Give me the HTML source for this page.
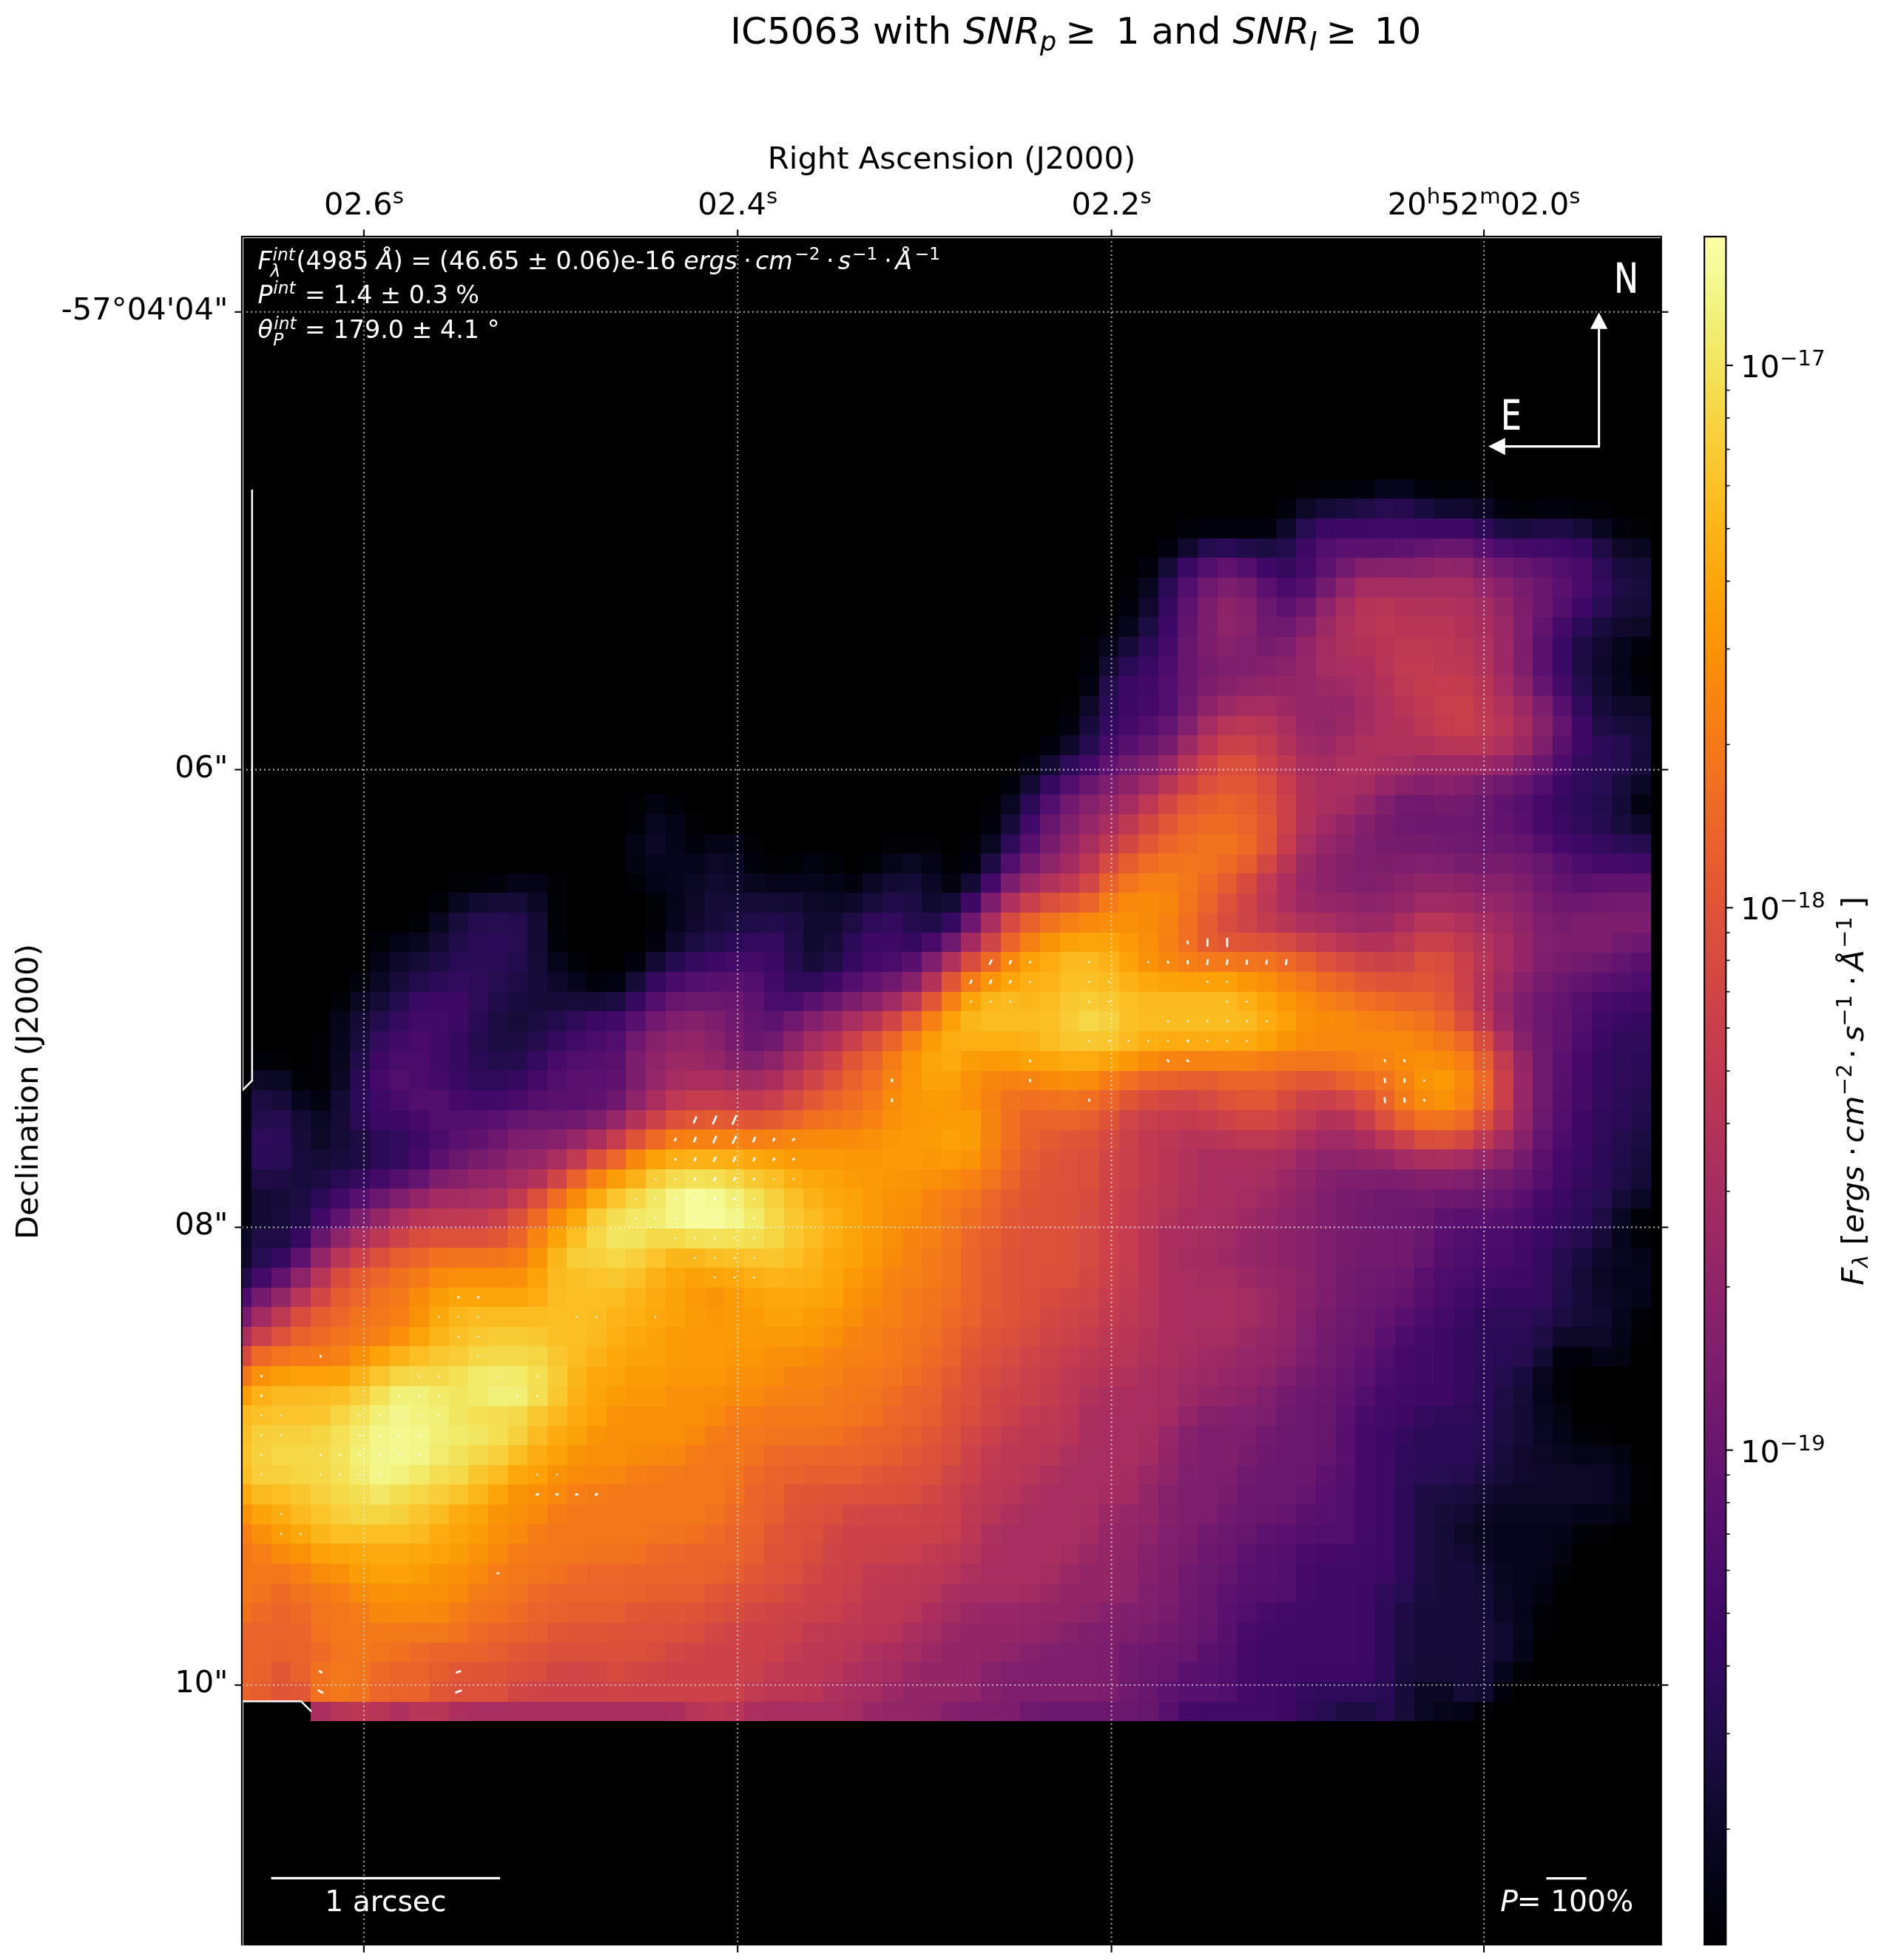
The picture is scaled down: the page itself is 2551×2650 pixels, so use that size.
<!DOCTYPE html>
<html><head><meta charset="utf-8"><title>IC5063</title>
<style>html,body{margin:0;padding:0;background:#fff}svg{display:block;will-change:transform}text{font-family:"DejaVu Sans","Liberation Sans",sans-serif;}.i{font-style:italic}</style></head><body>
<svg width="2551" height="2650" viewBox="0 0 2551 2650">
<rect x="0" y="0" width="2551" height="2650" fill="#fff"/>
<rect x="326.9" y="319.9" width="1919.0" height="2310.4" fill="#000"/>
<g shape-rendering="crispEdges">
<path fill="#010106" d="M1992.0 2300.1h26.8v27.1h-26.8zM2072.0 2193.5h26.8v27.1h-26.8zM2151.9 2060.3h26.8v27.1h-26.8zM2205.2 2007.0h26.8v27.1h-26.8zM2205.2 1980.3h26.8v27.1h-26.8zM2151.9 1927.0h26.8v27.1h-26.8zM2098.6 1847.1h26.8v27.1h-26.8zM2205.2 1793.8h26.8v27.1h-26.8zM420.0 1447.3h26.8v27.1h-26.8zM366.7 1420.6h26.8v27.1h-26.8zM420.0 1420.6h26.8v27.1h-26.8zM420.0 1394.0h26.8v27.1h-26.8zM872.9 1234.1h26.8v27.1h-26.8zM606.5 1180.8h26.8v27.1h-26.8zM739.7 1180.8h26.8v27.1h-26.8zM1032.8 1154.1h26.8v27.1h-26.8zM1272.6 1154.1h26.8v27.1h-26.8zM1006.2 1127.5h26.8v27.1h-26.8zM1192.7 1127.5h80.1v27.1h-80.1zM1299.2 1127.5h26.8v27.1h-26.8zM926.2 1100.8h26.8v27.1h-26.8zM846.3 1074.2h26.8v27.1h-26.8zM1325.9 1074.2h26.8v27.1h-26.8zM1432.5 940.9h26.8v27.1h-26.8zM2205.2 887.6h26.8v27.1h-26.8zM1459.1 860.9h26.8v27.1h-26.8zM1512.4 781.0h26.8v27.1h-26.8zM2205.2 701.0h26.8v27.1h-26.8zM2151.9 674.4h26.8v27.1h-26.8zM1752.2 647.7h26.8v27.1h-26.8zM1992.0 647.7h26.8v27.1h-26.8z"/>
<path fill="#010108" d="M2045.3 2246.8h26.8v27.1h-26.8zM2072.0 2166.9h26.8v27.1h-26.8zM2098.6 2113.6h26.8v27.1h-26.8zM2125.2 2060.3h26.8v27.1h-26.8zM2125.2 1927.0h26.8v27.1h-26.8zM2098.6 1873.7h26.8v27.1h-26.8zM2205.2 1767.1h26.8v27.1h-26.8zM2205.2 1660.5h26.8v27.1h-26.8zM2205.2 1633.8h26.8v27.1h-26.8zM326.9 1447.3h13.4v27.1h-13.4zM393.3 1447.3h26.8v27.1h-26.8zM340.0 1420.6h26.8v27.1h-26.8zM446.6 1340.7h26.8v27.1h-26.8zM766.3 1287.4h26.8v27.1h-26.8zM499.9 1260.7h26.8v27.1h-26.8zM553.2 1234.1h26.8v27.1h-26.8zM739.7 1234.1h26.8v27.1h-26.8zM579.8 1207.4h26.8v27.1h-26.8zM739.7 1207.4h26.8v27.1h-26.8zM872.9 1207.4h26.8v27.1h-26.8zM633.1 1180.8h26.8v27.1h-26.8zM846.3 1180.8h26.8v27.1h-26.8zM1059.4 1154.1h26.8v27.1h-26.8zM1112.7 1154.1h26.8v27.1h-26.8zM1166.0 1154.1h26.8v27.1h-26.8zM846.3 1100.8h26.8v27.1h-26.8zM899.6 1074.2h26.8v27.1h-26.8zM1459.1 887.6h26.8v27.1h-26.8zM1485.8 834.3h26.8v27.1h-26.8zM1592.3 701.0h26.8v27.1h-26.8zM2045.3 674.4h26.8v27.1h-26.8zM2125.2 674.4h26.8v27.1h-26.8zM1778.9 647.7h53.5v27.1h-53.5zM1938.7 647.7h53.5v27.1h-53.5z"/>
<path fill="#02020c" d="M2018.7 2273.5h26.8v27.1h-26.8zM2125.2 1820.4h26.8v27.1h-26.8zM326.9 1607.2h13.4v27.1h-13.4zM473.3 1314.0h26.8v27.1h-26.8zM793.0 1314.0h26.8v27.1h-26.8zM739.7 1260.7h26.8v27.1h-26.8zM659.8 1180.8h26.8v27.1h-26.8zM1006.2 1154.1h26.8v27.1h-26.8zM926.2 1127.5h26.8v27.1h-26.8zM1325.9 1100.8h26.8v27.1h-26.8zM1352.5 1047.5h26.8v27.1h-26.8zM2205.2 914.2h26.8v27.1h-26.8zM2205.2 860.9h26.8v27.1h-26.8zM1512.4 807.6h26.8v27.1h-26.8zM1539.1 754.3h26.8v27.1h-26.8zM1672.3 701.0h26.8v27.1h-26.8zM2178.5 701.0h26.8v27.1h-26.8zM1725.6 674.4h26.8v27.1h-26.8zM2072.0 674.4h53.5v27.1h-53.5z"/>
<path fill="#02020e" d="M2098.6 1820.4h26.8v27.1h-26.8zM326.9 1633.8h13.4v27.1h-13.4zM326.9 1580.5h13.4v27.1h-13.4zM326.9 1500.6h13.4v27.1h-13.4zM326.9 1473.9h13.4v27.1h-13.4zM846.3 1287.4h26.8v27.1h-26.8zM872.9 1260.7h26.8v27.1h-26.8zM1139.4 1180.8h26.8v27.1h-26.8zM1299.2 1154.1h26.8v27.1h-26.8zM1379.2 1020.9h26.8v27.1h-26.8zM1405.8 994.2h26.8v27.1h-26.8zM1432.5 967.5h26.8v27.1h-26.8zM1565.7 727.7h26.8v27.1h-26.8zM1619.0 701.0h53.5v27.1h-53.5zM1698.9 701.0h26.8v27.1h-26.8zM2018.7 674.4h26.8v27.1h-26.8zM1832.1 647.7h26.8v27.1h-26.8zM1912.1 647.7h26.8v27.1h-26.8z"/>
<path fill="#030210" d="M326.9 1553.9h13.4v27.1h-13.4zM326.9 1527.2h13.4v27.1h-13.4zM420.0 1473.9h26.8v27.1h-26.8zM819.6 1314.0h26.8v27.1h-26.8zM1086.1 1154.1h26.8v27.1h-26.8zM872.9 1074.2h26.8v27.1h-26.8zM1459.1 914.2h26.8v27.1h-26.8z"/>
<path fill="#040312" d="M2072.0 2140.2h26.8v27.1h-26.8zM2098.6 2086.9h26.8v27.1h-26.8zM2178.5 2033.6h26.8v27.1h-26.8zM2178.5 1953.7h26.8v27.1h-26.8zM2098.6 1900.4h26.8v27.1h-26.8zM2178.5 1820.4h26.8v27.1h-26.8zM1272.6 1180.8h26.8v27.1h-26.8zM846.3 1154.1h26.8v27.1h-26.8zM2205.2 1074.2h26.8v27.1h-26.8z"/>
<path fill="#050417" d="M1965.4 2300.1h26.8v27.1h-26.8zM2151.9 1820.4h26.8v27.1h-26.8zM499.9 1287.4h26.8v27.1h-26.8zM526.5 1260.7h26.8v27.1h-26.8zM713.1 1180.8h26.8v27.1h-26.8zM872.9 1180.8h26.8v27.1h-26.8zM1112.7 1180.8h26.8v27.1h-26.8zM1246.0 1154.1h26.8v27.1h-26.8zM846.3 1127.5h26.8v27.1h-26.8zM952.9 1127.5h53.5v27.1h-53.5zM899.6 1100.8h26.8v27.1h-26.8z"/>
<path fill="#060419" d="M2045.3 2220.2h26.8v27.1h-26.8zM2045.3 2166.9h26.8v27.1h-26.8zM2072.0 2113.6h26.8v27.1h-26.8zM2098.6 2060.3h26.8v27.1h-26.8zM2125.2 2033.6h53.5v27.1h-53.5zM2178.5 2007.0h26.8v27.1h-26.8zM2178.5 1980.3h26.8v27.1h-26.8zM2125.2 1953.7h53.5v27.1h-53.5zM2098.6 1927.0h26.8v27.1h-26.8zM2178.5 1793.8h26.8v27.1h-26.8zM2205.2 1740.5h26.8v27.1h-26.8zM2205.2 1687.2h26.8v27.1h-26.8zM446.6 1367.3h26.8v27.1h-26.8zM899.6 1207.4h26.8v27.1h-26.8zM686.4 1180.8h26.8v27.1h-26.8zM1192.7 1154.1h26.8v27.1h-26.8zM899.6 1127.5h26.8v27.1h-26.8zM2178.5 887.6h26.8v27.1h-26.8z"/>
<path fill="#07051b" d="M1938.7 2300.1h26.8v27.1h-26.8zM2018.7 2246.8h26.8v27.1h-26.8zM2045.3 2193.5h26.8v27.1h-26.8zM2045.3 2140.2h26.8v27.1h-26.8zM2045.3 2113.6h26.8v27.1h-26.8zM2018.7 2086.9h80.1v27.1h-80.1zM2018.7 2060.3h80.1v27.1h-80.1zM2072.0 1873.7h26.8v27.1h-26.8zM2178.5 1767.1h26.8v27.1h-26.8zM2178.5 1713.8h53.5v27.1h-53.5zM2178.5 1660.5h26.8v27.1h-26.8zM393.3 1473.9h26.8v27.1h-26.8zM446.6 1394.0h26.8v27.1h-26.8zM766.3 1314.0h26.8v27.1h-26.8zM739.7 1287.4h26.8v27.1h-26.8zM899.6 1234.1h26.8v27.1h-26.8zM899.6 1180.8h26.8v27.1h-26.8zM1032.8 1180.8h80.1v27.1h-80.1zM872.9 1154.1h80.1v27.1h-80.1zM2178.5 914.2h26.8v27.1h-26.8zM1485.8 860.9h26.8v27.1h-26.8zM2178.5 860.9h26.8v27.1h-26.8zM1512.4 834.3h26.8v27.1h-26.8zM1858.8 647.7h53.5v27.1h-53.5z"/>
<path fill="#09061f" d="M2018.7 2113.6h26.8v27.1h-26.8zM1992.0 2060.3h26.8v27.1h-26.8zM2018.7 2033.6h106.8v27.1h-106.8zM2098.6 1953.7h26.8v27.1h-26.8zM2072.0 1900.4h26.8v27.1h-26.8zM2072.0 1847.1h26.8v27.1h-26.8zM2178.5 1740.5h26.8v27.1h-26.8zM2178.5 1687.2h26.8v27.1h-26.8zM446.6 1420.6h26.8v27.1h-26.8zM553.2 1260.7h26.8v27.1h-26.8zM579.8 1234.1h26.8v27.1h-26.8zM606.5 1207.4h26.8v27.1h-26.8zM1006.2 1180.8h26.8v27.1h-26.8zM872.9 1100.8h26.8v27.1h-26.8zM1539.1 781.0h26.8v27.1h-26.8zM2205.2 727.7h26.8v27.1h-26.8zM2151.9 701.0h26.8v27.1h-26.8z"/>
<path fill="#0a0722" d="M1912.1 2300.1h26.8v27.1h-26.8zM2018.7 2140.2h26.8v27.1h-26.8zM2072.0 1927.0h26.8v27.1h-26.8zM326.9 1660.5h13.4v27.1h-13.4zM2178.5 1633.8h26.8v27.1h-26.8zM2205.2 1607.2h26.8v27.1h-26.8zM420.0 1500.6h26.8v27.1h-26.8zM366.7 1447.3h26.8v27.1h-26.8zM473.3 1340.7h26.8v27.1h-26.8zM499.9 1314.0h26.8v27.1h-26.8zM1112.7 1207.4h26.8v27.1h-26.8zM926.2 1180.8h26.8v27.1h-26.8zM979.5 1154.1h26.8v27.1h-26.8zM1219.3 1154.1h26.8v27.1h-26.8zM1325.9 1127.5h26.8v27.1h-26.8zM1352.5 1074.2h26.8v27.1h-26.8zM2205.2 1047.5h26.8v27.1h-26.8z"/>
<path fill="#0b0724" d="M1912.1 2273.5h53.5v27.1h-53.5zM2018.7 2166.9h26.8v27.1h-26.8zM1992.0 2086.9h26.8v27.1h-26.8zM1992.0 2033.6h26.8v27.1h-26.8zM2151.9 2007.0h26.8v27.1h-26.8zM2151.9 1980.3h26.8v27.1h-26.8zM2151.9 1713.8h26.8v27.1h-26.8zM446.6 1447.3h26.8v27.1h-26.8zM713.1 1207.4h26.8v27.1h-26.8zM1166.0 1180.8h26.8v27.1h-26.8zM1246.0 1180.8h26.8v27.1h-26.8zM872.9 1127.5h26.8v27.1h-26.8zM1992.0 674.4h26.8v27.1h-26.8z"/>
<path fill="#0c0826" d="M1965.4 2060.3h26.8v27.1h-26.8zM2045.3 2007.0h106.8v27.1h-106.8zM2098.6 1980.3h53.5v27.1h-53.5zM2072.0 1953.7h26.8v27.1h-26.8zM2125.2 1793.8h53.5v27.1h-53.5zM420.0 1527.2h26.8v27.1h-26.8zM340.0 1447.3h26.8v27.1h-26.8zM926.2 1207.4h26.8v27.1h-26.8zM1086.1 1207.4h26.8v27.1h-26.8zM952.9 1154.1h26.8v27.1h-26.8zM1459.1 940.9h26.8v27.1h-26.8zM2205.2 940.9h26.8v27.1h-26.8zM2205.2 834.3h26.8v27.1h-26.8zM2178.5 727.7h26.8v27.1h-26.8zM1752.2 674.4h26.8v27.1h-26.8z"/>
<path fill="#0e092b" d="M2018.7 2007.0h26.8v27.1h-26.8zM2072.0 1980.3h26.8v27.1h-26.8zM2098.6 1793.8h26.8v27.1h-26.8zM2151.9 1740.5h26.8v27.1h-26.8zM326.9 1687.2h13.4v27.1h-13.4zM2151.9 1687.2h26.8v27.1h-26.8zM739.7 1314.0h26.8v27.1h-26.8zM526.5 1287.4h26.8v27.1h-26.8zM899.6 1260.7h26.8v27.1h-26.8zM1139.4 1207.4h26.8v27.1h-26.8zM979.5 1180.8h26.8v27.1h-26.8zM2205.2 1100.8h26.8v27.1h-26.8zM1432.5 994.2h26.8v27.1h-26.8zM2178.5 940.9h26.8v27.1h-26.8zM2151.9 887.6h26.8v27.1h-26.8zM1725.6 701.0h26.8v27.1h-26.8z"/>
<path fill="#10092d" d="M2045.3 1980.3h26.8v27.1h-26.8zM2045.3 1953.7h26.8v27.1h-26.8zM926.2 1234.1h26.8v27.1h-26.8zM2151.9 860.9h26.8v27.1h-26.8zM2178.5 834.3h26.8v27.1h-26.8zM1539.1 807.6h26.8v27.1h-26.8zM1592.3 727.7h26.8v27.1h-26.8zM1965.4 674.4h26.8v27.1h-26.8z"/>
<path fill="#110a30" d="M1992.0 2273.5h26.8v27.1h-26.8zM2018.7 2220.2h26.8v27.1h-26.8zM2018.7 2193.5h26.8v27.1h-26.8zM1992.0 2113.6h26.8v27.1h-26.8zM2151.9 1767.1h26.8v27.1h-26.8zM1086.1 1260.7h26.8v27.1h-26.8zM1086.1 1234.1h53.5v27.1h-53.5zM633.1 1207.4h26.8v27.1h-26.8zM1246.0 1207.4h26.8v27.1h-26.8zM952.9 1180.8h26.8v27.1h-26.8zM2151.9 914.2h26.8v27.1h-26.8zM1938.7 674.4h26.8v27.1h-26.8z"/>
<path fill="#140b34" d="M1992.0 2246.8h26.8v27.1h-26.8zM1992.0 2140.2h26.8v27.1h-26.8zM1965.4 2086.9h26.8v27.1h-26.8zM1965.4 2033.6h26.8v27.1h-26.8zM1992.0 2007.0h26.8v27.1h-26.8zM2045.3 1927.0h26.8v27.1h-26.8zM2045.3 1900.4h26.8v27.1h-26.8zM2072.0 1820.4h26.8v27.1h-26.8zM340.0 1633.8h26.8v27.1h-26.8zM340.0 1607.2h26.8v27.1h-26.8zM393.3 1500.6h26.8v27.1h-26.8zM446.6 1473.9h26.8v27.1h-26.8zM473.3 1367.3h26.8v27.1h-26.8zM872.9 1287.4h26.8v27.1h-26.8zM579.8 1260.7h26.8v27.1h-26.8zM713.1 1260.7h26.8v27.1h-26.8zM713.1 1234.1h26.8v27.1h-26.8zM1059.4 1207.4h26.8v27.1h-26.8zM1192.7 1180.8h26.8v27.1h-26.8zM1299.2 1180.8h26.8v27.1h-26.8zM2178.5 1074.2h26.8v27.1h-26.8zM1379.2 1047.5h26.8v27.1h-26.8zM1405.8 1020.9h26.8v27.1h-26.8zM1485.8 887.6h26.8v27.1h-26.8z"/>
<path fill="#150b37" d="M1965.4 2273.5h26.8v27.1h-26.8zM1912.1 2246.8h53.5v27.1h-53.5zM1992.0 2166.9h26.8v27.1h-26.8zM1938.7 2060.3h26.8v27.1h-26.8zM2018.7 1980.3h26.8v27.1h-26.8zM2045.3 1873.7h26.8v27.1h-26.8zM2125.2 1767.1h26.8v27.1h-26.8zM2125.2 1713.8h26.8v27.1h-26.8zM2178.5 1607.2h26.8v27.1h-26.8zM2205.2 1580.5h26.8v27.1h-26.8zM420.0 1553.9h26.8v27.1h-26.8zM446.6 1527.2h26.8v27.1h-26.8zM446.6 1500.6h26.8v27.1h-26.8zM499.9 1340.7h26.8v27.1h-26.8zM846.3 1314.0h26.8v27.1h-26.8zM553.2 1287.4h26.8v27.1h-26.8zM713.1 1287.4h26.8v27.1h-26.8zM659.8 1207.4h53.5v27.1h-53.5zM952.9 1207.4h106.8v27.1h-106.8zM1272.6 1207.4h26.8v27.1h-26.8zM1219.3 1180.8h26.8v27.1h-26.8zM2205.2 967.5h26.8v27.1h-26.8zM2205.2 807.6h26.8v27.1h-26.8zM1565.7 754.3h26.8v27.1h-26.8zM2205.2 754.3h26.8v27.1h-26.8zM2125.2 701.0h26.8v27.1h-26.8zM1778.9 674.4h26.8v27.1h-26.8z"/>
<path fill="#160b39" d="M1885.4 2300.1h26.8v27.1h-26.8zM1885.4 2273.5h26.8v27.1h-26.8zM1965.4 2246.8h26.8v27.1h-26.8zM1912.1 2220.2h106.8v27.1h-106.8zM1912.1 2193.5h106.8v27.1h-106.8zM1912.1 2166.9h80.1v27.1h-80.1zM1938.7 2140.2h53.5v27.1h-53.5zM1938.7 2113.6h53.5v27.1h-53.5zM1938.7 2086.9h26.8v27.1h-26.8zM1938.7 2033.6h26.8v27.1h-26.8zM2125.2 1740.5h26.8v27.1h-26.8zM2151.9 1660.5h26.8v27.1h-26.8zM366.7 1607.2h26.8v27.1h-26.8zM393.3 1527.2h26.8v27.1h-26.8zM366.7 1473.9h26.8v27.1h-26.8zM686.4 1367.3h26.8v27.1h-26.8zM713.1 1340.7h106.8v27.1h-106.8zM526.5 1314.0h26.8v27.1h-26.8zM713.1 1314.0h26.8v27.1h-26.8zM1086.1 1287.4h26.8v27.1h-26.8zM1112.7 1260.7h26.8v27.1h-26.8zM952.9 1234.1h26.8v27.1h-26.8zM1352.5 1100.8h26.8v27.1h-26.8zM2205.2 1020.9h26.8v27.1h-26.8zM1459.1 967.5h26.8v27.1h-26.8zM2151.9 940.9h26.8v27.1h-26.8zM1512.4 860.9h26.8v27.1h-26.8z"/>
<path fill="#180c3c" d="M1885.4 2246.8h26.8v27.1h-26.8zM1912.1 2140.2h26.8v27.1h-26.8zM1965.4 2007.0h26.8v27.1h-26.8zM2018.7 1953.7h26.8v27.1h-26.8zM2045.3 1847.1h26.8v27.1h-26.8zM2125.2 1687.2h26.8v27.1h-26.8zM366.7 1633.8h26.8v27.1h-26.8zM393.3 1580.5h26.8v27.1h-26.8zM393.3 1553.9h26.8v27.1h-26.8zM446.6 1553.9h26.8v27.1h-26.8zM2205.2 1553.9h26.8v27.1h-26.8zM473.3 1394.0h26.8v27.1h-26.8zM686.4 1340.7h26.8v27.1h-26.8zM606.5 1234.1h26.8v27.1h-26.8zM1166.0 1207.4h26.8v27.1h-26.8zM2178.5 1100.8h26.8v27.1h-26.8zM2178.5 1047.5h26.8v27.1h-26.8zM2205.2 994.2h26.8v27.1h-26.8zM2178.5 967.5h26.8v27.1h-26.8zM2151.9 834.3h26.8v27.1h-26.8zM2178.5 807.6h26.8v27.1h-26.8zM2205.2 781.0h26.8v27.1h-26.8zM2178.5 754.3h26.8v27.1h-26.8zM2045.3 701.0h26.8v27.1h-26.8zM1805.5 674.4h26.8v27.1h-26.8zM1912.1 674.4h26.8v27.1h-26.8z"/>
<path fill="#1b0c41" d="M1805.5 2300.1h53.5v27.1h-53.5zM1885.4 2220.2h26.8v27.1h-26.8zM1885.4 2193.5h26.8v27.1h-26.8zM1912.1 2113.6h26.8v27.1h-26.8zM1912.1 2086.9h26.8v27.1h-26.8zM1912.1 2060.3h26.8v27.1h-26.8zM1912.1 2033.6h26.8v27.1h-26.8zM1938.7 2007.0h26.8v27.1h-26.8zM1992.0 1980.3h26.8v27.1h-26.8zM2018.7 1927.0h26.8v27.1h-26.8zM2018.7 1900.4h26.8v27.1h-26.8zM2098.6 1767.1h26.8v27.1h-26.8zM393.3 1607.2h26.8v27.1h-26.8zM2205.2 1527.2h26.8v27.1h-26.8zM340.0 1473.9h26.8v27.1h-26.8zM659.8 1394.0h53.5v27.1h-53.5zM659.8 1367.3h26.8v27.1h-26.8zM713.1 1367.3h26.8v27.1h-26.8zM819.6 1340.7h26.8v27.1h-26.8zM926.2 1260.7h26.8v27.1h-26.8zM979.5 1234.1h26.8v27.1h-26.8zM2125.2 887.6h26.8v27.1h-26.8zM1539.1 834.3h26.8v27.1h-26.8zM1698.9 727.7h26.8v27.1h-26.8zM2018.7 701.0h26.8v27.1h-26.8z"/>
<path fill="#1c0c43" d="M1885.4 2166.9h26.8v27.1h-26.8zM1912.1 2007.0h26.8v27.1h-26.8zM366.7 1580.5h26.8v27.1h-26.8zM420.0 1580.5h26.8v27.1h-26.8zM473.3 1553.9h26.8v27.1h-26.8zM473.3 1527.2h26.8v27.1h-26.8zM579.8 1287.4h26.8v27.1h-26.8zM1059.4 1234.1h26.8v27.1h-26.8zM1219.3 1207.4h26.8v27.1h-26.8zM1325.9 1154.1h26.8v27.1h-26.8zM2125.2 860.9h26.8v27.1h-26.8zM2072.0 701.0h53.5v27.1h-53.5z"/>
<path fill="#1e0c45" d="M2018.7 1873.7h26.8v27.1h-26.8zM2072.0 1793.8h26.8v27.1h-26.8zM340.0 1660.5h53.5v27.1h-53.5zM2151.9 1633.8h26.8v27.1h-26.8zM340.0 1580.5h26.8v27.1h-26.8zM2178.5 1580.5h26.8v27.1h-26.8zM686.4 1314.0h26.8v27.1h-26.8zM1112.7 1287.4h26.8v27.1h-26.8zM1139.4 1234.1h26.8v27.1h-26.8zM2151.9 967.5h26.8v27.1h-26.8zM2178.5 781.0h26.8v27.1h-26.8zM2151.9 727.7h26.8v27.1h-26.8zM1832.1 674.4h26.8v27.1h-26.8z"/>
<path fill="#210c4a" d="M2098.6 1740.5h26.8v27.1h-26.8zM326.9 1713.8h13.4v27.1h-13.4zM393.3 1633.8h26.8v27.1h-26.8zM2178.5 1553.9h26.8v27.1h-26.8zM2205.2 1500.6h26.8v27.1h-26.8zM473.3 1420.6h26.8v27.1h-26.8zM659.8 1340.7h26.8v27.1h-26.8zM606.5 1260.7h26.8v27.1h-26.8zM1059.4 1260.7h26.8v27.1h-26.8zM1006.2 1234.1h26.8v27.1h-26.8zM1246.0 1234.1h26.8v27.1h-26.8zM1192.7 1207.4h26.8v27.1h-26.8zM1672.3 727.7h26.8v27.1h-26.8z"/>
<path fill="#230c4c" d="M2018.7 1847.1h26.8v27.1h-26.8zM2098.6 1713.8h26.8v27.1h-26.8zM2178.5 1527.2h26.8v27.1h-26.8zM340.0 1500.6h26.8v27.1h-26.8zM659.8 1420.6h26.8v27.1h-26.8zM499.9 1367.3h26.8v27.1h-26.8zM739.7 1367.3h26.8v27.1h-26.8zM553.2 1314.0h26.8v27.1h-26.8zM686.4 1287.4h26.8v27.1h-26.8zM952.9 1260.7h26.8v27.1h-26.8zM1032.8 1234.1h26.8v27.1h-26.8zM2151.9 1074.2h26.8v27.1h-26.8zM1485.8 914.2h26.8v27.1h-26.8zM2125.2 914.2h26.8v27.1h-26.8zM1725.6 727.7h26.8v27.1h-26.8z"/>
<path fill="#240c4f" d="M1858.8 2300.1h26.8v27.1h-26.8zM1965.4 1980.3h26.8v27.1h-26.8zM1992.0 1953.7h26.8v27.1h-26.8zM2045.3 1820.4h26.8v27.1h-26.8zM2098.6 1687.2h26.8v27.1h-26.8zM2125.2 1660.5h26.8v27.1h-26.8zM366.7 1500.6h26.8v27.1h-26.8zM2205.2 1473.9h26.8v27.1h-26.8zM686.4 1420.6h26.8v27.1h-26.8zM633.1 1394.0h26.8v27.1h-26.8zM713.1 1394.0h26.8v27.1h-26.8zM526.5 1340.7h26.8v27.1h-26.8zM899.6 1287.4h26.8v27.1h-26.8zM1059.4 1287.4h26.8v27.1h-26.8zM633.1 1234.1h26.8v27.1h-26.8zM686.4 1234.1h26.8v27.1h-26.8zM1219.3 1234.1h26.8v27.1h-26.8zM2205.2 1127.5h26.8v27.1h-26.8zM2151.9 1100.8h26.8v27.1h-26.8zM2178.5 1020.9h26.8v27.1h-26.8zM1459.1 994.2h26.8v27.1h-26.8zM2178.5 994.2h26.8v27.1h-26.8zM1619.0 727.7h26.8v27.1h-26.8zM1885.4 674.4h26.8v27.1h-26.8z"/>
<path fill="#260c51" d="M1778.9 2300.1h26.8v27.1h-26.8zM1885.4 2140.2h26.8v27.1h-26.8zM1938.7 1980.3h26.8v27.1h-26.8zM1992.0 1927.0h26.8v27.1h-26.8zM2072.0 1767.1h26.8v27.1h-26.8zM340.0 1687.2h26.8v27.1h-26.8zM2151.9 1607.2h26.8v27.1h-26.8zM659.8 1314.0h26.8v27.1h-26.8zM686.4 1260.7h26.8v27.1h-26.8zM659.8 1234.1h26.8v27.1h-26.8zM2151.9 1047.5h26.8v27.1h-26.8zM1752.2 701.0h26.8v27.1h-26.8zM1858.8 674.4h26.8v27.1h-26.8z"/>
<path fill="#290b55" d="M1858.8 2273.5h26.8v27.1h-26.8zM1912.1 1980.3h26.8v27.1h-26.8zM1992.0 1900.4h26.8v27.1h-26.8zM2018.7 1820.4h26.8v27.1h-26.8zM2045.3 1793.8h26.8v27.1h-26.8zM446.6 1580.5h26.8v27.1h-26.8zM366.7 1553.9h26.8v27.1h-26.8zM473.3 1500.6h26.8v27.1h-26.8zM2178.5 1500.6h26.8v27.1h-26.8zM473.3 1447.3h26.8v27.1h-26.8zM2205.2 1447.3h26.8v27.1h-26.8zM633.1 1420.6h26.8v27.1h-26.8zM633.1 1367.3h26.8v27.1h-26.8zM606.5 1287.4h26.8v27.1h-26.8zM659.8 1287.4h26.8v27.1h-26.8zM633.1 1260.7h26.8v27.1h-26.8zM1485.8 940.9h26.8v27.1h-26.8zM1512.4 887.6h26.8v27.1h-26.8zM2151.9 807.6h26.8v27.1h-26.8zM1565.7 781.0h26.8v27.1h-26.8zM1645.6 727.7h26.8v27.1h-26.8z"/>
<path fill="#2b0b57" d="M1858.8 2246.8h26.8v27.1h-26.8zM1858.8 2220.2h26.8v27.1h-26.8zM1858.8 2193.5h26.8v27.1h-26.8zM1858.8 2166.9h26.8v27.1h-26.8zM1885.4 2113.6h26.8v27.1h-26.8zM1885.4 2086.9h26.8v27.1h-26.8zM1885.4 2060.3h26.8v27.1h-26.8zM1885.4 2033.6h26.8v27.1h-26.8zM1885.4 2007.0h26.8v27.1h-26.8zM1912.1 1953.7h80.1v27.1h-80.1zM1912.1 1927.0h80.1v27.1h-80.1zM1992.0 1873.7h26.8v27.1h-26.8zM1992.0 1847.1h26.8v27.1h-26.8zM2018.7 1793.8h26.8v27.1h-26.8zM2125.2 1633.8h26.8v27.1h-26.8zM420.0 1607.2h26.8v27.1h-26.8zM2151.9 1580.5h26.8v27.1h-26.8zM340.0 1553.9h26.8v27.1h-26.8zM499.9 1553.9h26.8v27.1h-26.8zM2151.9 1553.9h26.8v27.1h-26.8zM366.7 1527.2h26.8v27.1h-26.8zM499.9 1527.2h26.8v27.1h-26.8zM473.3 1473.9h26.8v27.1h-26.8zM2178.5 1473.9h26.8v27.1h-26.8zM2205.2 1420.6h26.8v27.1h-26.8zM579.8 1314.0h26.8v27.1h-26.8zM633.1 1287.4h26.8v27.1h-26.8zM659.8 1260.7h26.8v27.1h-26.8zM979.5 1260.7h26.8v27.1h-26.8zM1139.4 1260.7h26.8v27.1h-26.8zM2178.5 1127.5h26.8v27.1h-26.8zM1379.2 1074.2h26.8v27.1h-26.8zM2125.2 1074.2h26.8v27.1h-26.8zM2151.9 1020.9h26.8v27.1h-26.8zM2151.9 994.2h26.8v27.1h-26.8zM1539.1 860.9h26.8v27.1h-26.8zM2125.2 834.3h26.8v27.1h-26.8z"/>
<path fill="#2d0b59" d="M1832.1 2273.5h26.8v27.1h-26.8zM1885.4 1980.3h26.8v27.1h-26.8zM1965.4 1900.4h26.8v27.1h-26.8zM1992.0 1820.4h26.8v27.1h-26.8zM1992.0 1793.8h26.8v27.1h-26.8zM2018.7 1767.1h53.5v27.1h-53.5zM2098.6 1660.5h26.8v27.1h-26.8zM2125.2 1607.2h26.8v27.1h-26.8zM340.0 1527.2h26.8v27.1h-26.8zM2151.9 1527.2h26.8v27.1h-26.8zM2178.5 1447.3h26.8v27.1h-26.8zM2178.5 1420.6h26.8v27.1h-26.8zM2205.2 1394.0h26.8v27.1h-26.8zM766.3 1367.3h26.8v27.1h-26.8zM633.1 1340.7h26.8v27.1h-26.8zM633.1 1314.0h26.8v27.1h-26.8zM1352.5 1127.5h26.8v27.1h-26.8zM2125.2 1047.5h26.8v27.1h-26.8zM1432.5 1020.9h26.8v27.1h-26.8zM2151.9 754.3h26.8v27.1h-26.8zM1992.0 701.0h26.8v27.1h-26.8z"/>
<path fill="#2f0a5b" d="M1752.2 2300.1h26.8v27.1h-26.8zM1778.9 2273.5h53.5v27.1h-53.5zM1858.8 2140.2h26.8v27.1h-26.8zM1885.4 1953.7h26.8v27.1h-26.8zM1938.7 1900.4h26.8v27.1h-26.8zM1992.0 1767.1h26.8v27.1h-26.8zM2151.9 1500.6h26.8v27.1h-26.8zM633.1 1447.3h53.5v27.1h-53.5zM2178.5 1394.0h26.8v27.1h-26.8zM1059.4 1314.0h53.5v27.1h-53.5zM1166.0 1234.1h26.8v27.1h-26.8zM2125.2 1100.8h26.8v27.1h-26.8zM2125.2 940.9h26.8v27.1h-26.8z"/>
<path fill="#320a5e" d="M1752.2 2273.5h26.8v27.1h-26.8zM1885.4 1927.0h26.8v27.1h-26.8zM1912.1 1900.4h26.8v27.1h-26.8zM2072.0 1740.5h26.8v27.1h-26.8zM473.3 1580.5h26.8v27.1h-26.8zM526.5 1527.2h26.8v27.1h-26.8zM499.9 1394.0h26.8v27.1h-26.8zM606.5 1314.0h26.8v27.1h-26.8zM1006.2 1260.7h53.5v27.1h-53.5zM1192.7 1234.1h26.8v27.1h-26.8zM2125.2 1020.9h26.8v27.1h-26.8zM2151.9 781.0h26.8v27.1h-26.8z"/>
<path fill="#340a5f" d="M1965.4 1873.7h26.8v27.1h-26.8zM2072.0 1713.8h26.8v27.1h-26.8zM2072.0 1687.2h26.8v27.1h-26.8zM2098.6 1633.8h26.8v27.1h-26.8zM2125.2 1580.5h26.8v27.1h-26.8zM526.5 1553.9h26.8v27.1h-26.8zM2151.9 1473.9h26.8v27.1h-26.8zM713.1 1420.6h26.8v27.1h-26.8zM739.7 1394.0h26.8v27.1h-26.8zM526.5 1367.3h26.8v27.1h-26.8zM872.9 1314.0h26.8v27.1h-26.8zM926.2 1287.4h26.8v27.1h-26.8zM2151.9 1127.5h26.8v27.1h-26.8zM1485.8 967.5h26.8v27.1h-26.8zM1725.6 754.3h26.8v27.1h-26.8z"/>
<path fill="#360961" d="M1965.4 1847.1h26.8v27.1h-26.8zM1965.4 1820.4h26.8v27.1h-26.8zM1965.4 1793.8h26.8v27.1h-26.8zM2018.7 1740.5h53.5v27.1h-53.5zM366.7 1687.2h26.8v27.1h-26.8zM393.3 1660.5h26.8v27.1h-26.8zM686.4 1447.3h26.8v27.1h-26.8zM2151.9 1447.3h26.8v27.1h-26.8zM606.5 1420.6h26.8v27.1h-26.8zM2151.9 1420.6h26.8v27.1h-26.8zM606.5 1394.0h26.8v27.1h-26.8zM2205.2 1367.3h26.8v27.1h-26.8zM846.3 1340.7h26.8v27.1h-26.8zM1139.4 1287.4h26.8v27.1h-26.8zM1219.3 1260.7h26.8v27.1h-26.8zM1272.6 1234.1h26.8v27.1h-26.8zM2098.6 1074.2h26.8v27.1h-26.8zM1405.8 1047.5h26.8v27.1h-26.8zM1565.7 807.6h26.8v27.1h-26.8zM2125.2 727.7h26.8v27.1h-26.8z"/>
<path fill="#390963" d="M1965.4 1767.1h26.8v27.1h-26.8zM1992.0 1740.5h26.8v27.1h-26.8zM2072.0 1660.5h26.8v27.1h-26.8zM2098.6 1607.2h26.8v27.1h-26.8zM2125.2 1553.9h26.8v27.1h-26.8zM606.5 1447.3h26.8v27.1h-26.8zM793.0 1367.3h26.8v27.1h-26.8zM2178.5 1367.3h26.8v27.1h-26.8zM553.2 1340.7h26.8v27.1h-26.8zM2098.6 1100.8h26.8v27.1h-26.8zM1539.1 887.6h26.8v27.1h-26.8zM2098.6 887.6h26.8v27.1h-26.8zM2098.6 860.9h26.8v27.1h-26.8zM1592.3 754.3h26.8v27.1h-26.8z"/>
<path fill="#3b0964" d="M1832.1 2246.8h26.8v27.1h-26.8zM1858.8 2113.6h26.8v27.1h-26.8zM499.9 1500.6h26.8v27.1h-26.8zM2151.9 1394.0h26.8v27.1h-26.8zM1032.8 1287.4h26.8v27.1h-26.8zM2098.6 1047.5h26.8v27.1h-26.8zM1512.4 914.2h26.8v27.1h-26.8zM1778.9 701.0h26.8v27.1h-26.8z"/>
<path fill="#3d0965" d="M1725.6 2300.1h26.8v27.1h-26.8zM1778.9 2246.8h53.5v27.1h-53.5zM1832.1 2220.2h26.8v27.1h-26.8zM1832.1 2193.5h26.8v27.1h-26.8zM1832.1 2166.9h26.8v27.1h-26.8zM1858.8 2086.9h26.8v27.1h-26.8zM1858.8 2060.3h26.8v27.1h-26.8zM1858.8 2033.6h26.8v27.1h-26.8zM1858.8 2007.0h26.8v27.1h-26.8zM1858.8 1980.3h26.8v27.1h-26.8zM1858.8 1953.7h26.8v27.1h-26.8zM1885.4 1900.4h26.8v27.1h-26.8zM1938.7 1873.7h26.8v27.1h-26.8zM2125.2 1527.2h26.8v27.1h-26.8zM499.9 1420.6h26.8v27.1h-26.8zM606.5 1367.3h26.8v27.1h-26.8zM579.8 1340.7h53.5v27.1h-53.5zM1112.7 1314.0h26.8v27.1h-26.8zM1166.0 1260.7h53.5v27.1h-53.5zM1299.2 1207.4h26.8v27.1h-26.8zM1752.2 727.7h26.8v27.1h-26.8zM1805.5 701.0h26.8v27.1h-26.8zM1965.4 701.0h26.8v27.1h-26.8z"/>
<path fill="#3e0966" d="M1725.6 2273.5h26.8v27.1h-26.8zM1752.2 2246.8h26.8v27.1h-26.8zM1832.1 2140.2h26.8v27.1h-26.8zM1858.8 1927.0h26.8v27.1h-26.8zM1912.1 1873.7h26.8v27.1h-26.8zM1938.7 1847.1h26.8v27.1h-26.8zM1938.7 1820.4h26.8v27.1h-26.8zM1938.7 1793.8h26.8v27.1h-26.8zM2045.3 1713.8h26.8v27.1h-26.8zM2072.0 1633.8h26.8v27.1h-26.8zM553.2 1527.2h26.8v27.1h-26.8zM526.5 1500.6h26.8v27.1h-26.8zM2125.2 1500.6h26.8v27.1h-26.8zM499.9 1473.9h26.8v27.1h-26.8zM952.9 1287.4h26.8v27.1h-26.8zM2125.2 1127.5h26.8v27.1h-26.8zM2125.2 994.2h26.8v27.1h-26.8zM2125.2 967.5h26.8v27.1h-26.8zM1512.4 940.9h26.8v27.1h-26.8zM1565.7 834.3h26.8v27.1h-26.8zM2125.2 807.6h26.8v27.1h-26.8zM1698.9 754.3h26.8v27.1h-26.8zM2098.6 727.7h26.8v27.1h-26.8zM1832.1 701.0h26.8v27.1h-26.8zM1912.1 701.0h53.5v27.1h-53.5z"/>
<path fill="#420a68" d="M1619.0 2300.1h106.8v27.1h-106.8zM1698.9 2273.5h26.8v27.1h-26.8zM1698.9 2246.8h53.5v27.1h-53.5zM1698.9 2220.2h133.4v27.1h-133.4zM1698.9 2193.5h133.4v27.1h-133.4zM1752.2 2166.9h80.1v27.1h-80.1zM1778.9 2140.2h53.5v27.1h-53.5zM1778.9 2113.6h80.1v27.1h-80.1zM1832.1 2086.9h26.8v27.1h-26.8zM1858.8 1900.4h26.8v27.1h-26.8zM1885.4 1873.7h26.8v27.1h-26.8zM1912.1 1847.1h26.8v27.1h-26.8zM1912.1 1820.4h26.8v27.1h-26.8zM1965.4 1740.5h26.8v27.1h-26.8zM2018.7 1713.8h26.8v27.1h-26.8zM2045.3 1687.2h26.8v27.1h-26.8zM420.0 1633.8h26.8v27.1h-26.8zM446.6 1607.2h26.8v27.1h-26.8zM2098.6 1580.5h26.8v27.1h-26.8zM633.1 1473.9h53.5v27.1h-53.5zM579.8 1420.6h26.8v27.1h-26.8zM526.5 1394.0h26.8v27.1h-26.8zM579.8 1394.0h26.8v27.1h-26.8zM766.3 1394.0h26.8v27.1h-26.8zM553.2 1367.3h53.5v27.1h-53.5zM819.6 1367.3h26.8v27.1h-26.8zM2151.9 1367.3h26.8v27.1h-26.8zM2205.2 1340.7h26.8v27.1h-26.8zM1032.8 1314.0h26.8v27.1h-26.8zM2205.2 1154.1h26.8v27.1h-26.8zM1379.2 1100.8h26.8v27.1h-26.8zM1539.1 914.2h26.8v27.1h-26.8zM2072.0 727.7h26.8v27.1h-26.8zM1858.8 701.0h53.5v27.1h-53.5z"/>
<path fill="#440a68" d="M1725.6 2166.9h26.8v27.1h-26.8zM1752.2 2140.2h26.8v27.1h-26.8zM1805.5 2086.9h26.8v27.1h-26.8zM1832.1 2060.3h26.8v27.1h-26.8zM1885.4 1847.1h26.8v27.1h-26.8zM1912.1 1793.8h26.8v27.1h-26.8zM1938.7 1767.1h26.8v27.1h-26.8zM340.0 1713.8h26.8v27.1h-26.8zM1992.0 1713.8h26.8v27.1h-26.8zM2045.3 1660.5h26.8v27.1h-26.8zM499.9 1580.5h26.8v27.1h-26.8zM2125.2 1473.9h26.8v27.1h-26.8zM579.8 1447.3h26.8v27.1h-26.8zM713.1 1447.3h26.8v27.1h-26.8zM2125.2 1447.3h26.8v27.1h-26.8zM2178.5 1340.7h26.8v27.1h-26.8zM979.5 1287.4h53.5v27.1h-53.5zM2178.5 1154.1h26.8v27.1h-26.8zM1485.8 994.2h26.8v27.1h-26.8zM1512.4 967.5h26.8v27.1h-26.8zM2098.6 914.2h26.8v27.1h-26.8zM2098.6 834.3h26.8v27.1h-26.8zM1752.2 754.3h26.8v27.1h-26.8zM2045.3 727.7h26.8v27.1h-26.8z"/>
<path fill="#450a69" d="M1592.3 2300.1h26.8v27.1h-26.8zM1672.3 2273.5h26.8v27.1h-26.8zM1672.3 2246.8h26.8v27.1h-26.8zM1672.3 2220.2h26.8v27.1h-26.8zM1752.2 2113.6h26.8v27.1h-26.8zM1778.9 2086.9h26.8v27.1h-26.8zM1832.1 2033.6h26.8v27.1h-26.8zM1832.1 2007.0h26.8v27.1h-26.8zM1832.1 1980.3h26.8v27.1h-26.8zM1832.1 1953.7h26.8v27.1h-26.8zM1832.1 1927.0h26.8v27.1h-26.8zM1858.8 1873.7h26.8v27.1h-26.8zM1885.4 1820.4h26.8v27.1h-26.8zM2072.0 1607.2h26.8v27.1h-26.8zM553.2 1553.9h26.8v27.1h-26.8zM2098.6 1553.9h26.8v27.1h-26.8zM553.2 1500.6h26.8v27.1h-26.8zM606.5 1473.9h26.8v27.1h-26.8zM499.9 1447.3h26.8v27.1h-26.8zM2125.2 1420.6h26.8v27.1h-26.8zM1166.0 1287.4h26.8v27.1h-26.8zM1325.9 1180.8h26.8v27.1h-26.8zM2151.9 1154.1h26.8v27.1h-26.8zM2098.6 1127.5h26.8v27.1h-26.8zM2072.0 1100.8h26.8v27.1h-26.8zM2072.0 1074.2h26.8v27.1h-26.8zM1459.1 1020.9h26.8v27.1h-26.8zM1539.1 940.9h26.8v27.1h-26.8zM1565.7 860.9h26.8v27.1h-26.8z"/>
<path fill="#490b6a" d="M1672.3 2193.5h26.8v27.1h-26.8zM1698.9 2166.9h26.8v27.1h-26.8zM1752.2 2086.9h26.8v27.1h-26.8zM1832.1 1900.4h26.8v27.1h-26.8zM2018.7 1687.2h26.8v27.1h-26.8zM526.5 1473.9h26.8v27.1h-26.8zM686.4 1473.9h26.8v27.1h-26.8zM739.7 1420.6h26.8v27.1h-26.8zM553.2 1394.0h26.8v27.1h-26.8zM2151.9 1340.7h26.8v27.1h-26.8zM899.6 1314.0h26.8v27.1h-26.8zM1246.0 1260.7h26.8v27.1h-26.8zM1725.6 781.0h26.8v27.1h-26.8zM2125.2 781.0h26.8v27.1h-26.8zM2125.2 754.3h26.8v27.1h-26.8z"/>
<path fill="#4a0c6b" d="M1938.7 1740.5h26.8v27.1h-26.8zM1965.4 1713.8h26.8v27.1h-26.8zM1992.0 1687.2h26.8v27.1h-26.8zM579.8 1527.2h26.8v27.1h-26.8zM526.5 1420.6h53.5v27.1h-53.5zM793.0 1394.0h26.8v27.1h-26.8zM1032.8 1340.7h53.5v27.1h-53.5zM1192.7 1287.4h26.8v27.1h-26.8zM2018.7 727.7h26.8v27.1h-26.8z"/>
<path fill="#4c0c6b" d="M1858.8 1847.1h26.8v27.1h-26.8zM1885.4 1793.8h26.8v27.1h-26.8zM1912.1 1767.1h26.8v27.1h-26.8zM326.9 1740.5h13.4v27.1h-13.4zM2018.7 1660.5h26.8v27.1h-26.8zM2045.3 1633.8h26.8v27.1h-26.8zM2098.6 1527.2h26.8v27.1h-26.8zM553.2 1447.3h26.8v27.1h-26.8zM2125.2 1394.0h26.8v27.1h-26.8zM2125.2 1154.1h26.8v27.1h-26.8zM2098.6 1020.9h26.8v27.1h-26.8zM1565.7 887.6h26.8v27.1h-26.8z"/>
<path fill="#4d0d6c" d="M1938.7 1713.8h26.8v27.1h-26.8zM1965.4 1687.2h26.8v27.1h-26.8zM1992.0 1660.5h26.8v27.1h-26.8zM2205.2 1314.0h26.8v27.1h-26.8z"/>
<path fill="#510e6c" d="M1725.6 2140.2h26.8v27.1h-26.8zM1805.5 2060.3h26.8v27.1h-26.8zM1858.8 1820.4h26.8v27.1h-26.8zM1965.4 1660.5h26.8v27.1h-26.8zM579.8 1500.6h26.8v27.1h-26.8zM2098.6 1500.6h26.8v27.1h-26.8zM553.2 1473.9h53.5v27.1h-53.5zM526.5 1447.3h26.8v27.1h-26.8zM1139.4 1314.0h26.8v27.1h-26.8zM2072.0 1047.5h26.8v27.1h-26.8zM1539.1 967.5h26.8v27.1h-26.8zM1565.7 914.2h26.8v27.1h-26.8zM1778.9 727.7h26.8v27.1h-26.8z"/>
<path fill="#520e6d" d="M1645.6 2273.5h26.8v27.1h-26.8zM1645.6 2246.8h26.8v27.1h-26.8zM1672.3 2166.9h26.8v27.1h-26.8zM1725.6 2113.6h26.8v27.1h-26.8zM1778.9 2060.3h26.8v27.1h-26.8zM1805.5 2033.6h26.8v27.1h-26.8zM1805.5 2007.0h26.8v27.1h-26.8zM1832.1 1873.7h26.8v27.1h-26.8zM606.5 1500.6h26.8v27.1h-26.8zM739.7 1447.3h26.8v27.1h-26.8zM766.3 1420.6h26.8v27.1h-26.8zM819.6 1394.0h26.8v27.1h-26.8zM2125.2 1367.3h26.8v27.1h-26.8zM926.2 1314.0h26.8v27.1h-26.8zM1006.2 1314.0h26.8v27.1h-26.8zM1352.5 1154.1h26.8v27.1h-26.8zM1405.8 1074.2h26.8v27.1h-26.8zM1432.5 1047.5h26.8v27.1h-26.8zM1565.7 940.9h26.8v27.1h-26.8zM1592.3 781.0h26.8v27.1h-26.8zM1619.0 754.3h26.8v27.1h-26.8zM2098.6 754.3h26.8v27.1h-26.8z"/>
<path fill="#540f6d" d="M1645.6 2220.2h26.8v27.1h-26.8zM1698.9 2140.2h26.8v27.1h-26.8zM1725.6 2086.9h26.8v27.1h-26.8zM1752.2 2060.3h26.8v27.1h-26.8zM1805.5 1980.3h26.8v27.1h-26.8zM1912.1 1740.5h26.8v27.1h-26.8zM1938.7 1687.2h26.8v27.1h-26.8zM2018.7 1633.8h26.8v27.1h-26.8zM526.5 1580.5h26.8v27.1h-26.8zM2072.0 1580.5h26.8v27.1h-26.8zM633.1 1500.6h26.8v27.1h-26.8zM713.1 1473.9h26.8v27.1h-26.8zM2098.6 1473.9h26.8v27.1h-26.8zM793.0 1420.6h26.8v27.1h-26.8zM872.9 1340.7h26.8v27.1h-26.8zM2178.5 1314.0h26.8v27.1h-26.8zM2072.0 1127.5h26.8v27.1h-26.8zM2045.3 1074.2h26.8v27.1h-26.8zM2098.6 807.6h26.8v27.1h-26.8zM1752.2 781.0h26.8v27.1h-26.8zM1672.3 754.3h26.8v27.1h-26.8z"/>
<path fill="#57106e" d="M1565.7 2300.1h26.8v27.1h-26.8zM1592.3 2273.5h53.5v27.1h-53.5zM1619.0 2246.8h26.8v27.1h-26.8zM1645.6 2193.5h26.8v27.1h-26.8zM1672.3 2140.2h26.8v27.1h-26.8zM1698.9 2113.6h26.8v27.1h-26.8zM1698.9 2086.9h26.8v27.1h-26.8zM1778.9 2033.6h26.8v27.1h-26.8zM1805.5 1953.7h26.8v27.1h-26.8zM1805.5 1927.0h26.8v27.1h-26.8zM1885.4 1767.1h26.8v27.1h-26.8zM473.3 1607.2h26.8v27.1h-26.8zM2045.3 1607.2h26.8v27.1h-26.8zM2098.6 1447.3h26.8v27.1h-26.8zM846.3 1367.3h26.8v27.1h-26.8zM2125.2 1340.7h26.8v27.1h-26.8zM952.9 1314.0h26.8v27.1h-26.8zM1219.3 1287.4h26.8v27.1h-26.8zM2098.6 1154.1h26.8v27.1h-26.8zM1379.2 1127.5h26.8v27.1h-26.8zM2045.3 1100.8h26.8v27.1h-26.8zM1512.4 994.2h26.8v27.1h-26.8zM2098.6 940.9h26.8v27.1h-26.8z"/>
<path fill="#59106e" d="M1645.6 2166.9h26.8v27.1h-26.8zM1672.3 2113.6h26.8v27.1h-26.8zM1725.6 2060.3h26.8v27.1h-26.8zM1778.9 2007.0h26.8v27.1h-26.8zM1805.5 1900.4h26.8v27.1h-26.8zM1832.1 1847.1h26.8v27.1h-26.8zM1858.8 1793.8h26.8v27.1h-26.8zM1938.7 1660.5h26.8v27.1h-26.8zM1965.4 1633.8h53.5v27.1h-53.5zM579.8 1553.9h26.8v27.1h-26.8zM606.5 1527.2h26.8v27.1h-26.8zM659.8 1500.6h26.8v27.1h-26.8zM793.0 1447.3h26.8v27.1h-26.8zM2098.6 1420.6h26.8v27.1h-26.8zM1086.1 1340.7h26.8v27.1h-26.8zM2151.9 1314.0h26.8v27.1h-26.8zM1698.9 781.0h26.8v27.1h-26.8zM2098.6 781.0h26.8v27.1h-26.8zM1805.5 727.7h26.8v27.1h-26.8zM1992.0 727.7h26.8v27.1h-26.8z"/>
<path fill="#5a116e" d="M1592.3 2246.8h26.8v27.1h-26.8zM1619.0 2220.2h26.8v27.1h-26.8zM1752.2 2033.6h26.8v27.1h-26.8zM1912.1 1713.8h26.8v27.1h-26.8zM2072.0 1553.9h26.8v27.1h-26.8zM739.7 1473.9h53.5v27.1h-53.5zM766.3 1447.3h26.8v27.1h-26.8zM819.6 1420.6h26.8v27.1h-26.8zM979.5 1314.0h26.8v27.1h-26.8zM2205.2 1287.4h26.8v27.1h-26.8zM2125.2 1180.8h26.8v27.1h-26.8zM2098.6 994.2h26.8v27.1h-26.8zM2072.0 887.6h26.8v27.1h-26.8zM2072.0 860.9h26.8v27.1h-26.8zM1832.1 727.7h53.5v27.1h-53.5z"/>
<path fill="#5c126e" d="M1565.7 2273.5h26.8v27.1h-26.8zM1645.6 2140.2h26.8v27.1h-26.8zM1672.3 2086.9h26.8v27.1h-26.8zM1698.9 2060.3h26.8v27.1h-26.8zM1778.9 1980.3h26.8v27.1h-26.8zM393.3 1687.2h26.8v27.1h-26.8zM1938.7 1633.8h26.8v27.1h-26.8zM1032.8 1367.3h26.8v27.1h-26.8zM1006.2 1340.7h26.8v27.1h-26.8zM1592.3 807.6h26.8v27.1h-26.8zM1725.6 807.6h26.8v27.1h-26.8zM1778.9 754.3h26.8v27.1h-26.8zM2072.0 754.3h26.8v27.1h-26.8zM1885.4 727.7h26.8v27.1h-26.8z"/>
<path fill="#5f136e" d="M1805.5 1873.7h26.8v27.1h-26.8zM1832.1 1820.4h26.8v27.1h-26.8zM446.6 1633.8h26.8v27.1h-26.8zM633.1 1527.2h26.8v27.1h-26.8zM793.0 1473.9h26.8v27.1h-26.8zM819.6 1447.3h26.8v27.1h-26.8zM2098.6 1394.0h26.8v27.1h-26.8zM2151.9 1180.8h80.1v27.1h-80.1zM2018.7 1074.2h26.8v27.1h-26.8zM1485.8 1020.9h26.8v27.1h-26.8zM1645.6 754.3h26.8v27.1h-26.8z"/>
<path fill="#61136e" d="M1858.8 1767.1h26.8v27.1h-26.8zM1885.4 1740.5h26.8v27.1h-26.8zM366.7 1713.8h26.8v27.1h-26.8zM2098.6 1367.3h26.8v27.1h-26.8zM1166.0 1314.0h26.8v27.1h-26.8zM2098.6 1180.8h26.8v27.1h-26.8zM2018.7 1100.8h26.8v27.1h-26.8zM1592.3 834.3h26.8v27.1h-26.8zM2072.0 834.3h26.8v27.1h-26.8z"/>
<path fill="#62146e" d="M1805.5 1847.1h26.8v27.1h-26.8zM1912.1 1687.2h26.8v27.1h-26.8zM2018.7 1607.2h26.8v27.1h-26.8zM553.2 1580.5h26.8v27.1h-26.8zM2072.0 1527.2h26.8v27.1h-26.8zM1006.2 1367.3h26.8v27.1h-26.8zM2098.6 1340.7h26.8v27.1h-26.8zM2125.2 1314.0h26.8v27.1h-26.8zM2178.5 1287.4h26.8v27.1h-26.8zM2045.3 1127.5h26.8v27.1h-26.8zM2045.3 1047.5h26.8v27.1h-26.8zM1565.7 967.5h26.8v27.1h-26.8zM2098.6 967.5h26.8v27.1h-26.8zM1912.1 727.7h26.8v27.1h-26.8z"/>
<path fill="#64156e" d="M1619.0 2193.5h26.8v27.1h-26.8zM1645.6 2113.6h26.8v27.1h-26.8zM1725.6 2033.6h26.8v27.1h-26.8zM1752.2 2007.0h26.8v27.1h-26.8zM1778.9 1953.7h26.8v27.1h-26.8zM686.4 1500.6h26.8v27.1h-26.8zM1539.1 994.2h26.8v27.1h-26.8zM2072.0 914.2h26.8v27.1h-26.8z"/>
<path fill="#67166e" d="M1539.1 2300.1h26.8v27.1h-26.8zM1565.7 2246.8h26.8v27.1h-26.8zM1592.3 2220.2h26.8v27.1h-26.8zM1619.0 2166.9h26.8v27.1h-26.8zM1672.3 2060.3h26.8v27.1h-26.8zM1778.9 1927.0h26.8v27.1h-26.8zM1778.9 1900.4h26.8v27.1h-26.8zM1832.1 1793.8h26.8v27.1h-26.8zM420.0 1660.5h26.8v27.1h-26.8zM1912.1 1660.5h26.8v27.1h-26.8zM2045.3 1580.5h26.8v27.1h-26.8zM899.6 1340.7h26.8v27.1h-26.8zM2072.0 1154.1h26.8v27.1h-26.8zM1405.8 1100.8h26.8v27.1h-26.8zM1592.3 887.6h26.8v27.1h-26.8zM1592.3 860.9h26.8v27.1h-26.8zM2045.3 754.3h26.8v27.1h-26.8zM1965.4 727.7h26.8v27.1h-26.8z"/>
<path fill="#69166e" d="M1539.1 2273.5h26.8v27.1h-26.8zM1619.0 2140.2h26.8v27.1h-26.8zM1645.6 2086.9h26.8v27.1h-26.8zM1698.9 2033.6h26.8v27.1h-26.8zM1752.2 1980.3h26.8v27.1h-26.8zM1778.9 1873.7h26.8v27.1h-26.8zM1805.5 1820.4h26.8v27.1h-26.8zM1832.1 1767.1h26.8v27.1h-26.8zM1858.8 1740.5h26.8v27.1h-26.8zM1885.4 1713.8h26.8v27.1h-26.8zM1912.1 1633.8h26.8v27.1h-26.8zM1992.0 1607.2h26.8v27.1h-26.8zM1006.2 1394.0h26.8v27.1h-26.8zM979.5 1340.7h26.8v27.1h-26.8zM1112.7 1340.7h26.8v27.1h-26.8zM2018.7 1127.5h26.8v27.1h-26.8zM1992.0 1100.8h26.8v27.1h-26.8zM1459.1 1047.5h26.8v27.1h-26.8zM2072.0 1020.9h26.8v27.1h-26.8zM1592.3 914.2h26.8v27.1h-26.8zM2072.0 807.6h26.8v27.1h-26.8zM2072.0 781.0h26.8v27.1h-26.8zM1938.7 727.7h26.8v27.1h-26.8z"/>
<path fill="#6a176e" d="M1405.8 2300.1h133.4v27.1h-133.4zM1539.1 2246.8h26.8v27.1h-26.8zM1565.7 2220.2h26.8v27.1h-26.8zM1592.3 2193.5h26.8v27.1h-26.8zM1619.0 2113.6h26.8v27.1h-26.8zM1645.6 2060.3h26.8v27.1h-26.8zM1672.3 2033.6h26.8v27.1h-26.8zM1698.9 2007.0h53.5v27.1h-53.5zM1698.9 1980.3h53.5v27.1h-53.5zM1725.6 1953.7h53.5v27.1h-53.5zM1725.6 1927.0h53.5v27.1h-53.5zM1752.2 1900.4h26.8v27.1h-26.8zM499.9 1607.2h26.8v27.1h-26.8zM1965.4 1607.2h26.8v27.1h-26.8zM606.5 1553.9h26.8v27.1h-26.8zM713.1 1500.6h53.5v27.1h-53.5zM2072.0 1500.6h26.8v27.1h-26.8zM2072.0 1367.3h26.8v27.1h-26.8zM926.2 1340.7h53.5v27.1h-53.5zM2098.6 1314.0h26.8v27.1h-26.8zM2151.9 1287.4h26.8v27.1h-26.8zM1992.0 1074.2h26.8v27.1h-26.8zM1698.9 807.6h26.8v27.1h-26.8z"/>
<path fill="#6d186e" d="M1539.1 2220.2h26.8v27.1h-26.8zM1592.3 2166.9h26.8v27.1h-26.8zM1619.0 2086.9h26.8v27.1h-26.8zM1672.3 2007.0h26.8v27.1h-26.8zM1698.9 1953.7h26.8v27.1h-26.8zM1752.2 1873.7h26.8v27.1h-26.8zM1778.9 1847.1h26.8v27.1h-26.8zM1805.5 1793.8h26.8v27.1h-26.8zM1832.1 1740.5h26.8v27.1h-26.8zM1858.8 1713.8h26.8v27.1h-26.8zM1885.4 1633.8h26.8v27.1h-26.8zM1938.7 1607.2h26.8v27.1h-26.8zM659.8 1527.2h26.8v27.1h-26.8zM819.6 1473.9h26.8v27.1h-26.8zM2072.0 1394.0h26.8v27.1h-26.8zM2072.0 1340.7h26.8v27.1h-26.8zM2205.2 1260.7h26.8v27.1h-26.8zM1299.2 1234.1h26.8v27.1h-26.8zM2098.6 1207.4h53.5v27.1h-53.5zM2072.0 1180.8h26.8v27.1h-26.8zM1992.0 1127.5h26.8v27.1h-26.8zM1912.1 1100.8h80.1v27.1h-80.1zM1752.2 807.6h26.8v27.1h-26.8z"/>
<path fill="#6f196e" d="M1379.2 2300.1h26.8v27.1h-26.8zM1512.4 2273.5h26.8v27.1h-26.8zM1512.4 2246.8h26.8v27.1h-26.8zM1592.3 2140.2h26.8v27.1h-26.8zM1725.6 1900.4h26.8v27.1h-26.8zM1805.5 1767.1h26.8v27.1h-26.8zM1832.1 1713.8h26.8v27.1h-26.8zM1858.8 1633.8h26.8v27.1h-26.8zM1858.8 1607.2h53.5v27.1h-53.5zM2072.0 1473.9h26.8v27.1h-26.8zM2072.0 1447.3h26.8v27.1h-26.8zM2072.0 1420.6h26.8v27.1h-26.8zM846.3 1394.0h26.8v27.1h-26.8zM1059.4 1367.3h26.8v27.1h-26.8zM1192.7 1314.0h26.8v27.1h-26.8zM1272.6 1260.7h26.8v27.1h-26.8zM1965.4 1127.5h26.8v27.1h-26.8zM1885.4 1100.8h26.8v27.1h-26.8zM2018.7 1047.5h26.8v27.1h-26.8zM1592.3 940.9h26.8v27.1h-26.8zM1725.6 834.3h26.8v27.1h-26.8zM1619.0 781.0h26.8v27.1h-26.8z"/>
<path fill="#71196e" d="M1512.4 2220.2h26.8v27.1h-26.8zM1565.7 2193.5h26.8v27.1h-26.8zM1592.3 2113.6h26.8v27.1h-26.8zM1619.0 2060.3h26.8v27.1h-26.8zM1645.6 2033.6h26.8v27.1h-26.8zM1672.3 1980.3h26.8v27.1h-26.8zM1698.9 1927.0h26.8v27.1h-26.8zM1885.4 1687.2h26.8v27.1h-26.8zM1885.4 1660.5h26.8v27.1h-26.8zM766.3 1500.6h26.8v27.1h-26.8zM1032.8 1394.0h26.8v27.1h-26.8zM872.9 1367.3h26.8v27.1h-26.8zM979.5 1367.3h26.8v27.1h-26.8zM2151.9 1207.4h26.8v27.1h-26.8zM2045.3 1154.1h26.8v27.1h-26.8zM1432.5 1074.2h26.8v27.1h-26.8zM1912.1 1074.2h26.8v27.1h-26.8zM1698.9 834.3h26.8v27.1h-26.8zM2018.7 754.3h26.8v27.1h-26.8z"/>
<path fill="#721a6e" d="M1778.9 1820.4h26.8v27.1h-26.8zM1805.5 1740.5h26.8v27.1h-26.8zM1832.1 1687.2h53.5v27.1h-53.5zM1858.8 1660.5h26.8v27.1h-26.8zM1832.1 1633.8h26.8v27.1h-26.8zM1912.1 1607.2h26.8v27.1h-26.8zM2018.7 1580.5h26.8v27.1h-26.8zM2125.2 1287.4h26.8v27.1h-26.8zM2178.5 1260.7h26.8v27.1h-26.8zM2178.5 1207.4h53.5v27.1h-53.5zM1938.7 1127.5h26.8v27.1h-26.8zM1885.4 1074.2h26.8v27.1h-26.8zM1965.4 1074.2h26.8v27.1h-26.8zM1512.4 1020.9h26.8v27.1h-26.8zM1778.9 781.0h26.8v27.1h-26.8zM1805.5 754.3h26.8v27.1h-26.8z"/>
<path fill="#751b6e" d="M1725.6 1873.7h26.8v27.1h-26.8zM1752.2 1847.1h26.8v27.1h-26.8zM1778.9 1793.8h26.8v27.1h-26.8zM340.0 1740.5h26.8v27.1h-26.8zM1805.5 1713.8h26.8v27.1h-26.8zM1832.1 1660.5h26.8v27.1h-26.8zM1832.1 1607.2h26.8v27.1h-26.8zM2045.3 1553.9h26.8v27.1h-26.8zM1379.2 1154.1h26.8v27.1h-26.8zM1885.4 1127.5h53.5v27.1h-53.5zM1938.7 1074.2h26.8v27.1h-26.8zM1672.3 781.0h26.8v27.1h-26.8z"/>
<path fill="#771c6d" d="M326.9 1767.1h13.4v27.1h-13.4zM1778.9 1767.1h26.8v27.1h-26.8zM1805.5 1687.2h26.8v27.1h-26.8zM1805.5 1660.5h26.8v27.1h-26.8zM1805.5 1633.8h26.8v27.1h-26.8zM979.5 1394.0h26.8v27.1h-26.8zM2072.0 1314.0h26.8v27.1h-26.8zM2098.6 1287.4h26.8v27.1h-26.8zM2098.6 1234.1h26.8v27.1h-26.8zM2072.0 1207.4h26.8v27.1h-26.8zM1992.0 1154.1h53.5v27.1h-53.5zM1405.8 1127.5h26.8v27.1h-26.8zM1858.8 1127.5h26.8v27.1h-26.8zM1858.8 1100.8h26.8v27.1h-26.8zM1619.0 887.6h26.8v27.1h-26.8zM2045.3 781.0h26.8v27.1h-26.8z"/>
<path fill="#781c6d" d="M1539.1 2193.5h26.8v27.1h-26.8zM1565.7 2166.9h26.8v27.1h-26.8zM1592.3 2086.9h26.8v27.1h-26.8zM1645.6 2007.0h26.8v27.1h-26.8zM1672.3 1953.7h26.8v27.1h-26.8zM1805.5 1607.2h26.8v27.1h-26.8zM1992.0 1580.5h26.8v27.1h-26.8zM633.1 1553.9h26.8v27.1h-26.8zM1965.4 1154.1h26.8v27.1h-26.8zM1992.0 1047.5h26.8v27.1h-26.8zM1565.7 994.2h26.8v27.1h-26.8zM1698.9 860.9h26.8v27.1h-26.8z"/>
<path fill="#7c1d6d" d="M1352.5 2300.1h26.8v27.1h-26.8zM1485.8 2273.5h26.8v27.1h-26.8zM1485.8 2246.8h26.8v27.1h-26.8zM1565.7 2140.2h26.8v27.1h-26.8zM1619.0 2033.6h26.8v27.1h-26.8zM1698.9 1900.4h26.8v27.1h-26.8zM579.8 1580.5h26.8v27.1h-26.8zM1858.8 1580.5h26.8v27.1h-26.8zM686.4 1527.2h26.8v27.1h-26.8zM846.3 1420.6h26.8v27.1h-26.8zM2045.3 1367.3h26.8v27.1h-26.8zM2045.3 1340.7h26.8v27.1h-26.8zM2151.9 1260.7h26.8v27.1h-26.8zM2125.2 1234.1h26.8v27.1h-26.8zM2178.5 1234.1h53.5v27.1h-53.5zM1325.9 1207.4h26.8v27.1h-26.8zM1352.5 1180.8h26.8v27.1h-26.8zM2072.0 940.9h26.8v27.1h-26.8zM1619.0 860.9h26.8v27.1h-26.8zM1619.0 807.6h26.8v27.1h-26.8zM1645.6 781.0h26.8v27.1h-26.8z"/>
<path fill="#7d1e6d" d="M1485.8 2220.2h26.8v27.1h-26.8zM1512.4 2193.5h26.8v27.1h-26.8zM1565.7 2113.6h26.8v27.1h-26.8zM1592.3 2060.3h26.8v27.1h-26.8zM1645.6 1980.3h26.8v27.1h-26.8zM1672.3 1927.0h26.8v27.1h-26.8zM1752.2 1820.4h26.8v27.1h-26.8zM1778.9 1740.5h26.8v27.1h-26.8zM473.3 1633.8h26.8v27.1h-26.8zM846.3 1447.3h26.8v27.1h-26.8zM952.9 1367.3h26.8v27.1h-26.8zM1139.4 1340.7h26.8v27.1h-26.8zM2098.6 1260.7h53.5v27.1h-53.5zM2151.9 1234.1h26.8v27.1h-26.8zM2045.3 1180.8h26.8v27.1h-26.8zM1858.8 1154.1h26.8v27.1h-26.8zM1485.8 1047.5h26.8v27.1h-26.8zM2072.0 994.2h26.8v27.1h-26.8zM1619.0 914.2h26.8v27.1h-26.8zM2045.3 860.9h26.8v27.1h-26.8zM1619.0 834.3h26.8v27.1h-26.8zM2045.3 807.6h26.8v27.1h-26.8zM1992.0 754.3h26.8v27.1h-26.8z"/>
<path fill="#7f1e6c" d="M1299.2 2300.1h53.5v27.1h-53.5zM1352.5 2273.5h133.4v27.1h-133.4zM1379.2 2246.8h106.8v27.1h-106.8zM1432.5 2220.2h53.5v27.1h-53.5zM1485.8 2193.5h26.8v27.1h-26.8zM1539.1 2166.9h26.8v27.1h-26.8zM1565.7 2086.9h26.8v27.1h-26.8zM1592.3 2033.6h26.8v27.1h-26.8zM1592.3 2007.0h53.5v27.1h-53.5zM1619.0 1980.3h26.8v27.1h-26.8zM1619.0 1953.7h53.5v27.1h-53.5zM1619.0 1927.0h53.5v27.1h-53.5zM1725.6 1847.1h26.8v27.1h-26.8zM1778.9 1713.8h26.8v27.1h-26.8zM1778.9 1687.2h26.8v27.1h-26.8zM1778.9 1660.5h26.8v27.1h-26.8zM1778.9 1633.8h26.8v27.1h-26.8zM526.5 1607.2h26.8v27.1h-26.8zM1778.9 1607.2h26.8v27.1h-26.8zM1805.5 1580.5h53.5v27.1h-53.5zM1885.4 1580.5h26.8v27.1h-26.8zM713.1 1527.2h26.8v27.1h-26.8zM793.0 1500.6h26.8v27.1h-26.8zM899.6 1367.3h26.8v27.1h-26.8zM1246.0 1287.4h26.8v27.1h-26.8zM2072.0 1287.4h26.8v27.1h-26.8zM2072.0 1234.1h26.8v27.1h-26.8zM1832.1 1154.1h26.8v27.1h-26.8zM1885.4 1154.1h26.8v27.1h-26.8zM1938.7 1154.1h26.8v27.1h-26.8zM1832.1 1127.5h26.8v27.1h-26.8zM2045.3 1020.9h26.8v27.1h-26.8zM1645.6 887.6h26.8v27.1h-26.8zM2045.3 887.6h26.8v27.1h-26.8zM1725.6 860.9h26.8v27.1h-26.8zM2045.3 834.3h26.8v27.1h-26.8z"/>
<path fill="#801f6c" d="M1352.5 2246.8h26.8v27.1h-26.8zM1405.8 2220.2h26.8v27.1h-26.8zM1459.1 2193.5h26.8v27.1h-26.8zM1512.4 2166.9h26.8v27.1h-26.8zM1539.1 2140.2h26.8v27.1h-26.8zM1565.7 2060.3h26.8v27.1h-26.8zM1592.3 1980.3h26.8v27.1h-26.8zM1672.3 1900.4h26.8v27.1h-26.8zM1698.9 1873.7h26.8v27.1h-26.8zM1752.2 1793.8h26.8v27.1h-26.8zM1965.4 1580.5h26.8v27.1h-26.8zM659.8 1553.9h26.8v27.1h-26.8zM1006.2 1420.6h26.8v27.1h-26.8zM2072.0 1260.7h26.8v27.1h-26.8zM1832.1 1180.8h26.8v27.1h-26.8zM1912.1 1154.1h26.8v27.1h-26.8zM1432.5 1100.8h26.8v27.1h-26.8zM1858.8 1074.2h26.8v27.1h-26.8zM1539.1 1020.9h26.8v27.1h-26.8zM1592.3 967.5h26.8v27.1h-26.8zM1672.3 887.6h26.8v27.1h-26.8zM1672.3 860.9h26.8v27.1h-26.8zM1752.2 834.3h26.8v27.1h-26.8z"/>
<path fill="#84206b" d="M1272.6 2300.1h26.8v27.1h-26.8zM1325.9 2273.5h26.8v27.1h-26.8zM1539.1 2113.6h26.8v27.1h-26.8zM1565.7 2033.6h26.8v27.1h-26.8zM1592.3 1953.7h26.8v27.1h-26.8zM1645.6 1900.4h26.8v27.1h-26.8zM1752.2 1767.1h26.8v27.1h-26.8zM1778.9 1580.5h26.8v27.1h-26.8zM1912.1 1580.5h53.5v27.1h-53.5zM926.2 1367.3h26.8v27.1h-26.8zM1086.1 1367.3h26.8v27.1h-26.8zM1805.5 1180.8h26.8v27.1h-26.8zM1858.8 1180.8h26.8v27.1h-26.8zM1805.5 1154.1h26.8v27.1h-26.8zM1832.1 1100.8h26.8v27.1h-26.8zM1912.1 1047.5h26.8v27.1h-26.8zM1965.4 1047.5h26.8v27.1h-26.8zM1698.9 887.6h26.8v27.1h-26.8zM1672.3 807.6h26.8v27.1h-26.8zM1832.1 754.3h26.8v27.1h-26.8z"/>
<path fill="#85216b" d="M1325.9 2246.8h26.8v27.1h-26.8zM1379.2 2220.2h26.8v27.1h-26.8zM1432.5 2193.5h26.8v27.1h-26.8zM1485.8 2166.9h26.8v27.1h-26.8zM1539.1 2086.9h26.8v27.1h-26.8zM1565.7 2007.0h26.8v27.1h-26.8zM1592.3 1927.0h26.8v27.1h-26.8zM1619.0 1900.4h26.8v27.1h-26.8zM606.5 1580.5h26.8v27.1h-26.8zM739.7 1527.2h26.8v27.1h-26.8zM2045.3 1527.2h26.8v27.1h-26.8zM979.5 1420.6h26.8v27.1h-26.8zM872.9 1394.0h26.8v27.1h-26.8zM2045.3 1394.0h26.8v27.1h-26.8zM1219.3 1314.0h26.8v27.1h-26.8zM2018.7 1180.8h26.8v27.1h-26.8zM1459.1 1074.2h26.8v27.1h-26.8zM2072.0 967.5h26.8v27.1h-26.8zM1645.6 914.2h26.8v27.1h-26.8zM1645.6 860.9h26.8v27.1h-26.8zM1672.3 834.3h26.8v27.1h-26.8zM1858.8 754.3h53.5v27.1h-53.5z"/>
<path fill="#87216b" d="M1752.2 1740.5h26.8v27.1h-26.8zM1752.2 1687.2h26.8v27.1h-26.8zM1752.2 1660.5h26.8v27.1h-26.8zM1752.2 1633.8h26.8v27.1h-26.8zM952.9 1394.0h26.8v27.1h-26.8zM2045.3 1314.0h26.8v27.1h-26.8zM2045.3 1207.4h26.8v27.1h-26.8zM1992.0 1180.8h26.8v27.1h-26.8zM1938.7 1047.5h26.8v27.1h-26.8zM2018.7 781.0h26.8v27.1h-26.8z"/>
<path fill="#8a226a" d="M1672.3 1873.7h26.8v27.1h-26.8zM1698.9 1847.1h26.8v27.1h-26.8zM1725.6 1820.4h26.8v27.1h-26.8zM1752.2 1713.8h26.8v27.1h-26.8zM1752.2 1607.2h26.8v27.1h-26.8zM2018.7 1553.9h26.8v27.1h-26.8zM1885.4 1180.8h26.8v27.1h-26.8zM1805.5 1127.5h26.8v27.1h-26.8zM1885.4 1047.5h26.8v27.1h-26.8zM2045.3 914.2h26.8v27.1h-26.8zM1725.6 887.6h26.8v27.1h-26.8zM1912.1 754.3h26.8v27.1h-26.8z"/>
<path fill="#8c2369" d="M1725.6 1687.2h26.8v27.1h-26.8zM1725.6 1660.5h26.8v27.1h-26.8zM1059.4 1394.0h26.8v27.1h-26.8zM1166.0 1340.7h26.8v27.1h-26.8zM1832.1 1207.4h26.8v27.1h-26.8zM1778.9 1180.8h26.8v27.1h-26.8zM1965.4 1180.8h26.8v27.1h-26.8zM1778.9 1154.1h26.8v27.1h-26.8zM1512.4 1047.5h26.8v27.1h-26.8zM1619.0 940.9h26.8v27.1h-26.8zM1645.6 807.6h26.8v27.1h-26.8z"/>
<path fill="#8d2369" d="M1352.5 2220.2h26.8v27.1h-26.8zM1405.8 2193.5h26.8v27.1h-26.8zM1459.1 2166.9h26.8v27.1h-26.8zM1512.4 2140.2h26.8v27.1h-26.8zM1539.1 2060.3h26.8v27.1h-26.8zM393.3 1713.8h26.8v27.1h-26.8zM446.6 1660.5h26.8v27.1h-26.8zM1725.6 1633.8h26.8v27.1h-26.8zM1778.9 1553.9h53.5v27.1h-53.5zM846.3 1473.9h26.8v27.1h-26.8zM1032.8 1420.6h26.8v27.1h-26.8zM1858.8 1207.4h26.8v27.1h-26.8zM1405.8 1154.1h26.8v27.1h-26.8zM1672.3 914.2h26.8v27.1h-26.8zM1645.6 834.3h26.8v27.1h-26.8zM1778.9 807.6h26.8v27.1h-26.8zM1965.4 754.3h26.8v27.1h-26.8z"/>
<path fill="#8f2469" d="M1246.0 2300.1h26.8v27.1h-26.8zM1299.2 2273.5h26.8v27.1h-26.8zM1512.4 2113.6h26.8v27.1h-26.8zM1565.7 1980.3h26.8v27.1h-26.8zM1645.6 1873.7h26.8v27.1h-26.8zM1725.6 1793.8h26.8v27.1h-26.8zM1752.2 1580.5h26.8v27.1h-26.8zM686.4 1553.9h26.8v27.1h-26.8zM872.9 1420.6h26.8v27.1h-26.8zM899.6 1394.0h26.8v27.1h-26.8zM2045.3 1234.1h26.8v27.1h-26.8zM1912.1 1180.8h53.5v27.1h-53.5zM1805.5 781.0h26.8v27.1h-26.8zM1938.7 754.3h26.8v27.1h-26.8z"/>
<path fill="#922568" d="M1299.2 2246.8h26.8v27.1h-26.8zM1325.9 2220.2h26.8v27.1h-26.8zM1379.2 2193.5h26.8v27.1h-26.8zM1432.5 2166.9h26.8v27.1h-26.8zM1485.8 2140.2h26.8v27.1h-26.8zM1512.4 2086.9h26.8v27.1h-26.8zM1539.1 2033.6h26.8v27.1h-26.8zM1592.3 1900.4h26.8v27.1h-26.8zM1672.3 1847.1h26.8v27.1h-26.8zM1698.9 1820.4h26.8v27.1h-26.8zM1725.6 1767.1h26.8v27.1h-26.8zM1725.6 1713.8h26.8v27.1h-26.8zM420.0 1687.2h26.8v27.1h-26.8zM1698.9 1687.2h26.8v27.1h-26.8zM1698.9 1660.5h26.8v27.1h-26.8zM553.2 1607.2h26.8v27.1h-26.8zM633.1 1580.5h26.8v27.1h-26.8zM1832.1 1553.9h26.8v27.1h-26.8zM2045.3 1500.6h26.8v27.1h-26.8zM926.2 1394.0h26.8v27.1h-26.8zM2045.3 1287.4h26.8v27.1h-26.8zM1805.5 1207.4h26.8v27.1h-26.8zM2018.7 1207.4h26.8v27.1h-26.8zM1432.5 1127.5h26.8v27.1h-26.8zM2018.7 1020.9h26.8v27.1h-26.8zM1698.9 914.2h26.8v27.1h-26.8zM1752.2 860.9h26.8v27.1h-26.8z"/>
<path fill="#932667" d="M1192.7 2300.1h53.5v27.1h-53.5zM1219.3 2273.5h80.1v27.1h-80.1zM1246.0 2246.8h53.5v27.1h-53.5zM1272.6 2220.2h53.5v27.1h-53.5zM1299.2 2193.5h80.1v27.1h-80.1zM1405.8 2166.9h26.8v27.1h-26.8zM1432.5 2140.2h53.5v27.1h-53.5zM1459.1 2113.6h53.5v27.1h-53.5zM1485.8 2086.9h26.8v27.1h-26.8zM1512.4 2060.3h26.8v27.1h-26.8zM1539.1 2007.0h26.8v27.1h-26.8zM1565.7 1953.7h26.8v27.1h-26.8zM1619.0 1873.7h26.8v27.1h-26.8zM366.7 1740.5h26.8v27.1h-26.8zM1725.6 1740.5h26.8v27.1h-26.8zM499.9 1633.8h26.8v27.1h-26.8zM1725.6 1607.2h26.8v27.1h-26.8zM952.9 1420.6h26.8v27.1h-26.8zM2045.3 1420.6h26.8v27.1h-26.8zM1112.7 1367.3h26.8v27.1h-26.8zM2045.3 1260.7h26.8v27.1h-26.8zM1805.5 1100.8h26.8v27.1h-26.8zM1485.8 1074.2h26.8v27.1h-26.8zM1832.1 1074.2h26.8v27.1h-26.8zM1778.9 967.5h26.8v27.1h-26.8zM1725.6 914.2h26.8v27.1h-26.8zM2018.7 807.6h26.8v27.1h-26.8z"/>
<path fill="#952667" d="M1379.2 2166.9h26.8v27.1h-26.8zM1485.8 2060.3h26.8v27.1h-26.8zM1512.4 2033.6h26.8v27.1h-26.8zM1565.7 1927.0h26.8v27.1h-26.8zM1645.6 1847.1h26.8v27.1h-26.8zM1672.3 1820.4h26.8v27.1h-26.8zM1698.9 1793.8h26.8v27.1h-26.8zM1698.9 1713.8h26.8v27.1h-26.8zM1698.9 1633.8h26.8v27.1h-26.8zM766.3 1527.2h26.8v27.1h-26.8zM819.6 1500.6h26.8v27.1h-26.8zM2045.3 1473.9h26.8v27.1h-26.8zM872.9 1447.3h26.8v27.1h-26.8zM2018.7 1340.7h26.8v27.1h-26.8zM1778.9 1207.4h26.8v27.1h-26.8zM1885.4 1207.4h26.8v27.1h-26.8zM1992.0 1207.4h26.8v27.1h-26.8zM1778.9 1127.5h26.8v27.1h-26.8zM1459.1 1100.8h26.8v27.1h-26.8zM1858.8 1047.5h26.8v27.1h-26.8zM1752.2 940.9h53.5v27.1h-53.5zM1752.2 914.2h26.8v27.1h-26.8zM1752.2 887.6h26.8v27.1h-26.8zM1992.0 781.0h26.8v27.1h-26.8z"/>
<path fill="#972766" d="M1166.0 2300.1h26.8v27.1h-26.8zM1325.9 2166.9h53.5v27.1h-53.5zM1672.3 1687.2h26.8v27.1h-26.8zM1672.3 1660.5h26.8v27.1h-26.8zM659.8 1580.5h26.8v27.1h-26.8zM713.1 1553.9h26.8v27.1h-26.8zM1752.2 1553.9h26.8v27.1h-26.8zM1858.8 1553.9h26.8v27.1h-26.8zM1992.0 1553.9h26.8v27.1h-26.8zM2045.3 1447.3h26.8v27.1h-26.8zM1752.2 1180.8h26.8v27.1h-26.8zM1565.7 1020.9h26.8v27.1h-26.8zM1752.2 967.5h26.8v27.1h-26.8zM1805.5 940.9h26.8v27.1h-26.8z"/>
<path fill="#9a2865" d="M1192.7 2273.5h26.8v27.1h-26.8zM1219.3 2246.8h26.8v27.1h-26.8zM1246.0 2220.2h26.8v27.1h-26.8zM1272.6 2193.5h26.8v27.1h-26.8zM1299.2 2166.9h26.8v27.1h-26.8zM1405.8 2140.2h26.8v27.1h-26.8zM1432.5 2113.6h26.8v27.1h-26.8zM1459.1 2086.9h26.8v27.1h-26.8zM1485.8 2033.6h26.8v27.1h-26.8zM1539.1 1980.3h26.8v27.1h-26.8zM1725.6 1580.5h26.8v27.1h-26.8zM2018.7 1367.3h26.8v27.1h-26.8zM1832.1 1234.1h26.8v27.1h-26.8zM1992.0 1020.9h26.8v27.1h-26.8zM1778.9 994.2h26.8v27.1h-26.8zM1805.5 967.5h26.8v27.1h-26.8zM2045.3 940.9h26.8v27.1h-26.8zM2018.7 834.3h26.8v27.1h-26.8z"/>
<path fill="#9b2964" d="M1592.3 1873.7h26.8v27.1h-26.8zM1619.0 1847.1h26.8v27.1h-26.8zM1645.6 1820.4h26.8v27.1h-26.8zM1698.9 1767.1h26.8v27.1h-26.8zM1698.9 1740.5h26.8v27.1h-26.8zM899.6 1420.6h53.5v27.1h-53.5zM1752.2 1154.1h26.8v27.1h-26.8zM1592.3 994.2h26.8v27.1h-26.8zM1645.6 940.9h26.8v27.1h-26.8zM1778.9 914.2h26.8v27.1h-26.8zM2018.7 860.9h26.8v27.1h-26.8zM1778.9 834.3h26.8v27.1h-26.8z"/>
<path fill="#9d2964" d="M1672.3 1793.8h26.8v27.1h-26.8zM1672.3 1713.8h26.8v27.1h-26.8zM1645.6 1687.2h26.8v27.1h-26.8zM1672.3 1633.8h26.8v27.1h-26.8zM1698.9 1607.2h26.8v27.1h-26.8zM2018.7 1314.0h26.8v27.1h-26.8zM1858.8 1234.1h26.8v27.1h-26.8zM2018.7 1234.1h26.8v27.1h-26.8zM1752.2 1207.4h26.8v27.1h-26.8zM1965.4 1207.4h26.8v27.1h-26.8zM1379.2 1180.8h26.8v27.1h-26.8zM1912.1 1020.9h80.1v27.1h-80.1zM2045.3 994.2h26.8v27.1h-26.8zM1725.6 940.9h26.8v27.1h-26.8zM2018.7 887.6h26.8v27.1h-26.8z"/>
<path fill="#a02a63" d="M1592.3 1847.1h26.8v27.1h-26.8zM1619.0 1820.4h26.8v27.1h-26.8zM1645.6 1660.5h26.8v27.1h-26.8zM1778.9 1527.2h53.5v27.1h-53.5zM1006.2 1447.3h26.8v27.1h-26.8zM1192.7 1340.7h26.8v27.1h-26.8zM1805.5 1234.1h26.8v27.1h-26.8zM1912.1 1207.4h53.5v27.1h-53.5zM1778.9 1100.8h26.8v27.1h-26.8zM1539.1 1047.5h26.8v27.1h-26.8zM1752.2 994.2h26.8v27.1h-26.8zM1805.5 914.2h26.8v27.1h-26.8z"/>
<path fill="#a22b62" d="M1379.2 2140.2h26.8v27.1h-26.8zM1459.1 2060.3h26.8v27.1h-26.8zM1512.4 2007.0h26.8v27.1h-26.8zM1539.1 1953.7h26.8v27.1h-26.8zM1565.7 1900.4h26.8v27.1h-26.8zM340.0 1767.1h26.8v27.1h-26.8zM1619.0 1687.2h26.8v27.1h-26.8zM579.8 1607.2h26.8v27.1h-26.8zM1885.4 1553.9h26.8v27.1h-26.8zM1299.2 1260.7h26.8v27.1h-26.8zM1432.5 1154.1h26.8v27.1h-26.8zM1805.5 1074.2h26.8v27.1h-26.8zM1832.1 940.9h26.8v27.1h-26.8z"/>
<path fill="#a32c61" d="M1139.4 2300.1h26.8v27.1h-26.8zM1192.7 2246.8h26.8v27.1h-26.8zM1219.3 2220.2h26.8v27.1h-26.8zM1246.0 2193.5h26.8v27.1h-26.8zM1272.6 2166.9h26.8v27.1h-26.8zM1325.9 2140.2h53.5v27.1h-53.5zM1405.8 2113.6h26.8v27.1h-26.8zM1432.5 2086.9h26.8v27.1h-26.8zM1645.6 1793.8h26.8v27.1h-26.8zM1672.3 1767.1h26.8v27.1h-26.8zM1672.3 1740.5h26.8v27.1h-26.8zM1645.6 1713.8h26.8v27.1h-26.8zM1698.9 1580.5h26.8v27.1h-26.8zM2018.7 1527.2h26.8v27.1h-26.8zM979.5 1447.3h26.8v27.1h-26.8zM1086.1 1394.0h26.8v27.1h-26.8zM1832.1 1047.5h26.8v27.1h-26.8zM1885.4 1020.9h26.8v27.1h-26.8zM1619.0 967.5h26.8v27.1h-26.8zM2045.3 967.5h26.8v27.1h-26.8zM1778.9 887.6h26.8v27.1h-26.8zM1778.9 860.9h26.8v27.1h-26.8zM1992.0 807.6h26.8v27.1h-26.8zM1832.1 781.0h26.8v27.1h-26.8zM1885.4 781.0h53.5v27.1h-53.5zM1965.4 781.0h26.8v27.1h-26.8z"/>
<path fill="#a52c60" d="M1166.0 2273.5h26.8v27.1h-26.8zM1299.2 2140.2h26.8v27.1h-26.8zM1459.1 2033.6h26.8v27.1h-26.8zM1485.8 2007.0h26.8v27.1h-26.8zM1512.4 1980.3h26.8v27.1h-26.8zM1539.1 1927.0h26.8v27.1h-26.8zM1565.7 1873.7h26.8v27.1h-26.8zM1565.7 1847.1h26.8v27.1h-26.8zM1592.3 1820.4h26.8v27.1h-26.8zM1619.0 1793.8h26.8v27.1h-26.8zM1619.0 1713.8h26.8v27.1h-26.8zM1592.3 1687.2h26.8v27.1h-26.8zM1619.0 1660.5h26.8v27.1h-26.8zM1645.6 1633.8h26.8v27.1h-26.8zM606.5 1607.2h26.8v27.1h-26.8zM1672.3 1607.2h26.8v27.1h-26.8zM686.4 1580.5h26.8v27.1h-26.8zM1725.6 1553.9h26.8v27.1h-26.8zM1965.4 1553.9h26.8v27.1h-26.8zM899.6 1447.3h26.8v27.1h-26.8zM1059.4 1420.6h26.8v27.1h-26.8zM2018.7 1287.4h26.8v27.1h-26.8zM2018.7 1260.7h26.8v27.1h-26.8zM1992.0 1234.1h26.8v27.1h-26.8zM1512.4 1074.2h26.8v27.1h-26.8zM1778.9 1020.9h26.8v27.1h-26.8zM1805.5 994.2h26.8v27.1h-26.8zM1832.1 967.5h26.8v27.1h-26.8zM1672.3 940.9h53.5v27.1h-53.5zM2018.7 914.2h26.8v27.1h-26.8zM1805.5 807.6h26.8v27.1h-26.8zM1858.8 781.0h26.8v27.1h-26.8zM1938.7 781.0h26.8v27.1h-26.8z"/>
<path fill="#a82e5f" d="M633.1 2300.1h266.6v27.1h-266.6zM1032.8 2300.1h106.8v27.1h-106.8zM1139.4 2273.5h26.8v27.1h-26.8zM1166.0 2246.8h26.8v27.1h-26.8zM1325.9 2113.6h80.1v27.1h-80.1zM1352.5 2086.9h80.1v27.1h-80.1zM1352.5 2060.3h106.8v27.1h-106.8zM1379.2 2033.6h80.1v27.1h-80.1zM1405.8 2007.0h80.1v27.1h-80.1zM1432.5 1980.3h80.1v27.1h-80.1zM1459.1 1953.7h80.1v27.1h-80.1zM1485.8 1927.0h53.5v27.1h-53.5zM1485.8 1900.4h80.1v27.1h-80.1zM1539.1 1873.7h26.8v27.1h-26.8zM1592.3 1793.8h26.8v27.1h-26.8zM1592.3 1767.1h80.1v27.1h-80.1zM1592.3 1740.5h80.1v27.1h-80.1zM1592.3 1713.8h26.8v27.1h-26.8zM473.3 1660.5h26.8v27.1h-26.8zM1592.3 1660.5h26.8v27.1h-26.8zM526.5 1633.8h26.8v27.1h-26.8zM1619.0 1633.8h26.8v27.1h-26.8zM633.1 1607.2h26.8v27.1h-26.8zM1645.6 1607.2h26.8v27.1h-26.8zM1645.6 1580.5h53.5v27.1h-53.5zM739.7 1553.9h26.8v27.1h-26.8zM1139.4 1367.3h26.8v27.1h-26.8zM1778.9 1234.1h26.8v27.1h-26.8zM1459.1 1127.5h26.8v27.1h-26.8zM1752.2 1127.5h26.8v27.1h-26.8zM1485.8 1100.8h26.8v27.1h-26.8zM1778.9 1074.2h26.8v27.1h-26.8zM1805.5 1047.5h26.8v27.1h-26.8zM1858.8 1020.9h26.8v27.1h-26.8zM1725.6 967.5h26.8v27.1h-26.8zM1832.1 914.2h26.8v27.1h-26.8zM1805.5 887.6h26.8v27.1h-26.8z"/>
<path fill="#a92e5e" d="M1192.7 2220.2h26.8v27.1h-26.8zM1325.9 2086.9h26.8v27.1h-26.8zM1459.1 1927.0h26.8v27.1h-26.8zM1512.4 1873.7h26.8v27.1h-26.8zM1539.1 1847.1h26.8v27.1h-26.8zM1565.7 1820.4h26.8v27.1h-26.8zM1565.7 1793.8h26.8v27.1h-26.8zM1592.3 1633.8h26.8v27.1h-26.8zM1619.0 1607.2h26.8v27.1h-26.8zM1619.0 1580.5h26.8v27.1h-26.8zM1698.9 1553.9h26.8v27.1h-26.8zM1912.1 1553.9h26.8v27.1h-26.8zM1752.2 1527.2h26.8v27.1h-26.8zM1832.1 1527.2h26.8v27.1h-26.8zM872.9 1473.9h26.8v27.1h-26.8zM926.2 1447.3h53.5v27.1h-53.5zM1032.8 1447.3h26.8v27.1h-26.8zM1885.4 1234.1h26.8v27.1h-26.8zM1725.6 1207.4h26.8v27.1h-26.8zM1778.9 1047.5h26.8v27.1h-26.8zM1752.2 1020.9h26.8v27.1h-26.8zM1992.0 834.3h26.8v27.1h-26.8z"/>
<path fill="#ab2f5e" d="M420.0 2300.1h26.8v27.1h-26.8zM606.5 2300.1h26.8v27.1h-26.8zM899.6 2300.1h26.8v27.1h-26.8zM1006.2 2300.1h26.8v27.1h-26.8zM1219.3 2193.5h26.8v27.1h-26.8zM1246.0 2166.9h26.8v27.1h-26.8zM1272.6 2140.2h26.8v27.1h-26.8zM1459.1 1900.4h26.8v27.1h-26.8zM1485.8 1873.7h26.8v27.1h-26.8zM326.9 1793.8h13.4v27.1h-13.4zM1565.7 1767.1h26.8v27.1h-26.8zM1565.7 1740.5h26.8v27.1h-26.8zM1565.7 1713.8h26.8v27.1h-26.8zM1565.7 1687.2h26.8v27.1h-26.8zM1565.7 1660.5h26.8v27.1h-26.8zM1619.0 1553.9h80.1v27.1h-80.1zM1938.7 1553.9h26.8v27.1h-26.8zM793.0 1527.2h26.8v27.1h-26.8zM1325.9 1234.1h26.8v27.1h-26.8zM1725.6 1180.8h26.8v27.1h-26.8zM1832.1 887.6h26.8v27.1h-26.8z"/>
<path fill="#ae305c" d="M526.5 2300.1h26.8v27.1h-26.8zM1112.7 2273.5h26.8v27.1h-26.8zM1139.4 2246.8h26.8v27.1h-26.8zM1166.0 2220.2h26.8v27.1h-26.8zM1299.2 2113.6h26.8v27.1h-26.8zM1325.9 2060.3h26.8v27.1h-26.8zM1352.5 2033.6h26.8v27.1h-26.8zM1379.2 2007.0h26.8v27.1h-26.8zM1405.8 1980.3h26.8v27.1h-26.8zM1432.5 1953.7h26.8v27.1h-26.8zM659.8 1607.2h26.8v27.1h-26.8zM1752.2 1234.1h26.8v27.1h-26.8zM1352.5 1207.4h26.8v27.1h-26.8zM1805.5 1020.9h53.5v27.1h-53.5zM1832.1 994.2h26.8v27.1h-26.8zM2018.7 994.2h26.8v27.1h-26.8zM1805.5 860.9h26.8v27.1h-26.8zM1992.0 860.9h26.8v27.1h-26.8zM1805.5 834.3h26.8v27.1h-26.8zM1965.4 807.6h26.8v27.1h-26.8z"/>
<path fill="#b0315b" d="M1512.4 1847.1h26.8v27.1h-26.8zM1539.1 1820.4h26.8v27.1h-26.8zM1592.3 1607.2h26.8v27.1h-26.8zM2018.7 1394.0h26.8v27.1h-26.8zM1272.6 1287.4h26.8v27.1h-26.8zM1965.4 1234.1h26.8v27.1h-26.8zM1858.8 994.2h53.5v27.1h-53.5zM1858.8 967.5h26.8v27.1h-26.8zM1858.8 940.9h26.8v27.1h-26.8zM2018.7 940.9h26.8v27.1h-26.8z"/>
<path fill="#b1325a" d="M1459.1 1873.7h26.8v27.1h-26.8zM1565.7 1633.8h26.8v27.1h-26.8zM1592.3 1580.5h26.8v27.1h-26.8zM1592.3 1553.9h26.8v27.1h-26.8zM1992.0 1260.7h26.8v27.1h-26.8zM1405.8 1180.8h26.8v27.1h-26.8zM1752.2 1100.8h26.8v27.1h-26.8zM1752.2 1047.5h26.8v27.1h-26.8zM1725.6 994.2h26.8v27.1h-26.8zM1912.1 994.2h26.8v27.1h-26.8zM1992.0 887.6h26.8v27.1h-26.8zM1912.1 807.6h53.5v27.1h-53.5z"/>
<path fill="#b3325a" d="M1485.8 1847.1h26.8v27.1h-26.8zM1539.1 1793.8h26.8v27.1h-26.8zM713.1 1580.5h26.8v27.1h-26.8zM846.3 1500.6h26.8v27.1h-26.8zM1778.9 1500.6h26.8v27.1h-26.8zM1112.7 1394.0h26.8v27.1h-26.8zM1992.0 1340.7h26.8v27.1h-26.8zM1246.0 1314.0h26.8v27.1h-26.8zM1992.0 1314.0h26.8v27.1h-26.8zM1832.1 1260.7h53.5v27.1h-53.5zM1752.2 1074.2h26.8v27.1h-26.8zM1885.4 967.5h26.8v27.1h-26.8zM1858.8 914.2h26.8v27.1h-26.8zM1832.1 860.9h26.8v27.1h-26.8zM1965.4 834.3h26.8v27.1h-26.8zM1885.4 807.6h26.8v27.1h-26.8z"/>
<path fill="#b63458" d="M1192.7 2193.5h26.8v27.1h-26.8zM1432.5 1927.0h26.8v27.1h-26.8zM1592.3 1527.2h53.5v27.1h-53.5zM1805.5 1500.6h26.8v27.1h-26.8zM1832.1 807.6h26.8v27.1h-26.8z"/>
<path fill="#b73557" d="M446.6 2300.1h26.8v27.1h-26.8zM499.9 2300.1h26.8v27.1h-26.8zM553.2 2300.1h53.5v27.1h-53.5zM926.2 2300.1h26.8v27.1h-26.8zM979.5 2300.1h26.8v27.1h-26.8zM1112.7 2246.8h26.8v27.1h-26.8zM1139.4 2220.2h26.8v27.1h-26.8zM1219.3 2166.9h26.8v27.1h-26.8zM1246.0 2140.2h26.8v27.1h-26.8zM1272.6 2113.6h26.8v27.1h-26.8zM1299.2 2086.9h26.8v27.1h-26.8zM1325.9 2033.6h26.8v27.1h-26.8zM1352.5 2007.0h26.8v27.1h-26.8zM1379.2 1980.3h26.8v27.1h-26.8zM1405.8 1953.7h26.8v27.1h-26.8zM1512.4 1820.4h26.8v27.1h-26.8zM1539.1 1767.1h26.8v27.1h-26.8zM393.3 1740.5h26.8v27.1h-26.8zM1539.1 1740.5h26.8v27.1h-26.8zM420.0 1713.8h26.8v27.1h-26.8zM446.6 1687.2h26.8v27.1h-26.8zM1565.7 1607.2h26.8v27.1h-26.8zM1725.6 1527.2h26.8v27.1h-26.8zM1992.0 1287.4h26.8v27.1h-26.8zM1725.6 1234.1h26.8v27.1h-26.8zM1912.1 1234.1h53.5v27.1h-53.5zM1592.3 1020.9h26.8v27.1h-26.8zM1938.7 994.2h26.8v27.1h-26.8zM1992.0 994.2h26.8v27.1h-26.8zM1645.6 967.5h26.8v27.1h-26.8zM1698.9 967.5h26.8v27.1h-26.8zM2018.7 967.5h26.8v27.1h-26.8zM1858.8 887.6h26.8v27.1h-26.8zM1965.4 860.9h26.8v27.1h-26.8zM1832.1 834.3h26.8v27.1h-26.8zM1858.8 807.6h26.8v27.1h-26.8z"/>
<path fill="#b93556" d="M1086.1 2273.5h26.8v27.1h-26.8zM1166.0 2193.5h26.8v27.1h-26.8zM1432.5 1900.4h26.8v27.1h-26.8zM1459.1 1847.1h26.8v27.1h-26.8zM1485.8 1820.4h26.8v27.1h-26.8zM1512.4 1793.8h26.8v27.1h-26.8zM1539.1 1713.8h26.8v27.1h-26.8zM1539.1 1687.2h26.8v27.1h-26.8zM1539.1 1660.5h26.8v27.1h-26.8zM553.2 1633.8h26.8v27.1h-26.8zM1565.7 1580.5h26.8v27.1h-26.8zM1565.7 1553.9h26.8v27.1h-26.8zM1645.6 1527.2h26.8v27.1h-26.8zM1166.0 1367.3h26.8v27.1h-26.8zM1805.5 1260.7h26.8v27.1h-26.8zM1725.6 1154.1h26.8v27.1h-26.8zM1565.7 1047.5h26.8v27.1h-26.8zM1619.0 994.2h26.8v27.1h-26.8zM1965.4 994.2h26.8v27.1h-26.8zM1885.4 940.9h26.8v27.1h-26.8zM1992.0 914.2h26.8v27.1h-26.8zM1858.8 860.9h26.8v27.1h-26.8zM1885.4 834.3h80.1v27.1h-80.1z"/>
<path fill="#bc3754" d="M473.3 2300.1h26.8v27.1h-26.8zM952.9 2300.1h26.8v27.1h-26.8zM1032.8 2273.5h53.5v27.1h-53.5zM1059.4 2246.8h53.5v27.1h-53.5zM1086.1 2220.2h53.5v27.1h-53.5zM1139.4 2193.5h26.8v27.1h-26.8zM1166.0 2166.9h53.5v27.1h-53.5zM1192.7 2140.2h53.5v27.1h-53.5zM1246.0 2113.6h26.8v27.1h-26.8zM1299.2 2060.3h26.8v27.1h-26.8zM1325.9 2007.0h26.8v27.1h-26.8zM1352.5 1980.3h26.8v27.1h-26.8zM1352.5 1953.7h53.5v27.1h-53.5zM1379.2 1927.0h53.5v27.1h-53.5zM1432.5 1873.7h26.8v27.1h-26.8zM499.9 1660.5h26.8v27.1h-26.8zM1539.1 1633.8h26.8v27.1h-26.8zM1565.7 1527.2h26.8v27.1h-26.8zM1858.8 1527.2h26.8v27.1h-26.8zM2018.7 1500.6h26.8v27.1h-26.8zM1086.1 1420.6h26.8v27.1h-26.8zM1698.9 1207.4h26.8v27.1h-26.8zM1459.1 1154.1h26.8v27.1h-26.8zM1725.6 1020.9h26.8v27.1h-26.8zM1672.3 967.5h26.8v27.1h-26.8zM1912.1 967.5h26.8v27.1h-26.8zM1965.4 887.6h26.8v27.1h-26.8zM1938.7 860.9h26.8v27.1h-26.8zM1858.8 834.3h26.8v27.1h-26.8z"/>
<path fill="#bd3853" d="M1112.7 2193.5h26.8v27.1h-26.8zM1166.0 2140.2h26.8v27.1h-26.8zM1219.3 2113.6h26.8v27.1h-26.8zM1272.6 2086.9h26.8v27.1h-26.8zM1299.2 2033.6h26.8v27.1h-26.8zM1325.9 1980.3h26.8v27.1h-26.8zM1405.8 1900.4h26.8v27.1h-26.8zM1432.5 1847.1h26.8v27.1h-26.8zM1459.1 1820.4h26.8v27.1h-26.8zM1485.8 1793.8h26.8v27.1h-26.8zM366.7 1767.1h26.8v27.1h-26.8zM1512.4 1767.1h26.8v27.1h-26.8zM579.8 1633.8h26.8v27.1h-26.8zM1539.1 1607.2h26.8v27.1h-26.8zM1672.3 1527.2h53.5v27.1h-53.5zM1992.0 1527.2h26.8v27.1h-26.8zM1752.2 1500.6h26.8v27.1h-26.8zM899.6 1473.9h26.8v27.1h-26.8zM1059.4 1447.3h26.8v27.1h-26.8zM1219.3 1340.7h26.8v27.1h-26.8zM1885.4 1260.7h26.8v27.1h-26.8zM1965.4 1260.7h26.8v27.1h-26.8zM1485.8 1127.5h26.8v27.1h-26.8zM1512.4 1100.8h26.8v27.1h-26.8zM1539.1 1074.2h26.8v27.1h-26.8zM1992.0 940.9h26.8v27.1h-26.8zM1885.4 914.2h26.8v27.1h-26.8zM1938.7 887.6h26.8v27.1h-26.8zM1885.4 860.9h53.5v27.1h-53.5z"/>
<path fill="#bf3952" d="M1192.7 2113.6h26.8v27.1h-26.8zM1512.4 1740.5h26.8v27.1h-26.8zM606.5 1633.8h26.8v27.1h-26.8zM1539.1 1580.5h26.8v27.1h-26.8zM1539.1 1553.9h26.8v27.1h-26.8zM1539.1 1527.2h26.8v27.1h-26.8zM1006.2 1473.9h26.8v27.1h-26.8zM1992.0 1367.3h26.8v27.1h-26.8zM1432.5 1180.8h26.8v27.1h-26.8zM1912.1 940.9h26.8v27.1h-26.8z"/>
<path fill="#c03a51" d="M1006.2 2273.5h26.8v27.1h-26.8zM1032.8 2246.8h26.8v27.1h-26.8zM1059.4 2220.2h26.8v27.1h-26.8zM1086.1 2193.5h26.8v27.1h-26.8zM1139.4 2166.9h26.8v27.1h-26.8zM1166.0 2113.6h26.8v27.1h-26.8zM1246.0 2086.9h26.8v27.1h-26.8zM1299.2 2007.0h26.8v27.1h-26.8zM1325.9 1953.7h26.8v27.1h-26.8zM1352.5 1927.0h26.8v27.1h-26.8zM1379.2 1900.4h26.8v27.1h-26.8zM633.1 1633.8h26.8v27.1h-26.8zM686.4 1607.2h26.8v27.1h-26.8zM766.3 1553.9h26.8v27.1h-26.8zM979.5 1473.9h26.8v27.1h-26.8zM1778.9 1260.7h26.8v27.1h-26.8zM1698.9 1180.8h26.8v27.1h-26.8zM1992.0 967.5h26.8v27.1h-26.8zM1885.4 887.6h53.5v27.1h-53.5z"/>
<path fill="#c33b4f" d="M1405.8 1873.7h26.8v27.1h-26.8zM1485.8 1767.1h26.8v27.1h-26.8zM1512.4 1713.8h26.8v27.1h-26.8zM1592.3 1500.6h26.8v27.1h-26.8zM2018.7 1420.6h26.8v27.1h-26.8zM1698.9 1234.1h26.8v27.1h-26.8zM1698.9 994.2h26.8v27.1h-26.8zM1912.1 914.2h26.8v27.1h-26.8zM1965.4 914.2h26.8v27.1h-26.8z"/>
<path fill="#c43c4e" d="M1432.5 1820.4h26.8v27.1h-26.8zM1459.1 1793.8h26.8v27.1h-26.8zM1512.4 1687.2h26.8v27.1h-26.8zM1512.4 1660.5h26.8v27.1h-26.8zM1512.4 1633.8h26.8v27.1h-26.8zM819.6 1527.2h26.8v27.1h-26.8zM1565.7 1500.6h26.8v27.1h-26.8zM926.2 1473.9h53.5v27.1h-53.5zM1725.6 1127.5h26.8v27.1h-26.8zM1725.6 1047.5h26.8v27.1h-26.8zM1938.7 967.5h26.8v27.1h-26.8zM1938.7 914.2h26.8v27.1h-26.8z"/>
<path fill="#c63d4d" d="M1405.8 1847.1h26.8v27.1h-26.8zM1485.8 1740.5h26.8v27.1h-26.8zM1512.4 1607.2h26.8v27.1h-26.8zM1619.0 1500.6h26.8v27.1h-26.8zM1832.1 1500.6h26.8v27.1h-26.8z"/>
<path fill="#c73e4c" d="M1112.7 2166.9h26.8v27.1h-26.8zM1139.4 2140.2h26.8v27.1h-26.8zM1219.3 2086.9h26.8v27.1h-26.8zM1272.6 2060.3h26.8v27.1h-26.8zM1539.1 1500.6h26.8v27.1h-26.8zM1032.8 1473.9h26.8v27.1h-26.8zM1965.4 967.5h26.8v27.1h-26.8zM1938.7 940.9h26.8v27.1h-26.8z"/>
<path fill="#ca404a" d="M1006.2 2246.8h26.8v27.1h-26.8zM1032.8 2220.2h26.8v27.1h-26.8zM1059.4 2193.5h26.8v27.1h-26.8zM1192.7 2086.9h26.8v27.1h-26.8zM1272.6 2033.6h26.8v27.1h-26.8zM1299.2 1980.3h26.8v27.1h-26.8zM1325.9 1927.0h26.8v27.1h-26.8zM1352.5 1900.4h26.8v27.1h-26.8zM1379.2 1873.7h26.8v27.1h-26.8zM1512.4 1580.5h26.8v27.1h-26.8zM1512.4 1553.9h26.8v27.1h-26.8zM1725.6 1500.6h26.8v27.1h-26.8zM1778.9 1473.9h26.8v27.1h-26.8zM2018.7 1473.9h26.8v27.1h-26.8zM2018.7 1447.3h26.8v27.1h-26.8zM1139.4 1394.0h26.8v27.1h-26.8zM1965.4 1287.4h26.8v27.1h-26.8zM1912.1 1260.7h53.5v27.1h-53.5zM1379.2 1207.4h26.8v27.1h-26.8zM1645.6 994.2h26.8v27.1h-26.8zM1965.4 940.9h26.8v27.1h-26.8z"/>
<path fill="#cb4149" d="M979.5 2273.5h26.8v27.1h-26.8zM1086.1 2166.9h26.8v27.1h-26.8zM1139.4 2113.6h26.8v27.1h-26.8zM1166.0 2086.9h26.8v27.1h-26.8zM1246.0 2060.3h26.8v27.1h-26.8zM1272.6 2007.0h26.8v27.1h-26.8zM1379.2 1847.1h26.8v27.1h-26.8zM1405.8 1820.4h26.8v27.1h-26.8zM340.0 1793.8h26.8v27.1h-26.8zM1432.5 1793.8h26.8v27.1h-26.8zM1459.1 1767.1h26.8v27.1h-26.8zM1485.8 1713.8h26.8v27.1h-26.8zM659.8 1633.8h26.8v27.1h-26.8zM1512.4 1527.2h26.8v27.1h-26.8zM1885.4 1527.2h26.8v27.1h-26.8zM1965.4 1314.0h26.8v27.1h-26.8zM1858.8 1287.4h26.8v27.1h-26.8zM1752.2 1260.7h26.8v27.1h-26.8zM1725.6 1100.8h26.8v27.1h-26.8zM1725.6 1074.2h26.8v27.1h-26.8zM1672.3 994.2h26.8v27.1h-26.8z"/>
<path fill="#cc4248" d="M739.7 2273.5h80.1v27.1h-80.1zM846.3 2273.5h133.4v27.1h-133.4zM899.6 2246.8h106.8v27.1h-106.8zM952.9 2220.2h80.1v27.1h-80.1zM1006.2 2193.5h53.5v27.1h-53.5zM1059.4 2166.9h26.8v27.1h-26.8zM1086.1 2140.2h53.5v27.1h-53.5zM1112.7 2113.6h26.8v27.1h-26.8zM1139.4 2086.9h26.8v27.1h-26.8zM1139.4 2060.3h106.8v27.1h-106.8zM1246.0 2033.6h26.8v27.1h-26.8zM1299.2 1953.7h26.8v27.1h-26.8zM1352.5 1873.7h26.8v27.1h-26.8zM473.3 1687.2h26.8v27.1h-26.8zM1485.8 1687.2h26.8v27.1h-26.8zM526.5 1660.5h26.8v27.1h-26.8zM1485.8 1660.5h26.8v27.1h-26.8zM1485.8 1633.8h26.8v27.1h-26.8zM1485.8 1607.2h26.8v27.1h-26.8zM872.9 1500.6h26.8v27.1h-26.8zM1645.6 1500.6h26.8v27.1h-26.8zM1752.2 1473.9h26.8v27.1h-26.8zM1112.7 1420.6h26.8v27.1h-26.8zM1592.3 1047.5h26.8v27.1h-26.8zM1619.0 1020.9h26.8v27.1h-26.8zM1698.9 1020.9h26.8v27.1h-26.8z"/>
<path fill="#cf4446" d="M713.1 2273.5h26.8v27.1h-26.8zM819.6 2273.5h26.8v27.1h-26.8zM872.9 2246.8h26.8v27.1h-26.8zM926.2 2220.2h26.8v27.1h-26.8zM979.5 2193.5h26.8v27.1h-26.8zM1032.8 2166.9h26.8v27.1h-26.8zM1112.7 2086.9h26.8v27.1h-26.8zM1219.3 2033.6h26.8v27.1h-26.8zM1379.2 1820.4h26.8v27.1h-26.8zM1405.8 1793.8h26.8v27.1h-26.8zM1432.5 1767.1h26.8v27.1h-26.8zM1459.1 1740.5h26.8v27.1h-26.8zM739.7 1580.5h26.8v27.1h-26.8zM1485.8 1580.5h26.8v27.1h-26.8zM1086.1 1447.3h26.8v27.1h-26.8zM1192.7 1367.3h26.8v27.1h-26.8zM1965.4 1340.7h26.8v27.1h-26.8zM1832.1 1287.4h26.8v27.1h-26.8zM1885.4 1287.4h26.8v27.1h-26.8zM1325.9 1260.7h26.8v27.1h-26.8zM1672.3 1234.1h26.8v27.1h-26.8zM1672.3 1207.4h26.8v27.1h-26.8z"/>
<path fill="#d04545" d="M766.3 2246.8h26.8v27.1h-26.8zM1166.0 2033.6h53.5v27.1h-53.5zM1272.6 1980.3h26.8v27.1h-26.8zM1325.9 1900.4h26.8v27.1h-26.8zM1352.5 1847.1h26.8v27.1h-26.8zM1485.8 1553.9h26.8v27.1h-26.8zM1512.4 1500.6h26.8v27.1h-26.8zM1592.3 1473.9h26.8v27.1h-26.8zM1805.5 1473.9h26.8v27.1h-26.8z"/>
<path fill="#d24644" d="M686.4 2273.5h26.8v27.1h-26.8zM739.7 2246.8h26.8v27.1h-26.8zM793.0 2246.8h26.8v27.1h-26.8zM846.3 2246.8h26.8v27.1h-26.8zM899.6 2220.2h26.8v27.1h-26.8zM952.9 2193.5h26.8v27.1h-26.8zM1006.2 2166.9h26.8v27.1h-26.8zM1059.4 2140.2h26.8v27.1h-26.8zM1086.1 2113.6h26.8v27.1h-26.8zM1112.7 2060.3h26.8v27.1h-26.8zM1139.4 2033.6h26.8v27.1h-26.8zM1246.0 2007.0h26.8v27.1h-26.8zM1299.2 1927.0h26.8v27.1h-26.8zM420.0 1740.5h26.8v27.1h-26.8zM1965.4 1527.2h26.8v27.1h-26.8zM1672.3 1500.6h53.5v27.1h-53.5zM1565.7 1473.9h26.8v27.1h-26.8zM1459.1 1180.8h26.8v27.1h-26.8zM1565.7 1074.2h26.8v27.1h-26.8z"/>
<path fill="#d34743" d="M1325.9 1873.7h26.8v27.1h-26.8zM1405.8 1767.1h26.8v27.1h-26.8zM1432.5 1740.5h26.8v27.1h-26.8zM1459.1 1713.8h26.8v27.1h-26.8zM1698.9 1154.1h26.8v27.1h-26.8zM1512.4 1127.5h26.8v27.1h-26.8zM1539.1 1100.8h26.8v27.1h-26.8z"/>
<path fill="#d54a41" d="M1352.5 1820.4h26.8v27.1h-26.8zM1379.2 1793.8h26.8v27.1h-26.8zM1459.1 1687.2h26.8v27.1h-26.8zM1459.1 1660.5h26.8v27.1h-26.8zM1459.1 1633.8h26.8v27.1h-26.8zM1485.8 1527.2h26.8v27.1h-26.8zM1059.4 1473.9h26.8v27.1h-26.8zM1619.0 1473.9h26.8v27.1h-26.8zM1805.5 1287.4h26.8v27.1h-26.8zM1725.6 1260.7h26.8v27.1h-26.8zM1352.5 1234.1h26.8v27.1h-26.8zM1485.8 1154.1h26.8v27.1h-26.8z"/>
<path fill="#d74b3f" d="M819.6 2246.8h26.8v27.1h-26.8zM1325.9 1847.1h26.8v27.1h-26.8zM326.9 1820.4h13.4v27.1h-13.4zM1405.8 1740.5h26.8v27.1h-26.8zM446.6 1713.8h26.8v27.1h-26.8zM1459.1 1607.2h26.8v27.1h-26.8zM1539.1 1473.9h26.8v27.1h-26.8zM1725.6 1473.9h26.8v27.1h-26.8zM1672.3 1180.8h26.8v27.1h-26.8z"/>
<path fill="#d84c3e" d="M713.1 2246.8h26.8v27.1h-26.8zM872.9 2220.2h26.8v27.1h-26.8zM926.2 2193.5h26.8v27.1h-26.8zM979.5 2166.9h26.8v27.1h-26.8zM1032.8 2140.2h26.8v27.1h-26.8zM1086.1 2086.9h26.8v27.1h-26.8zM1219.3 2007.0h26.8v27.1h-26.8zM1272.6 1953.7h26.8v27.1h-26.8zM1299.2 1900.4h26.8v27.1h-26.8zM393.3 1767.1h26.8v27.1h-26.8zM553.2 1660.5h26.8v27.1h-26.8zM1912.1 1527.2h26.8v27.1h-26.8zM1992.0 1394.0h26.8v27.1h-26.8zM1299.2 1287.4h26.8v27.1h-26.8zM1938.7 1287.4h26.8v27.1h-26.8zM1645.6 1234.1h26.8v27.1h-26.8zM1698.9 1047.5h26.8v27.1h-26.8z"/>
<path fill="#da4e3c" d="M766.3 2220.2h26.8v27.1h-26.8zM1059.4 2113.6h26.8v27.1h-26.8zM1112.7 2033.6h26.8v27.1h-26.8zM1192.7 2007.0h26.8v27.1h-26.8zM1246.0 1980.3h26.8v27.1h-26.8zM1379.2 1767.1h26.8v27.1h-26.8zM1432.5 1713.8h26.8v27.1h-26.8zM713.1 1607.2h26.8v27.1h-26.8zM1459.1 1580.5h26.8v27.1h-26.8zM1459.1 1553.9h26.8v27.1h-26.8zM1938.7 1527.2h26.8v27.1h-26.8zM1858.8 1500.6h26.8v27.1h-26.8zM1992.0 1500.6h26.8v27.1h-26.8zM1912.1 1287.4h26.8v27.1h-26.8zM1405.8 1207.4h26.8v27.1h-26.8zM1645.6 1020.9h53.5v27.1h-53.5z"/>
<path fill="#db503b" d="M659.8 2273.5h26.8v27.1h-26.8zM686.4 2246.8h26.8v27.1h-26.8zM739.7 2220.2h26.8v27.1h-26.8zM793.0 2220.2h80.1v27.1h-80.1zM899.6 2193.5h26.8v27.1h-26.8zM952.9 2166.9h26.8v27.1h-26.8zM1006.2 2140.2h26.8v27.1h-26.8zM1086.1 2060.3h26.8v27.1h-26.8zM1166.0 2007.0h26.8v27.1h-26.8zM1272.6 1927.0h26.8v27.1h-26.8zM1299.2 1873.7h26.8v27.1h-26.8zM1325.9 1820.4h26.8v27.1h-26.8zM1352.5 1793.8h26.8v27.1h-26.8zM1379.2 1740.5h26.8v27.1h-26.8zM1405.8 1713.8h26.8v27.1h-26.8zM499.9 1687.2h26.8v27.1h-26.8zM1432.5 1687.2h26.8v27.1h-26.8zM1432.5 1660.5h26.8v27.1h-26.8zM686.4 1633.8h26.8v27.1h-26.8zM1432.5 1633.8h26.8v27.1h-26.8zM1432.5 1607.2h26.8v27.1h-26.8zM793.0 1553.9h26.8v27.1h-26.8zM1166.0 1394.0h26.8v27.1h-26.8zM1965.4 1367.3h26.8v27.1h-26.8zM1698.9 1260.7h26.8v27.1h-26.8zM1619.0 1047.5h26.8v27.1h-26.8z"/>
<path fill="#dd513a" d="M606.5 2273.5h53.5v27.1h-53.5zM846.3 2193.5h53.5v27.1h-53.5zM1032.8 2113.6h26.8v27.1h-26.8zM1059.4 2086.9h26.8v27.1h-26.8zM1059.4 2060.3h26.8v27.1h-26.8zM1086.1 2033.6h26.8v27.1h-26.8zM1139.4 2007.0h26.8v27.1h-26.8zM1219.3 1980.3h26.8v27.1h-26.8zM1246.0 1953.7h26.8v27.1h-26.8zM1299.2 1847.1h26.8v27.1h-26.8zM366.7 1793.8h26.8v27.1h-26.8zM1379.2 1713.8h26.8v27.1h-26.8zM1379.2 1687.2h53.5v27.1h-53.5zM579.8 1660.5h80.1v27.1h-80.1zM1379.2 1660.5h53.5v27.1h-53.5zM1405.8 1633.8h26.8v27.1h-26.8zM1405.8 1607.2h26.8v27.1h-26.8zM1432.5 1580.5h26.8v27.1h-26.8zM1432.5 1553.9h26.8v27.1h-26.8zM899.6 1500.6h26.8v27.1h-26.8zM1645.6 1473.9h26.8v27.1h-26.8zM1832.1 1473.9h26.8v27.1h-26.8zM1112.7 1447.3h26.8v27.1h-26.8zM1938.7 1314.0h26.8v27.1h-26.8zM1778.9 1287.4h26.8v27.1h-26.8zM1645.6 1207.4h26.8v27.1h-26.8zM1698.9 1074.2h26.8v27.1h-26.8z"/>
<path fill="#de5238" d="M659.8 2246.8h26.8v27.1h-26.8zM713.1 2220.2h26.8v27.1h-26.8zM819.6 2193.5h26.8v27.1h-26.8zM926.2 2166.9h26.8v27.1h-26.8zM979.5 2140.2h26.8v27.1h-26.8zM1032.8 2086.9h26.8v27.1h-26.8zM1059.4 2033.6h26.8v27.1h-26.8zM1112.7 2007.0h26.8v27.1h-26.8zM1192.7 1980.3h26.8v27.1h-26.8zM1272.6 1900.4h26.8v27.1h-26.8zM1325.9 1793.8h26.8v27.1h-26.8zM1352.5 1767.1h26.8v27.1h-26.8zM1352.5 1740.5h26.8v27.1h-26.8zM1352.5 1713.8h26.8v27.1h-26.8zM1352.5 1687.2h26.8v27.1h-26.8zM1379.2 1633.8h26.8v27.1h-26.8zM1405.8 1580.5h26.8v27.1h-26.8zM846.3 1527.2h26.8v27.1h-26.8zM1459.1 1527.2h26.8v27.1h-26.8zM1485.8 1500.6h26.8v27.1h-26.8zM1858.8 1314.0h53.5v27.1h-53.5z"/>
<path fill="#e05536" d="M366.7 2273.5h26.8v27.1h-26.8zM633.1 2246.8h26.8v27.1h-26.8zM766.3 2193.5h53.5v27.1h-53.5zM872.9 2166.9h53.5v27.1h-53.5zM1086.1 2007.0h26.8v27.1h-26.8zM1272.6 1873.7h26.8v27.1h-26.8zM1299.2 1820.4h26.8v27.1h-26.8zM1352.5 1660.5h26.8v27.1h-26.8zM1379.2 1607.2h26.8v27.1h-26.8zM1405.8 1553.9h26.8v27.1h-26.8zM1432.5 1527.2h26.8v27.1h-26.8zM1006.2 1500.6h26.8v27.1h-26.8zM1512.4 1473.9h26.8v27.1h-26.8zM1139.4 1420.6h26.8v27.1h-26.8zM1272.6 1314.0h26.8v27.1h-26.8zM1672.3 1260.7h26.8v27.1h-26.8zM1698.9 1127.5h26.8v27.1h-26.8z"/>
<path fill="#e15635" d="M579.8 2273.5h26.8v27.1h-26.8zM606.5 2246.8h26.8v27.1h-26.8zM686.4 2220.2h26.8v27.1h-26.8zM739.7 2193.5h26.8v27.1h-26.8zM846.3 2166.9h26.8v27.1h-26.8zM952.9 2140.2h26.8v27.1h-26.8zM1006.2 2113.6h26.8v27.1h-26.8zM1032.8 2060.3h26.8v27.1h-26.8zM1059.4 2007.0h26.8v27.1h-26.8zM1166.0 1980.3h26.8v27.1h-26.8zM1219.3 1953.7h26.8v27.1h-26.8zM1246.0 1927.0h26.8v27.1h-26.8zM659.8 1660.5h26.8v27.1h-26.8zM1672.3 1473.9h53.5v27.1h-53.5zM1752.2 1447.3h26.8v27.1h-26.8zM1246.0 1340.7h26.8v27.1h-26.8zM1912.1 1314.0h26.8v27.1h-26.8zM1645.6 1260.7h26.8v27.1h-26.8zM1565.7 1100.8h26.8v27.1h-26.8zM1698.9 1100.8h26.8v27.1h-26.8zM1592.3 1074.2h26.8v27.1h-26.8z"/>
<path fill="#e25734" d="M393.3 2273.5h26.8v27.1h-26.8zM366.7 2246.8h26.8v27.1h-26.8zM1325.9 1767.1h26.8v27.1h-26.8zM1352.5 1633.8h26.8v27.1h-26.8zM1379.2 1580.5h26.8v27.1h-26.8zM926.2 1500.6h26.8v27.1h-26.8zM979.5 1500.6h26.8v27.1h-26.8zM1086.1 1473.9h26.8v27.1h-26.8zM1778.9 1447.3h26.8v27.1h-26.8zM1938.7 1340.7h26.8v27.1h-26.8zM1832.1 1314.0h26.8v27.1h-26.8zM1432.5 1207.4h26.8v27.1h-26.8zM1539.1 1127.5h26.8v27.1h-26.8zM1645.6 1047.5h53.5v27.1h-53.5z"/>
<path fill="#e45a31" d="M1272.6 1847.1h26.8v27.1h-26.8zM1299.2 1793.8h26.8v27.1h-26.8zM1325.9 1740.5h26.8v27.1h-26.8zM1325.9 1713.8h26.8v27.1h-26.8zM1405.8 1527.2h26.8v27.1h-26.8zM952.9 1500.6h26.8v27.1h-26.8zM1032.8 1500.6h26.8v27.1h-26.8z"/>
<path fill="#e55c30" d="M420.0 1767.1h26.8v27.1h-26.8zM446.6 1740.5h26.8v27.1h-26.8zM473.3 1713.8h26.8v27.1h-26.8zM1325.9 1687.2h26.8v27.1h-26.8zM1352.5 1607.2h26.8v27.1h-26.8zM1379.2 1553.9h26.8v27.1h-26.8zM1725.6 1447.3h26.8v27.1h-26.8zM1619.0 1234.1h26.8v27.1h-26.8zM1645.6 1180.8h26.8v27.1h-26.8z"/>
<path fill="#e65d2f" d="M659.8 2220.2h26.8v27.1h-26.8zM713.1 2193.5h26.8v27.1h-26.8zM819.6 2166.9h26.8v27.1h-26.8zM926.2 2140.2h26.8v27.1h-26.8zM979.5 2113.6h26.8v27.1h-26.8zM1006.2 2086.9h26.8v27.1h-26.8zM1032.8 2033.6h26.8v27.1h-26.8zM1139.4 1980.3h26.8v27.1h-26.8zM1192.7 1953.7h26.8v27.1h-26.8zM1246.0 1900.4h26.8v27.1h-26.8zM526.5 1687.2h26.8v27.1h-26.8zM1592.3 1447.3h53.5v27.1h-53.5zM1219.3 1367.3h26.8v27.1h-26.8zM1672.3 1154.1h26.8v27.1h-26.8z"/>
<path fill="#e75e2e" d="M340.0 2273.5h26.8v27.1h-26.8zM579.8 2246.8h26.8v27.1h-26.8zM766.3 2166.9h53.5v27.1h-53.5zM872.9 2140.2h53.5v27.1h-53.5zM1086.1 1980.3h53.5v27.1h-53.5zM1219.3 1927.0h26.8v27.1h-26.8zM1325.9 1660.5h26.8v27.1h-26.8zM1459.1 1500.6h26.8v27.1h-26.8zM1992.0 1420.6h26.8v27.1h-26.8zM1752.2 1287.4h26.8v27.1h-26.8zM1619.0 1260.7h26.8v27.1h-26.8zM1512.4 1154.1h26.8v27.1h-26.8zM1619.0 1074.2h26.8v27.1h-26.8zM1672.3 1074.2h26.8v27.1h-26.8z"/>
<path fill="#e9612b" d="M553.2 2273.5h26.8v27.1h-26.8zM340.0 2246.8h26.8v27.1h-26.8zM393.3 2246.8h26.8v27.1h-26.8zM366.7 2220.2h26.8v27.1h-26.8zM633.1 2220.2h26.8v27.1h-26.8zM686.4 2193.5h26.8v27.1h-26.8zM739.7 2166.9h26.8v27.1h-26.8zM846.3 2140.2h26.8v27.1h-26.8zM952.9 2113.6h26.8v27.1h-26.8zM1006.2 2060.3h26.8v27.1h-26.8zM1032.8 2007.0h26.8v27.1h-26.8zM1059.4 1980.3h26.8v27.1h-26.8zM1166.0 1953.7h26.8v27.1h-26.8zM1246.0 1873.7h26.8v27.1h-26.8zM1272.6 1820.4h26.8v27.1h-26.8zM393.3 1793.8h26.8v27.1h-26.8zM1299.2 1767.1h26.8v27.1h-26.8zM766.3 1580.5h26.8v27.1h-26.8zM1379.2 1527.2h26.8v27.1h-26.8zM1885.4 1500.6h26.8v27.1h-26.8zM1139.4 1447.3h26.8v27.1h-26.8zM1565.7 1447.3h26.8v27.1h-26.8zM1805.5 1447.3h26.8v27.1h-26.8zM1805.5 1314.0h26.8v27.1h-26.8zM1379.2 1234.1h26.8v27.1h-26.8zM1485.8 1180.8h26.8v27.1h-26.8z"/>
<path fill="#ea632a" d="M326.9 2273.5h13.4v27.1h-13.4zM526.5 2273.5h26.8v27.1h-26.8zM326.9 2246.8h13.4v27.1h-13.4zM553.2 2246.8h26.8v27.1h-26.8zM326.9 2220.2h40.0v27.1h-40.0zM393.3 2220.2h26.8v27.1h-26.8zM606.5 2220.2h26.8v27.1h-26.8zM340.0 2193.5h53.5v27.1h-53.5zM713.1 2166.9h26.8v27.1h-26.8zM766.3 2140.2h80.1v27.1h-80.1zM872.9 2113.6h80.1v27.1h-80.1zM952.9 2086.9h53.5v27.1h-53.5zM979.5 2060.3h26.8v27.1h-26.8zM1006.2 2033.6h26.8v27.1h-26.8zM1032.8 1980.3h26.8v27.1h-26.8zM1139.4 1953.7h26.8v27.1h-26.8zM1192.7 1927.0h26.8v27.1h-26.8zM1219.3 1900.4h26.8v27.1h-26.8zM1299.2 1740.5h26.8v27.1h-26.8zM1325.9 1633.8h26.8v27.1h-26.8zM1405.8 1500.6h53.5v27.1h-53.5zM1112.7 1473.9h26.8v27.1h-26.8zM1485.8 1473.9h26.8v27.1h-26.8zM1858.8 1473.9h26.8v27.1h-26.8zM1645.6 1447.3h26.8v27.1h-26.8zM1698.9 1447.3h26.8v27.1h-26.8zM1166.0 1420.6h26.8v27.1h-26.8zM1192.7 1394.0h26.8v27.1h-26.8zM1912.1 1340.7h26.8v27.1h-26.8zM1619.0 1207.4h26.8v27.1h-26.8zM1592.3 1100.8h26.8v27.1h-26.8zM1672.3 1100.8h26.8v27.1h-26.8zM1645.6 1074.2h26.8v27.1h-26.8z"/>
<path fill="#eb6429" d="M526.5 2246.8h26.8v27.1h-26.8zM579.8 2220.2h26.8v27.1h-26.8zM326.9 2193.5h13.4v27.1h-13.4zM393.3 2193.5h26.8v27.1h-26.8zM659.8 2193.5h26.8v27.1h-26.8zM366.7 2166.9h26.8v27.1h-26.8zM739.7 2140.2h26.8v27.1h-26.8zM846.3 2113.6h26.8v27.1h-26.8zM926.2 2086.9h26.8v27.1h-26.8zM1006.2 2007.0h26.8v27.1h-26.8zM1112.7 1953.7h26.8v27.1h-26.8zM1166.0 1927.0h26.8v27.1h-26.8zM1219.3 1873.7h26.8v27.1h-26.8zM1246.0 1847.1h26.8v27.1h-26.8zM1272.6 1793.8h26.8v27.1h-26.8zM499.9 1713.8h26.8v27.1h-26.8zM1299.2 1713.8h26.8v27.1h-26.8zM553.2 1687.2h26.8v27.1h-26.8zM1299.2 1687.2h26.8v27.1h-26.8zM686.4 1660.5h26.8v27.1h-26.8zM1352.5 1580.5h26.8v27.1h-26.8zM1059.4 1500.6h26.8v27.1h-26.8zM1379.2 1500.6h26.8v27.1h-26.8zM1992.0 1473.9h26.8v27.1h-26.8zM1539.1 1447.3h26.8v27.1h-26.8zM1672.3 1447.3h26.8v27.1h-26.8zM1938.7 1367.3h26.8v27.1h-26.8zM1885.4 1340.7h26.8v27.1h-26.8zM1352.5 1260.7h26.8v27.1h-26.8zM1459.1 1207.4h26.8v27.1h-26.8zM1565.7 1127.5h26.8v27.1h-26.8z"/>
<path fill="#eb6628" d="M499.9 2273.5h26.8v27.1h-26.8zM793.0 2113.6h53.5v27.1h-53.5zM899.6 2086.9h26.8v27.1h-26.8zM1059.4 1953.7h53.5v27.1h-53.5zM1192.7 1900.4h26.8v27.1h-26.8zM446.6 1767.1h26.8v27.1h-26.8zM473.3 1740.5h26.8v27.1h-26.8zM1299.2 1660.5h26.8v27.1h-26.8zM1325.9 1607.2h26.8v27.1h-26.8zM819.6 1553.9h26.8v27.1h-26.8z"/>
<path fill="#ed6925" d="M499.9 2246.8h26.8v27.1h-26.8zM553.2 2220.2h26.8v27.1h-26.8zM633.1 2193.5h26.8v27.1h-26.8zM340.0 2166.9h26.8v27.1h-26.8zM393.3 2166.9h26.8v27.1h-26.8zM686.4 2166.9h26.8v27.1h-26.8zM713.1 2140.2h26.8v27.1h-26.8zM766.3 2113.6h26.8v27.1h-26.8zM872.9 2086.9h26.8v27.1h-26.8zM952.9 2060.3h26.8v27.1h-26.8zM979.5 2033.6h26.8v27.1h-26.8zM1006.2 1980.3h26.8v27.1h-26.8zM1032.8 1953.7h26.8v27.1h-26.8zM1139.4 1927.0h26.8v27.1h-26.8zM340.0 1820.4h26.8v27.1h-26.8zM420.0 1793.8h26.8v27.1h-26.8zM713.1 1633.8h26.8v27.1h-26.8zM1965.4 1500.6h26.8v27.1h-26.8zM1992.0 1447.3h26.8v27.1h-26.8zM1965.4 1394.0h26.8v27.1h-26.8zM1725.6 1287.4h26.8v27.1h-26.8zM1672.3 1127.5h26.8v27.1h-26.8z"/>
<path fill="#ee6a24" d="M420.0 2220.2h26.8v27.1h-26.8zM366.7 2140.2h26.8v27.1h-26.8zM1246.0 1820.4h26.8v27.1h-26.8zM1272.6 1767.1h26.8v27.1h-26.8zM1352.5 1553.9h26.8v27.1h-26.8zM872.9 1527.2h26.8v27.1h-26.8zM1832.1 1447.3h26.8v27.1h-26.8zM1858.8 1340.7h26.8v27.1h-26.8zM1778.9 1314.0h26.8v27.1h-26.8zM1325.9 1287.4h26.8v27.1h-26.8zM1619.0 1180.8h26.8v27.1h-26.8zM1645.6 1154.1h26.8v27.1h-26.8zM1619.0 1100.8h53.5v27.1h-53.5z"/>
<path fill="#ef6c23" d="M1192.7 1873.7h26.8v27.1h-26.8zM1219.3 1847.1h26.8v27.1h-26.8zM1299.2 1633.8h26.8v27.1h-26.8zM739.7 1607.2h26.8v27.1h-26.8zM1139.4 1473.9h26.8v27.1h-26.8zM1539.1 1154.1h26.8v27.1h-26.8zM1592.3 1127.5h26.8v27.1h-26.8z"/>
<path fill="#f06f20" d="M1246.0 1793.8h26.8v27.1h-26.8zM1272.6 1740.5h26.8v27.1h-26.8zM1352.5 1527.2h26.8v27.1h-26.8zM1086.1 1500.6h26.8v27.1h-26.8zM1352.5 1500.6h26.8v27.1h-26.8zM1379.2 1473.9h26.8v27.1h-26.8zM1459.1 1473.9h26.8v27.1h-26.8zM1166.0 1447.3h26.8v27.1h-26.8zM1512.4 1447.3h26.8v27.1h-26.8zM1832.1 1340.7h26.8v27.1h-26.8zM1592.3 1260.7h26.8v27.1h-26.8zM1592.3 1234.1h26.8v27.1h-26.8z"/>
<path fill="#f1711f" d="M420.0 2273.5h26.8v27.1h-26.8zM420.0 2246.8h26.8v27.1h-26.8zM526.5 2220.2h26.8v27.1h-26.8zM420.0 2193.5h26.8v27.1h-26.8zM326.9 2166.9h13.4v27.1h-13.4zM659.8 2166.9h26.8v27.1h-26.8zM739.7 2113.6h26.8v27.1h-26.8zM846.3 2086.9h26.8v27.1h-26.8zM926.2 2060.3h26.8v27.1h-26.8zM979.5 2007.0h26.8v27.1h-26.8zM1112.7 1927.0h26.8v27.1h-26.8zM1166.0 1900.4h26.8v27.1h-26.8zM526.5 1713.8h26.8v27.1h-26.8zM579.8 1687.2h26.8v27.1h-26.8zM1912.1 1500.6h26.8v27.1h-26.8zM1405.8 1473.9h26.8v27.1h-26.8z"/>
<path fill="#f1731d" d="M473.3 2273.5h26.8v27.1h-26.8zM606.5 2193.5h26.8v27.1h-26.8zM340.0 2140.2h26.8v27.1h-26.8zM393.3 2140.2h26.8v27.1h-26.8zM686.4 2140.2h26.8v27.1h-26.8zM793.0 2086.9h53.5v27.1h-53.5zM899.6 2060.3h26.8v27.1h-26.8zM952.9 2033.6h26.8v27.1h-26.8zM1006.2 1953.7h26.8v27.1h-26.8zM1059.4 1927.0h53.5v27.1h-53.5zM1219.3 1820.4h26.8v27.1h-26.8zM446.6 1793.8h26.8v27.1h-26.8zM473.3 1767.1h26.8v27.1h-26.8zM1246.0 1767.1h26.8v27.1h-26.8zM499.9 1740.5h26.8v27.1h-26.8zM1272.6 1713.8h26.8v27.1h-26.8zM606.5 1687.2h53.5v27.1h-53.5zM1272.6 1687.2h26.8v27.1h-26.8zM1938.7 1500.6h26.8v27.1h-26.8zM1352.5 1473.9h26.8v27.1h-26.8zM1912.1 1367.3h26.8v27.1h-26.8zM1698.9 1287.4h26.8v27.1h-26.8zM1405.8 1234.1h26.8v27.1h-26.8zM1565.7 1154.1h26.8v27.1h-26.8zM1619.0 1154.1h26.8v27.1h-26.8zM1619.0 1127.5h53.5v27.1h-53.5z"/>
<path fill="#f2741c" d="M473.3 2246.8h26.8v27.1h-26.8zM446.6 2220.2h26.8v27.1h-26.8zM499.9 2220.2h26.8v27.1h-26.8zM420.0 2166.9h26.8v27.1h-26.8zM633.1 2166.9h26.8v27.1h-26.8zM713.1 2113.6h26.8v27.1h-26.8zM766.3 2086.9h26.8v27.1h-26.8zM872.9 2060.3h26.8v27.1h-26.8zM979.5 1980.3h26.8v27.1h-26.8zM1032.8 1927.0h26.8v27.1h-26.8zM1139.4 1900.4h26.8v27.1h-26.8zM1166.0 1873.7h26.8v27.1h-26.8zM1192.7 1847.1h26.8v27.1h-26.8zM366.7 1820.4h26.8v27.1h-26.8zM1219.3 1793.8h26.8v27.1h-26.8zM1246.0 1740.5h26.8v27.1h-26.8zM659.8 1687.2h26.8v27.1h-26.8zM1272.6 1660.5h26.8v27.1h-26.8zM1299.2 1607.2h26.8v27.1h-26.8zM1325.9 1580.5h26.8v27.1h-26.8zM1112.7 1500.6h26.8v27.1h-26.8zM1432.5 1473.9h26.8v27.1h-26.8zM1858.8 1447.3h26.8v27.1h-26.8zM1752.2 1420.6h53.5v27.1h-53.5zM1672.3 1287.4h26.8v27.1h-26.8zM1592.3 1207.4h26.8v27.1h-26.8zM1512.4 1180.8h26.8v27.1h-26.8zM1592.3 1154.1h26.8v27.1h-26.8z"/>
<path fill="#f37819" d="M446.6 2273.5h26.8v27.1h-26.8zM446.6 2246.8h26.8v27.1h-26.8zM473.3 2220.2h26.8v27.1h-26.8zM446.6 2193.5h53.5v27.1h-53.5zM553.2 2193.5h53.5v27.1h-53.5zM446.6 2166.9h26.8v27.1h-26.8zM326.9 2140.2h13.4v27.1h-13.4zM659.8 2140.2h26.8v27.1h-26.8zM326.9 2113.6h66.7v27.1h-66.7zM686.4 2113.6h26.8v27.1h-26.8zM326.9 2086.9h13.4v27.1h-13.4zM713.1 2086.9h53.5v27.1h-53.5zM739.7 2060.3h133.4v27.1h-133.4zM766.3 2033.6h186.7v27.1h-186.7zM846.3 2007.0h133.4v27.1h-133.4zM926.2 1980.3h53.5v27.1h-53.5zM952.9 1953.7h53.5v27.1h-53.5zM979.5 1927.0h53.5v27.1h-53.5zM1112.7 1900.4h26.8v27.1h-26.8zM1139.4 1873.7h26.8v27.1h-26.8zM326.9 1847.1h13.4v27.1h-13.4zM499.9 1767.1h26.8v27.1h-26.8zM1272.6 1633.8h26.8v27.1h-26.8zM1725.6 1420.6h26.8v27.1h-26.8zM1938.7 1394.0h26.8v27.1h-26.8zM1805.5 1340.7h26.8v27.1h-26.8zM1752.2 1314.0h26.8v27.1h-26.8zM1645.6 1287.4h26.8v27.1h-26.8zM1592.3 1180.8h26.8v27.1h-26.8z"/>
<path fill="#f47918" d="M499.9 2193.5h53.5v27.1h-53.5zM420.0 2140.2h26.8v27.1h-26.8zM819.6 2007.0h26.8v27.1h-26.8zM899.6 1980.3h26.8v27.1h-26.8zM1032.8 1900.4h80.1v27.1h-80.1zM1112.7 1873.7h26.8v27.1h-26.8zM1139.4 1847.1h53.5v27.1h-53.5zM393.3 1820.4h26.8v27.1h-26.8zM1192.7 1820.4h26.8v27.1h-26.8zM473.3 1793.8h26.8v27.1h-26.8zM1192.7 1793.8h26.8v27.1h-26.8zM1219.3 1767.1h26.8v27.1h-26.8zM526.5 1740.5h26.8v27.1h-26.8zM1219.3 1740.5h26.8v27.1h-26.8zM553.2 1713.8h26.8v27.1h-26.8zM1246.0 1713.8h26.8v27.1h-26.8zM1246.0 1687.2h26.8v27.1h-26.8zM1139.4 1500.6h26.8v27.1h-26.8zM1166.0 1473.9h26.8v27.1h-26.8zM1805.5 1420.6h26.8v27.1h-26.8zM1885.4 1367.3h26.8v27.1h-26.8zM1619.0 1287.4h26.8v27.1h-26.8z"/>
<path fill="#f57b17" d="M473.3 2166.9h26.8v27.1h-26.8zM606.5 2166.9h26.8v27.1h-26.8zM633.1 2140.2h26.8v27.1h-26.8zM659.8 2113.6h26.8v27.1h-26.8zM686.4 2086.9h26.8v27.1h-26.8zM713.1 2060.3h26.8v27.1h-26.8zM739.7 2033.6h26.8v27.1h-26.8zM793.0 2007.0h26.8v27.1h-26.8zM872.9 1980.3h26.8v27.1h-26.8zM926.2 1953.7h26.8v27.1h-26.8zM952.9 1927.0h26.8v27.1h-26.8zM1006.2 1900.4h26.8v27.1h-26.8zM420.0 1820.4h26.8v27.1h-26.8zM686.4 1687.2h26.8v27.1h-26.8zM1272.6 1607.2h26.8v27.1h-26.8zM1885.4 1473.9h26.8v27.1h-26.8zM1485.8 1447.3h26.8v27.1h-26.8zM1192.7 1420.6h26.8v27.1h-26.8zM1698.9 1420.6h26.8v27.1h-26.8zM1299.2 1314.0h26.8v27.1h-26.8zM1485.8 1207.4h26.8v27.1h-26.8z"/>
<path fill="#f67e14" d="M446.6 2140.2h26.8v27.1h-26.8zM393.3 2113.6h26.8v27.1h-26.8zM340.0 2086.9h26.8v27.1h-26.8zM326.9 2060.3h13.4v27.1h-13.4zM766.3 2007.0h26.8v27.1h-26.8zM846.3 1980.3h26.8v27.1h-26.8zM979.5 1900.4h26.8v27.1h-26.8zM1166.0 1820.4h26.8v27.1h-26.8zM526.5 1767.1h26.8v27.1h-26.8zM899.6 1527.2h26.8v27.1h-26.8zM1965.4 1420.6h26.8v27.1h-26.8zM1858.8 1367.3h26.8v27.1h-26.8zM1592.3 1287.4h26.8v27.1h-26.8z"/>
<path fill="#f68013" d="M1059.4 1873.7h53.5v27.1h-53.5zM1112.7 1847.1h26.8v27.1h-26.8zM446.6 1820.4h26.8v27.1h-26.8zM1139.4 1820.4h26.8v27.1h-26.8zM499.9 1793.8h26.8v27.1h-26.8zM1166.0 1793.8h26.8v27.1h-26.8zM1192.7 1767.1h26.8v27.1h-26.8zM1219.3 1713.8h26.8v27.1h-26.8zM1246.0 1660.5h26.8v27.1h-26.8zM1325.9 1553.9h26.8v27.1h-26.8zM1006.2 1527.2h26.8v27.1h-26.8zM1832.1 1420.6h26.8v27.1h-26.8zM1219.3 1394.0h26.8v27.1h-26.8zM1246.0 1367.3h26.8v27.1h-26.8zM1272.6 1340.7h26.8v27.1h-26.8zM1778.9 1340.7h26.8v27.1h-26.8zM1379.2 1260.7h26.8v27.1h-26.8zM1565.7 1260.7h26.8v27.1h-26.8zM1432.5 1234.1h26.8v27.1h-26.8zM1539.1 1180.8h53.5v27.1h-53.5z"/>
<path fill="#f78212" d="M1032.8 1873.7h26.8v27.1h-26.8zM1192.7 1740.5h26.8v27.1h-26.8zM1219.3 1687.2h26.8v27.1h-26.8zM1246.0 1633.8h26.8v27.1h-26.8zM793.0 1580.5h26.8v27.1h-26.8zM1299.2 1580.5h26.8v27.1h-26.8zM926.2 1527.2h80.1v27.1h-80.1zM1032.8 1527.2h26.8v27.1h-26.8zM1166.0 1500.6h26.8v27.1h-26.8zM1325.9 1473.9h26.8v27.1h-26.8zM1352.5 1447.3h26.8v27.1h-26.8zM1592.3 1420.6h53.5v27.1h-53.5zM1672.3 1420.6h26.8v27.1h-26.8zM1912.1 1394.0h26.8v27.1h-26.8zM1832.1 1367.3h26.8v27.1h-26.8zM1725.6 1314.0h26.8v27.1h-26.8zM1565.7 1234.1h26.8v27.1h-26.8z"/>
<path fill="#f78410" d="M1059.4 1847.1h53.5v27.1h-53.5zM1112.7 1820.4h26.8v27.1h-26.8zM1139.4 1793.8h26.8v27.1h-26.8zM1166.0 1767.1h26.8v27.1h-26.8zM1192.7 1713.8h26.8v27.1h-26.8zM713.1 1660.5h26.8v27.1h-26.8zM1219.3 1660.5h26.8v27.1h-26.8zM1246.0 1607.2h26.8v27.1h-26.8zM1325.9 1527.2h26.8v27.1h-26.8zM1325.9 1500.6h26.8v27.1h-26.8zM1965.4 1473.9h26.8v27.1h-26.8zM1192.7 1447.3h26.8v27.1h-26.8zM1379.2 1447.3h26.8v27.1h-26.8zM1885.4 1447.3h26.8v27.1h-26.8zM1565.7 1420.6h26.8v27.1h-26.8zM1645.6 1420.6h26.8v27.1h-26.8zM1858.8 1420.6h26.8v27.1h-26.8z"/>
<path fill="#f8870e" d="M499.9 2166.9h26.8v27.1h-26.8zM579.8 2166.9h26.8v27.1h-26.8zM819.6 1980.3h26.8v27.1h-26.8zM899.6 1953.7h26.8v27.1h-26.8zM846.3 1553.9h26.8v27.1h-26.8zM1059.4 1527.2h26.8v27.1h-26.8zM1325.9 1447.3h26.8v27.1h-26.8zM1565.7 1287.4h26.8v27.1h-26.8zM1565.7 1207.4h26.8v27.1h-26.8z"/>
<path fill="#f8890c" d="M526.5 2166.9h53.5v27.1h-53.5zM606.5 2140.2h26.8v27.1h-26.8zM633.1 2113.6h26.8v27.1h-26.8zM659.8 2086.9h26.8v27.1h-26.8zM686.4 2060.3h26.8v27.1h-26.8zM713.1 2033.6h26.8v27.1h-26.8zM739.7 2007.0h26.8v27.1h-26.8zM793.0 1980.3h26.8v27.1h-26.8zM872.9 1953.7h26.8v27.1h-26.8zM926.2 1927.0h26.8v27.1h-26.8zM952.9 1900.4h26.8v27.1h-26.8zM1006.2 1873.7h26.8v27.1h-26.8zM579.8 1713.8h26.8v27.1h-26.8zM1086.1 1527.2h26.8v27.1h-26.8zM1965.4 1447.3h26.8v27.1h-26.8zM1778.9 1394.0h133.4v27.1h-133.4zM1805.5 1367.3h26.8v27.1h-26.8zM1352.5 1287.4h26.8v27.1h-26.8zM1459.1 1234.1h26.8v27.1h-26.8zM1512.4 1207.4h26.8v27.1h-26.8z"/>
<path fill="#f98b0b" d="M473.3 2140.2h26.8v27.1h-26.8zM420.0 2113.6h26.8v27.1h-26.8zM366.7 2086.9h26.8v27.1h-26.8zM766.3 1980.3h26.8v27.1h-26.8zM846.3 1953.7h26.8v27.1h-26.8zM979.5 1873.7h26.8v27.1h-26.8zM1032.8 1847.1h26.8v27.1h-26.8zM1086.1 1820.4h26.8v27.1h-26.8zM553.2 1740.5h26.8v27.1h-26.8zM1166.0 1740.5h26.8v27.1h-26.8zM1192.7 1687.2h26.8v27.1h-26.8zM739.7 1633.8h26.8v27.1h-26.8zM1219.3 1633.8h26.8v27.1h-26.8zM766.3 1607.2h26.8v27.1h-26.8zM1272.6 1580.5h26.8v27.1h-26.8zM1112.7 1527.2h53.5v27.1h-53.5zM1192.7 1473.9h26.8v27.1h-26.8zM1912.1 1473.9h26.8v27.1h-26.8zM1405.8 1447.3h26.8v27.1h-26.8zM1459.1 1447.3h26.8v27.1h-26.8zM1539.1 1420.6h26.8v27.1h-26.8zM1885.4 1420.6h26.8v27.1h-26.8zM1938.7 1420.6h26.8v27.1h-26.8zM1752.2 1394.0h26.8v27.1h-26.8zM1778.9 1367.3h26.8v27.1h-26.8zM1752.2 1340.7h26.8v27.1h-26.8zM1539.1 1234.1h26.8v27.1h-26.8zM1539.1 1207.4h26.8v27.1h-26.8z"/>
<path fill="#f98e09" d="M579.8 2140.2h26.8v27.1h-26.8zM340.0 2060.3h26.8v27.1h-26.8zM686.4 2033.6h26.8v27.1h-26.8zM793.0 1953.7h53.5v27.1h-53.5zM819.6 1927.0h106.8v27.1h-106.8zM899.6 1900.4h53.5v27.1h-53.5zM952.9 1873.7h26.8v27.1h-26.8zM1059.4 1820.4h26.8v27.1h-26.8zM1112.7 1793.8h26.8v27.1h-26.8zM1139.4 1767.1h26.8v27.1h-26.8zM606.5 1713.8h80.1v27.1h-80.1zM1192.7 1660.5h26.8v27.1h-26.8zM1219.3 1607.2h26.8v27.1h-26.8zM1432.5 1447.3h26.8v27.1h-26.8zM1912.1 1420.6h26.8v27.1h-26.8zM1698.9 1314.0h26.8v27.1h-26.8zM1539.1 1260.7h26.8v27.1h-26.8zM1485.8 1234.1h26.8v27.1h-26.8z"/>
<path fill="#fa9008" d="M499.9 2140.2h26.8v27.1h-26.8zM553.2 2140.2h26.8v27.1h-26.8zM446.6 2113.6h26.8v27.1h-26.8zM606.5 2113.6h26.8v27.1h-26.8zM659.8 2060.3h26.8v27.1h-26.8zM713.1 2007.0h26.8v27.1h-26.8zM846.3 1900.4h53.5v27.1h-53.5zM899.6 1873.7h53.5v27.1h-53.5zM979.5 1847.1h53.5v27.1h-53.5zM473.3 1820.4h26.8v27.1h-26.8zM1032.8 1820.4h26.8v27.1h-26.8zM526.5 1793.8h26.8v27.1h-26.8zM686.4 1713.8h26.8v27.1h-26.8zM1166.0 1713.8h26.8v27.1h-26.8zM1192.7 1633.8h26.8v27.1h-26.8zM1246.0 1580.5h26.8v27.1h-26.8zM1166.0 1527.2h26.8v27.1h-26.8zM1192.7 1500.6h26.8v27.1h-26.8zM1299.2 1473.9h26.8v27.1h-26.8zM1752.2 1367.3h26.8v27.1h-26.8zM1512.4 1234.1h26.8v27.1h-26.8z"/>
<path fill="#fa9207" d="M526.5 2140.2h26.8v27.1h-26.8zM393.3 2086.9h26.8v27.1h-26.8zM633.1 2086.9h26.8v27.1h-26.8zM326.9 2033.6h13.4v27.1h-13.4zM739.7 1980.3h26.8v27.1h-26.8zM819.6 1900.4h26.8v27.1h-26.8zM340.0 1847.1h26.8v27.1h-26.8zM553.2 1767.1h26.8v27.1h-26.8zM1139.4 1740.5h26.8v27.1h-26.8zM1192.7 1607.2h26.8v27.1h-26.8zM1938.7 1473.9h26.8v27.1h-26.8zM1299.2 1447.3h26.8v27.1h-26.8zM1539.1 1287.4h26.8v27.1h-26.8z"/>
<path fill="#fa9407" d="M579.8 2113.6h26.8v27.1h-26.8zM659.8 2033.6h26.8v27.1h-26.8zM686.4 2007.0h26.8v27.1h-26.8zM766.3 1953.7h26.8v27.1h-26.8zM793.0 1927.0h26.8v27.1h-26.8zM952.9 1740.5h26.8v27.1h-26.8zM713.1 1687.2h26.8v27.1h-26.8zM1219.3 1580.5h26.8v27.1h-26.8zM1299.2 1553.9h26.8v27.1h-26.8zM1912.1 1447.3h26.8v27.1h-26.8zM1219.3 1420.6h26.8v27.1h-26.8zM1725.6 1394.0h26.8v27.1h-26.8zM1325.9 1314.0h26.8v27.1h-26.8zM1405.8 1260.7h26.8v27.1h-26.8z"/>
<path fill="#fb9706" d="M846.3 1873.7h53.5v27.1h-53.5zM899.6 1847.1h80.1v27.1h-80.1zM979.5 1820.4h53.5v27.1h-53.5zM1086.1 1793.8h26.8v27.1h-26.8zM952.9 1767.1h26.8v27.1h-26.8zM1112.7 1767.1h26.8v27.1h-26.8zM1166.0 1687.2h26.8v27.1h-26.8zM1192.7 1580.5h26.8v27.1h-26.8zM1139.4 1553.9h53.5v27.1h-53.5zM1246.0 1553.9h26.8v27.1h-26.8zM1192.7 1527.2h26.8v27.1h-26.8zM1219.3 1500.6h26.8v27.1h-26.8zM1219.3 1473.9h26.8v27.1h-26.8zM1219.3 1447.3h26.8v27.1h-26.8zM1512.4 1420.6h26.8v27.1h-26.8zM1725.6 1340.7h26.8v27.1h-26.8zM1672.3 1314.0h26.8v27.1h-26.8z"/>
<path fill="#fb9906" d="M926.2 1820.4h53.5v27.1h-53.5zM926.2 1793.8h160.1v27.1h-160.1zM979.5 1767.1h26.8v27.1h-26.8zM926.2 1740.5h26.8v27.1h-26.8zM1139.4 1713.8h26.8v27.1h-26.8zM1166.0 1660.5h26.8v27.1h-26.8zM1166.0 1633.8h26.8v27.1h-26.8zM1166.0 1607.2h26.8v27.1h-26.8zM1166.0 1580.5h26.8v27.1h-26.8zM1086.1 1553.9h53.5v27.1h-53.5zM1192.7 1553.9h53.5v27.1h-53.5zM1272.6 1553.9h26.8v27.1h-26.8zM1219.3 1527.2h26.8v27.1h-26.8zM1246.0 1500.6h26.8v27.1h-26.8zM1272.6 1473.9h26.8v27.1h-26.8zM1938.7 1447.3h26.8v27.1h-26.8zM1325.9 1420.6h26.8v27.1h-26.8zM1512.4 1260.7h26.8v27.1h-26.8z"/>
<path fill="#fb9b06" d="M819.6 1873.7h26.8v27.1h-26.8zM366.7 1847.1h26.8v27.1h-26.8zM846.3 1847.1h53.5v27.1h-53.5zM899.6 1820.4h26.8v27.1h-26.8zM899.6 1793.8h26.8v27.1h-26.8zM926.2 1767.1h26.8v27.1h-26.8zM1006.2 1767.1h26.8v27.1h-26.8zM1086.1 1767.1h26.8v27.1h-26.8zM979.5 1740.5h26.8v27.1h-26.8zM1139.4 1580.5h26.8v27.1h-26.8zM1059.4 1553.9h26.8v27.1h-26.8zM1246.0 1527.2h26.8v27.1h-26.8zM1272.6 1500.6h53.5v27.1h-53.5zM1246.0 1473.9h26.8v27.1h-26.8zM1352.5 1420.6h26.8v27.1h-26.8zM1246.0 1394.0h26.8v27.1h-26.8z"/>
<path fill="#fb9d07" d="M473.3 2113.6h26.8v27.1h-26.8zM553.2 2113.6h26.8v27.1h-26.8zM606.5 2086.9h26.8v27.1h-26.8zM366.7 2060.3h26.8v27.1h-26.8zM633.1 2060.3h26.8v27.1h-26.8zM326.9 1873.7h13.4v27.1h-13.4zM579.8 1740.5h26.8v27.1h-26.8zM819.6 1580.5h26.8v27.1h-26.8zM1299.2 1527.2h26.8v27.1h-26.8zM1299.2 1420.6h26.8v27.1h-26.8z"/>
<path fill="#fca108" d="M499.9 2113.6h53.5v27.1h-53.5zM420.0 2086.9h26.8v27.1h-26.8zM713.1 1980.3h26.8v27.1h-26.8zM739.7 1953.7h26.8v27.1h-26.8zM766.3 1927.0h26.8v27.1h-26.8zM793.0 1900.4h26.8v27.1h-26.8zM393.3 1847.1h53.5v27.1h-53.5zM872.9 1820.4h26.8v27.1h-26.8zM1112.7 1740.5h26.8v27.1h-26.8zM926.2 1713.8h26.8v27.1h-26.8zM872.9 1553.9h26.8v27.1h-26.8zM1272.6 1527.2h26.8v27.1h-26.8zM1272.6 1447.3h26.8v27.1h-26.8zM1379.2 1420.6h26.8v27.1h-26.8zM1698.9 1394.0h26.8v27.1h-26.8zM1272.6 1367.3h26.8v27.1h-26.8zM1725.6 1367.3h26.8v27.1h-26.8zM1592.3 1314.0h80.1v27.1h-80.1zM1379.2 1287.4h26.8v27.1h-26.8zM1432.5 1260.7h26.8v27.1h-26.8z"/>
<path fill="#fca309" d="M579.8 2086.9h26.8v27.1h-26.8zM340.0 2033.6h26.8v27.1h-26.8zM446.6 1847.1h26.8v27.1h-26.8zM819.6 1847.1h26.8v27.1h-26.8zM499.9 1820.4h26.8v27.1h-26.8zM846.3 1820.4h26.8v27.1h-26.8zM553.2 1793.8h26.8v27.1h-26.8zM872.9 1793.8h26.8v27.1h-26.8zM899.6 1767.1h26.8v27.1h-26.8zM1032.8 1767.1h53.5v27.1h-53.5zM899.6 1740.5h26.8v27.1h-26.8zM1006.2 1740.5h26.8v27.1h-26.8zM713.1 1713.8h26.8v27.1h-26.8zM1139.4 1687.2h26.8v27.1h-26.8zM739.7 1660.5h26.8v27.1h-26.8zM1139.4 1607.2h26.8v27.1h-26.8zM1112.7 1580.5h26.8v27.1h-26.8zM1032.8 1553.9h26.8v27.1h-26.8zM1246.0 1447.3h26.8v27.1h-26.8zM1485.8 1420.6h26.8v27.1h-26.8zM1698.9 1340.7h26.8v27.1h-26.8zM1565.7 1314.0h26.8v27.1h-26.8zM1512.4 1287.4h26.8v27.1h-26.8zM1485.8 1260.7h26.8v27.1h-26.8z"/>
<path fill="#fca50a" d="M446.6 2086.9h26.8v27.1h-26.8zM606.5 2060.3h26.8v27.1h-26.8zM633.1 2033.6h26.8v27.1h-26.8zM659.8 2007.0h26.8v27.1h-26.8zM793.0 1873.7h26.8v27.1h-26.8zM606.5 1740.5h106.8v27.1h-106.8zM1086.1 1740.5h26.8v27.1h-26.8zM952.9 1713.8h26.8v27.1h-26.8zM1112.7 1713.8h26.8v27.1h-26.8zM1139.4 1660.5h26.8v27.1h-26.8zM1139.4 1633.8h26.8v27.1h-26.8zM1246.0 1420.6h26.8v27.1h-26.8zM1405.8 1420.6h26.8v27.1h-26.8zM1299.2 1340.7h26.8v27.1h-26.8zM1352.5 1314.0h26.8v27.1h-26.8zM1459.1 1260.7h26.8v27.1h-26.8z"/>
<path fill="#fca80d" d="M473.3 2086.9h26.8v27.1h-26.8zM553.2 2086.9h26.8v27.1h-26.8zM393.3 2060.3h26.8v27.1h-26.8zM686.4 1980.3h26.8v27.1h-26.8zM793.0 1847.1h26.8v27.1h-26.8zM819.6 1820.4h26.8v27.1h-26.8zM846.3 1793.8h26.8v27.1h-26.8zM579.8 1767.1h26.8v27.1h-26.8zM872.9 1767.1h26.8v27.1h-26.8zM1032.8 1740.5h53.5v27.1h-53.5zM899.6 1713.8h26.8v27.1h-26.8zM979.5 1713.8h26.8v27.1h-26.8zM1112.7 1687.2h26.8v27.1h-26.8zM766.3 1633.8h26.8v27.1h-26.8zM1112.7 1607.2h26.8v27.1h-26.8zM1086.1 1580.5h26.8v27.1h-26.8zM1006.2 1553.9h26.8v27.1h-26.8zM1539.1 1314.0h26.8v27.1h-26.8z"/>
<path fill="#fcaa0f" d="M499.9 2086.9h53.5v27.1h-53.5zM326.9 2007.0h13.4v27.1h-13.4zM739.7 1927.0h26.8v27.1h-26.8zM766.3 1900.4h26.8v27.1h-26.8zM872.9 1740.5h26.8v27.1h-26.8zM793.0 1607.2h26.8v27.1h-26.8zM1272.6 1420.6h26.8v27.1h-26.8zM1672.3 1394.0h26.8v27.1h-26.8z"/>
<path fill="#fcac11" d="M579.8 2060.3h26.8v27.1h-26.8zM366.7 2033.6h26.8v27.1h-26.8zM606.5 2033.6h26.8v27.1h-26.8zM713.1 1953.7h26.8v27.1h-26.8zM713.1 1740.5h26.8v27.1h-26.8zM1432.5 1420.6h53.5v27.1h-53.5zM1272.6 1394.0h26.8v27.1h-26.8zM1565.7 1394.0h106.8v27.1h-106.8zM1698.9 1367.3h26.8v27.1h-26.8zM1405.8 1287.4h26.8v27.1h-26.8z"/>
<path fill="#fcae12" d="M819.6 1793.8h26.8v27.1h-26.8zM846.3 1767.1h26.8v27.1h-26.8zM1006.2 1713.8h26.8v27.1h-26.8zM1086.1 1713.8h26.8v27.1h-26.8zM1112.7 1660.5h26.8v27.1h-26.8zM1112.7 1633.8h26.8v27.1h-26.8zM1059.4 1580.5h26.8v27.1h-26.8zM899.6 1553.9h26.8v27.1h-26.8zM979.5 1553.9h26.8v27.1h-26.8zM1299.2 1394.0h80.1v27.1h-80.1zM1539.1 1394.0h26.8v27.1h-26.8zM1672.3 1340.7h26.8v27.1h-26.8zM1379.2 1314.0h26.8v27.1h-26.8z"/>
<path fill="#fcb216" d="M340.0 1873.7h26.8v27.1h-26.8zM766.3 1873.7h26.8v27.1h-26.8zM473.3 1847.1h26.8v27.1h-26.8zM526.5 1820.4h26.8v27.1h-26.8zM793.0 1820.4h26.8v27.1h-26.8zM872.9 1713.8h26.8v27.1h-26.8zM1059.4 1713.8h26.8v27.1h-26.8zM1086.1 1607.2h26.8v27.1h-26.8zM846.3 1580.5h26.8v27.1h-26.8zM926.2 1553.9h53.5v27.1h-53.5zM1379.2 1394.0h26.8v27.1h-26.8zM1512.4 1314.0h26.8v27.1h-26.8zM1485.8 1287.4h26.8v27.1h-26.8z"/>
<path fill="#fcb418" d="M579.8 1793.8h26.8v27.1h-26.8zM819.6 1767.1h26.8v27.1h-26.8zM846.3 1740.5h26.8v27.1h-26.8zM1032.8 1713.8h26.8v27.1h-26.8zM1086.1 1687.2h26.8v27.1h-26.8zM1405.8 1314.0h26.8v27.1h-26.8z"/>
<path fill="#fbb61a" d="M420.0 2060.3h26.8v27.1h-26.8zM633.1 2007.0h26.8v27.1h-26.8zM766.3 1847.1h26.8v27.1h-26.8zM606.5 1767.1h26.8v27.1h-26.8zM739.7 1687.2h26.8v27.1h-26.8zM899.6 1687.2h53.5v27.1h-53.5zM1299.2 1367.3h26.8v27.1h-26.8zM1325.9 1340.7h26.8v27.1h-26.8zM1379.2 1340.7h26.8v27.1h-26.8z"/>
<path fill="#fbba1f" d="M553.2 2060.3h26.8v27.1h-26.8zM393.3 2033.6h26.8v27.1h-26.8zM340.0 2007.0h26.8v27.1h-26.8zM326.9 1900.4h13.4v27.1h-13.4zM739.7 1900.4h26.8v27.1h-26.8zM366.7 1873.7h53.5v27.1h-53.5zM793.0 1793.8h26.8v27.1h-26.8zM739.7 1713.8h26.8v27.1h-26.8zM1512.4 1394.0h26.8v27.1h-26.8zM1672.3 1367.3h26.8v27.1h-26.8zM1352.5 1340.7h26.8v27.1h-26.8zM1539.1 1340.7h133.4v27.1h-133.4zM1432.5 1287.4h53.5v27.1h-53.5z"/>
<path fill="#fbbc21" d="M579.8 2033.6h26.8v27.1h-26.8zM659.8 1980.3h26.8v27.1h-26.8zM713.1 1927.0h26.8v27.1h-26.8zM420.0 1873.7h26.8v27.1h-26.8zM766.3 1820.4h26.8v27.1h-26.8zM633.1 1767.1h106.8v27.1h-106.8zM793.0 1767.1h26.8v27.1h-26.8zM739.7 1740.5h26.8v27.1h-26.8zM819.6 1740.5h26.8v27.1h-26.8zM1086.1 1660.5h26.8v27.1h-26.8zM1086.1 1633.8h26.8v27.1h-26.8zM1405.8 1394.0h26.8v27.1h-26.8zM1325.9 1367.3h80.1v27.1h-80.1zM1539.1 1367.3h133.4v27.1h-133.4zM1405.8 1340.7h26.8v27.1h-26.8zM1485.8 1314.0h26.8v27.1h-26.8z"/>
<path fill="#fbbe23" d="M446.6 2060.3h106.8v27.1h-106.8zM366.7 2007.0h26.8v27.1h-26.8zM326.9 1980.3h13.4v27.1h-13.4zM686.4 1953.7h26.8v27.1h-26.8zM553.2 1820.4h26.8v27.1h-26.8zM766.3 1793.8h26.8v27.1h-26.8zM739.7 1767.1h53.5v27.1h-53.5zM766.3 1740.5h53.5v27.1h-53.5zM952.9 1687.2h26.8v27.1h-26.8zM1059.4 1687.2h26.8v27.1h-26.8zM766.3 1660.5h26.8v27.1h-26.8zM1032.8 1580.5h26.8v27.1h-26.8zM1512.4 1340.7h26.8v27.1h-26.8zM1432.5 1314.0h26.8v27.1h-26.8z"/>
<path fill="#fac026" d="M326.9 1927.0h13.4v27.1h-13.4zM340.0 1900.4h26.8v27.1h-26.8zM446.6 1873.7h26.8v27.1h-26.8zM606.5 1793.8h26.8v27.1h-26.8zM739.7 1793.8h26.8v27.1h-26.8zM766.3 1713.8h26.8v27.1h-26.8zM846.3 1713.8h26.8v27.1h-26.8zM979.5 1687.2h26.8v27.1h-26.8zM1059.4 1607.2h26.8v27.1h-26.8zM1405.8 1367.3h26.8v27.1h-26.8zM1512.4 1367.3h26.8v27.1h-26.8zM1459.1 1314.0h26.8v27.1h-26.8z"/>
<path fill="#fac42a" d="M420.0 2033.6h26.8v27.1h-26.8zM606.5 2007.0h26.8v27.1h-26.8zM326.9 1953.7h13.4v27.1h-13.4zM366.7 1900.4h53.5v27.1h-53.5zM793.0 1713.8h26.8v27.1h-26.8zM872.9 1687.2h26.8v27.1h-26.8zM1006.2 1687.2h26.8v27.1h-26.8z"/>
<path fill="#fac62d" d="M553.2 2033.6h26.8v27.1h-26.8zM393.3 2007.0h26.8v27.1h-26.8zM633.1 1980.3h26.8v27.1h-26.8zM420.0 1900.4h26.8v27.1h-26.8zM499.9 1847.1h26.8v27.1h-26.8zM1032.8 1687.2h26.8v27.1h-26.8zM819.6 1607.2h26.8v27.1h-26.8zM1432.5 1394.0h26.8v27.1h-26.8zM1485.8 1394.0h26.8v27.1h-26.8z"/>
<path fill="#f9c72f" d="M713.1 1900.4h26.8v27.1h-26.8zM739.7 1873.7h26.8v27.1h-26.8zM579.8 1820.4h26.8v27.1h-26.8zM739.7 1820.4h26.8v27.1h-26.8zM633.1 1793.8h26.8v27.1h-26.8zM713.1 1793.8h26.8v27.1h-26.8zM819.6 1713.8h26.8v27.1h-26.8zM1059.4 1660.5h26.8v27.1h-26.8zM1059.4 1633.8h26.8v27.1h-26.8zM1006.2 1580.5h26.8v27.1h-26.8zM1459.1 1394.0h26.8v27.1h-26.8zM1432.5 1340.7h26.8v27.1h-26.8zM1485.8 1340.7h26.8v27.1h-26.8z"/>
<path fill="#f9cb35" d="M739.7 1847.1h26.8v27.1h-26.8zM659.8 1793.8h53.5v27.1h-53.5zM793.0 1633.8h26.8v27.1h-26.8zM872.9 1580.5h26.8v27.1h-26.8zM1432.5 1367.3h26.8v27.1h-26.8zM1459.1 1340.7h26.8v27.1h-26.8z"/>
<path fill="#f8cd37" d="M473.3 1873.7h26.8v27.1h-26.8zM606.5 1820.4h26.8v27.1h-26.8zM766.3 1687.2h26.8v27.1h-26.8z"/>
<path fill="#f8cf3a" d="M446.6 2033.6h26.8v27.1h-26.8zM579.8 2007.0h26.8v27.1h-26.8zM340.0 1980.3h26.8v27.1h-26.8zM340.0 1927.0h26.8v27.1h-26.8z"/>
<path fill="#f7d13d" d="M526.5 2033.6h26.8v27.1h-26.8zM420.0 2007.0h26.8v27.1h-26.8zM366.7 1980.3h26.8v27.1h-26.8zM340.0 1953.7h26.8v27.1h-26.8zM659.8 1953.7h26.8v27.1h-26.8zM366.7 1927.0h53.5v27.1h-53.5zM686.4 1927.0h26.8v27.1h-26.8zM793.0 1687.2h26.8v27.1h-26.8zM846.3 1687.2h26.8v27.1h-26.8zM1032.8 1607.2h26.8v27.1h-26.8zM1485.8 1367.3h26.8v27.1h-26.8z"/>
<path fill="#f6d543" d="M473.3 2033.6h53.5v27.1h-53.5zM393.3 1980.3h26.8v27.1h-26.8zM420.0 1927.0h26.8v27.1h-26.8zM446.6 1900.4h26.8v27.1h-26.8zM526.5 1847.1h26.8v27.1h-26.8zM713.1 1820.4h26.8v27.1h-26.8zM1032.8 1660.5h26.8v27.1h-26.8zM979.5 1580.5h26.8v27.1h-26.8z"/>
<path fill="#f6d746" d="M553.2 2007.0h26.8v27.1h-26.8zM420.0 1980.3h26.8v27.1h-26.8zM366.7 1953.7h53.5v27.1h-53.5zM633.1 1820.4h26.8v27.1h-26.8zM819.6 1687.2h26.8v27.1h-26.8zM793.0 1660.5h26.8v27.1h-26.8zM1032.8 1633.8h26.8v27.1h-26.8zM846.3 1607.2h26.8v27.1h-26.8zM1459.1 1367.3h26.8v27.1h-26.8z"/>
<path fill="#f5d949" d="M446.6 2007.0h26.8v27.1h-26.8zM606.5 1980.3h26.8v27.1h-26.8zM420.0 1953.7h26.8v27.1h-26.8zM633.1 1953.7h26.8v27.1h-26.8zM686.4 1900.4h26.8v27.1h-26.8zM553.2 1847.1h53.5v27.1h-53.5zM659.8 1820.4h53.5v27.1h-53.5zM872.9 1660.5h53.5v27.1h-53.5z"/>
<path fill="#f5db4c" d="M899.6 1580.5h26.8v27.1h-26.8z"/>
<path fill="#f4df53" d="M473.3 2007.0h26.8v27.1h-26.8zM526.5 2007.0h26.8v27.1h-26.8zM579.8 1980.3h26.8v27.1h-26.8zM659.8 1927.0h26.8v27.1h-26.8zM659.8 1900.4h26.8v27.1h-26.8zM713.1 1873.7h26.8v27.1h-26.8zM713.1 1847.1h26.8v27.1h-26.8zM1006.2 1660.5h26.8v27.1h-26.8zM819.6 1633.8h26.8v27.1h-26.8zM952.9 1580.5h26.8v27.1h-26.8z"/>
<path fill="#f4e156" d="M446.6 1980.3h26.8v27.1h-26.8zM446.6 1927.0h26.8v27.1h-26.8zM473.3 1900.4h26.8v27.1h-26.8zM633.1 1900.4h26.8v27.1h-26.8zM499.9 1873.7h26.8v27.1h-26.8zM606.5 1847.1h26.8v27.1h-26.8zM926.2 1660.5h26.8v27.1h-26.8zM979.5 1660.5h26.8v27.1h-26.8zM1006.2 1607.2h26.8v27.1h-26.8zM926.2 1580.5h26.8v27.1h-26.8z"/>
<path fill="#f3e35a" d="M446.6 1953.7h26.8v27.1h-26.8zM606.5 1953.7h26.8v27.1h-26.8zM846.3 1660.5h26.8v27.1h-26.8zM952.9 1660.5h26.8v27.1h-26.8z"/>
<path fill="#f2e661" d="M633.1 1927.0h26.8v27.1h-26.8zM606.5 1900.4h26.8v27.1h-26.8zM606.5 1873.7h26.8v27.1h-26.8zM819.6 1660.5h26.8v27.1h-26.8z"/>
<path fill="#f2e865" d="M499.9 2007.0h26.8v27.1h-26.8zM846.3 1633.8h26.8v27.1h-26.8zM872.9 1607.2h26.8v27.1h-26.8z"/>
<path fill="#f2ea69" d="M553.2 1980.3h26.8v27.1h-26.8zM606.5 1927.0h26.8v27.1h-26.8zM579.8 1873.7h26.8v27.1h-26.8zM633.1 1873.7h26.8v27.1h-26.8zM633.1 1847.1h26.8v27.1h-26.8zM686.4 1847.1h26.8v27.1h-26.8zM1006.2 1633.8h26.8v27.1h-26.8z"/>
<path fill="#f1ec6d" d="M473.3 1980.3h26.8v27.1h-26.8zM579.8 1953.7h26.8v27.1h-26.8zM473.3 1927.0h26.8v27.1h-26.8zM659.8 1847.1h26.8v27.1h-26.8zM872.9 1633.8h26.8v27.1h-26.8z"/>
<path fill="#f1ef75" d="M473.3 1953.7h26.8v27.1h-26.8zM579.8 1927.0h26.8v27.1h-26.8zM499.9 1900.4h26.8v27.1h-26.8zM579.8 1900.4h26.8v27.1h-26.8zM686.4 1873.7h26.8v27.1h-26.8zM979.5 1607.2h26.8v27.1h-26.8z"/>
<path fill="#f1f179" d="M526.5 1873.7h53.5v27.1h-53.5zM659.8 1873.7h26.8v27.1h-26.8z"/>
<path fill="#f2f27d" d="M526.5 1980.3h26.8v27.1h-26.8zM553.2 1900.4h26.8v27.1h-26.8z"/>
<path fill="#f3f586" d="M499.9 1980.3h26.8v27.1h-26.8zM553.2 1953.7h26.8v27.1h-26.8zM499.9 1927.0h26.8v27.1h-26.8zM899.6 1633.8h26.8v27.1h-26.8zM979.5 1633.8h26.8v27.1h-26.8zM899.6 1607.2h26.8v27.1h-26.8z"/>
<path fill="#f3f68a" d="M499.9 1953.7h26.8v27.1h-26.8zM553.2 1927.0h26.8v27.1h-26.8zM526.5 1900.4h26.8v27.1h-26.8z"/>
<path fill="#f4f88e" d="M526.5 1953.7h26.8v27.1h-26.8zM526.5 1927.0h26.8v27.1h-26.8z"/>
<path fill="#f5f992" d="M952.9 1607.2h26.8v27.1h-26.8z"/>
<path fill="#f8fb9a" d="M926.2 1633.8h53.5v27.1h-53.5zM926.2 1607.2h26.8v27.1h-26.8z"/>
</g>
<g stroke="#fff" stroke-opacity="0.62" stroke-width="2.1" stroke-dasharray="2.2 3.8" fill="none">
<line x1="491.9" y1="319.9" x2="491.9" y2="2630.3"/>
<line x1="997.2" y1="319.9" x2="997.2" y2="2630.3"/>
<line x1="1502.6" y1="319.9" x2="1502.6" y2="2630.3"/>
<line x1="2006.1" y1="319.9" x2="2006.1" y2="2630.3"/>
<line x1="326.9" y1="421.8" x2="2245.8" y2="421.8"/>
<line x1="326.9" y1="1040.6" x2="2245.8" y2="1040.6"/>
<line x1="326.9" y1="1659.4" x2="2245.8" y2="1659.4"/>
<line x1="326.9" y1="2278.3" x2="2245.8" y2="2278.3"/>
</g>
<g stroke="#fff" stroke-width="2.7" fill="none" stroke-linecap="butt">
<line x1="724.2" y1="2020.9" x2="728.6" y2="2020.1"/>
<line x1="750.8" y1="2020.9" x2="755.2" y2="2020.1"/>
<line x1="777.5" y1="2020.9" x2="781.9" y2="2020.1"/>
<line x1="804.1" y1="2020.9" x2="808.5" y2="2020.1"/>
<line x1="671.3" y1="2127.1" x2="674.8" y2="2127.1"/>
<line x1="435.7" y1="2261.7" x2="430.9" y2="2259.0"/>
<line x1="616.2" y1="2261.5" x2="623.4" y2="2259.2"/>
<line x1="436.9" y1="2289.3" x2="429.7" y2="2284.8"/>
<line x1="615.4" y1="2288.8" x2="624.2" y2="2285.2"/>
<line x1="619.8" y1="1755.6" x2="619.8" y2="1752.4"/>
<line x1="646.4" y1="1755.6" x2="646.4" y2="1752.4"/>
<line x1="433.3" y1="1835.6" x2="433.3" y2="1832.2"/>
<line x1="353.4" y1="1862.3" x2="353.4" y2="1858.9"/>
<line x1="353.4" y1="1888.9" x2="353.4" y2="1885.5"/>
<line x1="1206.0" y1="1490.0" x2="1206.0" y2="1485.0"/>
<line x1="1206.0" y1="1463.3" x2="1206.0" y2="1458.3"/>
<line x1="1472.4" y1="1489.5" x2="1472.4" y2="1485.5"/>
<line x1="937.5" y1="1518.7" x2="941.6" y2="1509.5"/>
<line x1="963.5" y1="1520.1" x2="968.8" y2="1508.2"/>
<line x1="990.0" y1="1520.5" x2="995.7" y2="1507.7"/>
<line x1="912.0" y1="1543.1" x2="913.8" y2="1538.4"/>
<line x1="938.0" y1="1544.5" x2="941.0" y2="1537.1"/>
<line x1="964.0" y1="1545.8" x2="968.4" y2="1535.7"/>
<line x1="990.3" y1="1546.2" x2="995.4" y2="1535.3"/>
<line x1="1017.9" y1="1544.4" x2="1021.1" y2="1537.1"/>
<line x1="1044.5" y1="1543.0" x2="1047.7" y2="1538.5"/>
<line x1="1071.0" y1="1542.2" x2="1074.5" y2="1539.3"/>
<line x1="912.1" y1="1568.8" x2="913.7" y2="1566.0"/>
<line x1="938.4" y1="1569.9" x2="940.7" y2="1564.9"/>
<line x1="964.6" y1="1570.8" x2="967.8" y2="1564.0"/>
<line x1="991.0" y1="1571.0" x2="994.6" y2="1563.9"/>
<line x1="1018.2" y1="1569.8" x2="1020.8" y2="1565.0"/>
<line x1="1044.7" y1="1569.1" x2="1047.6" y2="1565.7"/>
<line x1="1071.2" y1="1568.7" x2="1074.3" y2="1566.1"/>
<line x1="938.3" y1="1595.8" x2="940.7" y2="1592.3"/>
<line x1="964.8" y1="1596.5" x2="967.6" y2="1591.7"/>
<line x1="991.5" y1="1596.5" x2="994.2" y2="1591.7"/>
<line x1="1018.3" y1="1595.7" x2="1020.6" y2="1592.4"/>
<line x1="965.0" y1="1622.1" x2="967.3" y2="1619.3"/>
<line x1="991.7" y1="1622.1" x2="994.0" y2="1619.3"/>
<line x1="1606.2" y1="1276.7" x2="1605.1" y2="1271.8"/>
<line x1="1632.3" y1="1279.7" x2="1632.3" y2="1268.7"/>
<line x1="1659.0" y1="1280.7" x2="1659.0" y2="1267.7"/>
<line x1="1337.5" y1="1304.5" x2="1340.9" y2="1297.3"/>
<line x1="1364.6" y1="1303.6" x2="1367.1" y2="1298.2"/>
<line x1="1391.7" y1="1302.3" x2="1393.3" y2="1299.5"/>
<line x1="1579.7" y1="1302.8" x2="1578.3" y2="1299.0"/>
<line x1="1605.7" y1="1303.9" x2="1605.7" y2="1297.9"/>
<line x1="1631.8" y1="1304.9" x2="1632.9" y2="1296.9"/>
<line x1="1658.4" y1="1304.9" x2="1659.5" y2="1296.9"/>
<line x1="1685.1" y1="1304.4" x2="1686.1" y2="1297.4"/>
<line x1="1711.9" y1="1304.1" x2="1712.6" y2="1297.7"/>
<line x1="1738.5" y1="1304.9" x2="1739.3" y2="1296.9"/>
<line x1="1311.2" y1="1330.5" x2="1313.9" y2="1324.6"/>
<line x1="1337.8" y1="1330.5" x2="1340.6" y2="1324.6"/>
<line x1="1364.7" y1="1329.8" x2="1367.0" y2="1325.3"/>
<line x1="1607.1" y1="1408.9" x2="1604.3" y2="1406.1"/>
<line x1="1392.5" y1="1435.8" x2="1392.5" y2="1432.6"/>
<line x1="1580.6" y1="1435.7" x2="1577.4" y2="1432.6"/>
<line x1="1607.3" y1="1435.7" x2="1604.1" y2="1432.6"/>
<line x1="1393.3" y1="1462.9" x2="1391.7" y2="1458.7"/>
<line x1="1872.1" y1="1436.2" x2="1872.1" y2="1432.2"/>
<line x1="1898.8" y1="1436.2" x2="1898.8" y2="1432.2"/>
<line x1="1872.5" y1="1464.3" x2="1871.8" y2="1457.3"/>
<line x1="1899.1" y1="1463.8" x2="1898.4" y2="1457.8"/>
<line x1="1872.5" y1="1491.4" x2="1871.7" y2="1483.5"/>
<line x1="1899.1" y1="1490.9" x2="1898.4" y2="1484.0"/>
<line x1="1926.1" y1="1489.0" x2="1924.7" y2="1485.9"/>
</g>
<g fill="#fff">
<circle cx="326.9" cy="1913.9" r="1.20"/>
<circle cx="353.4" cy="1913.9" r="1.20"/>
<circle cx="380.0" cy="1913.9" r="1.20"/>
<circle cx="486.6" cy="1913.9" r="1.20"/>
<circle cx="513.2" cy="1913.9" r="1.20"/>
<circle cx="539.9" cy="1913.9" r="1.20"/>
<circle cx="566.5" cy="1913.9" r="1.20"/>
<circle cx="593.2" cy="1913.9" r="1.20"/>
<circle cx="326.9" cy="1940.5" r="1.20"/>
<circle cx="353.4" cy="1940.5" r="1.20"/>
<circle cx="380.0" cy="1940.5" r="1.20"/>
<circle cx="486.6" cy="1940.5" r="1.20"/>
<circle cx="513.2" cy="1940.5" r="1.20"/>
<circle cx="539.9" cy="1940.5" r="1.20"/>
<circle cx="566.5" cy="1940.5" r="1.20"/>
<circle cx="326.9" cy="1967.2" r="1.20"/>
<circle cx="353.4" cy="1967.2" r="1.20"/>
<circle cx="433.3" cy="1967.2" r="1.20"/>
<circle cx="459.9" cy="1967.2" r="1.20"/>
<circle cx="486.6" cy="1967.2" r="1.20"/>
<circle cx="513.2" cy="1967.2" r="1.20"/>
<circle cx="539.9" cy="1967.2" r="1.20"/>
<circle cx="566.5" cy="1967.2" r="1.20"/>
<circle cx="326.9" cy="1993.8" r="1.20"/>
<circle cx="353.4" cy="1993.8" r="1.20"/>
<circle cx="433.3" cy="1993.8" r="1.20"/>
<circle cx="459.9" cy="1993.8" r="1.20"/>
<circle cx="486.6" cy="1993.8" r="1.20"/>
<circle cx="513.2" cy="1993.8" r="1.20"/>
<circle cx="726.4" cy="1993.8" r="1.20"/>
<circle cx="753.0" cy="1993.8" r="1.20"/>
<circle cx="380.0" cy="2047.2" r="1.20"/>
<circle cx="380.0" cy="2073.8" r="1.38"/>
<circle cx="406.6" cy="2073.8" r="1.38"/>
<circle cx="593.2" cy="1780.6" r="1.20"/>
<circle cx="619.8" cy="1780.6" r="1.20"/>
<circle cx="646.4" cy="1780.6" r="1.20"/>
<circle cx="779.7" cy="1780.6" r="1.20"/>
<circle cx="806.3" cy="1780.6" r="1.20"/>
<circle cx="619.8" cy="1807.3" r="1.20"/>
<circle cx="646.4" cy="1807.3" r="1.20"/>
<circle cx="646.4" cy="1833.9" r="1.20"/>
<circle cx="566.5" cy="1860.6" r="1.20"/>
<circle cx="593.2" cy="1860.6" r="1.20"/>
<circle cx="673.1" cy="1860.6" r="1.20"/>
<circle cx="726.4" cy="1860.6" r="1.20"/>
<circle cx="326.9" cy="1887.2" r="1.20"/>
<circle cx="539.9" cy="1887.2" r="1.20"/>
<circle cx="566.5" cy="1887.2" r="1.20"/>
<circle cx="593.2" cy="1887.2" r="1.20"/>
<circle cx="699.7" cy="1887.2" r="1.20"/>
<circle cx="726.4" cy="1887.2" r="1.20"/>
<circle cx="886.3" cy="1594.1" r="1.20"/>
<circle cx="912.9" cy="1594.1" r="1.29"/>
<circle cx="1046.1" cy="1594.1" r="1.20"/>
<circle cx="1072.8" cy="1594.1" r="1.29"/>
<circle cx="859.6" cy="1620.7" r="1.20"/>
<circle cx="886.3" cy="1620.7" r="1.20"/>
<circle cx="912.9" cy="1620.7" r="1.20"/>
<circle cx="939.5" cy="1620.7" r="1.38"/>
<circle cx="1019.5" cy="1620.7" r="1.20"/>
<circle cx="859.6" cy="1647.4" r="1.20"/>
<circle cx="886.3" cy="1647.4" r="1.20"/>
<circle cx="912.9" cy="1647.4" r="1.20"/>
<circle cx="939.5" cy="1647.4" r="1.20"/>
<circle cx="966.2" cy="1647.4" r="1.20"/>
<circle cx="992.8" cy="1647.4" r="1.20"/>
<circle cx="1019.5" cy="1647.4" r="1.20"/>
<circle cx="912.9" cy="1674.0" r="1.20"/>
<circle cx="939.5" cy="1674.0" r="1.20"/>
<circle cx="966.2" cy="1674.0" r="1.20"/>
<circle cx="992.8" cy="1674.0" r="1.20"/>
<circle cx="1019.5" cy="1674.0" r="1.20"/>
<circle cx="939.5" cy="1700.7" r="1.20"/>
<circle cx="966.2" cy="1700.7" r="1.20"/>
<circle cx="992.8" cy="1700.7" r="1.20"/>
<circle cx="1019.5" cy="1700.7" r="1.20"/>
<circle cx="966.2" cy="1727.3" r="1.20"/>
<circle cx="992.8" cy="1727.3" r="1.20"/>
<circle cx="1019.5" cy="1727.3" r="1.20"/>
<circle cx="886.3" cy="1780.6" r="1.20"/>
<circle cx="1472.4" cy="1300.9" r="1.29"/>
<circle cx="1552.4" cy="1300.9" r="1.38"/>
<circle cx="1392.5" cy="1327.5" r="1.29"/>
<circle cx="1472.4" cy="1327.5" r="1.29"/>
<circle cx="1499.1" cy="1327.5" r="1.29"/>
<circle cx="1632.3" cy="1327.5" r="1.38"/>
<circle cx="1659.0" cy="1327.5" r="1.29"/>
<circle cx="1312.6" cy="1354.2" r="1.29"/>
<circle cx="1339.2" cy="1354.2" r="1.29"/>
<circle cx="1365.9" cy="1354.2" r="1.29"/>
<circle cx="1472.4" cy="1354.2" r="1.29"/>
<circle cx="1499.1" cy="1354.2" r="1.29"/>
<circle cx="1659.0" cy="1354.2" r="1.29"/>
<circle cx="1685.6" cy="1354.2" r="1.29"/>
<circle cx="1579.0" cy="1380.9" r="1.29"/>
<circle cx="1605.7" cy="1380.9" r="1.29"/>
<circle cx="1632.3" cy="1380.9" r="1.29"/>
<circle cx="1659.0" cy="1380.9" r="1.29"/>
<circle cx="1685.6" cy="1380.9" r="1.29"/>
<circle cx="1712.2" cy="1380.9" r="1.29"/>
<circle cx="1472.4" cy="1407.5" r="1.29"/>
<circle cx="1499.1" cy="1407.5" r="1.29"/>
<circle cx="1525.7" cy="1407.5" r="1.29"/>
<circle cx="1552.4" cy="1407.5" r="1.29"/>
<circle cx="1579.0" cy="1407.5" r="1.29"/>
<circle cx="1632.3" cy="1407.5" r="1.29"/>
<circle cx="1659.0" cy="1407.5" r="1.29"/>
<circle cx="1685.6" cy="1407.5" r="1.29"/>
<circle cx="1925.4" cy="1460.8" r="1.38"/>
</g>
<g stroke="#fff" stroke-width="2.5" fill="none" stroke-linejoin="miter">
<path d="M340.8 661.9 V1461 L327.5 1474.3"/>
<path d="M327.5 2300.2 H407 L421 2314.2"/>
</g>
<g stroke="#fff" stroke-width="1.1" fill="none" stroke-opacity="0.9">
<line x1="327.9" y1="321.5" x2="2245" y2="321.5"/>
<line x1="328.5" y1="321" x2="328.5" y2="1474"/>
<line x1="328.5" y1="2300" x2="328.5" y2="2630.3"/>
</g>
<g stroke="#000" stroke-width="2.1" fill="none">
<path d="M326.9 2630.3 V319.9 H2245.8 V2630.3"/>
</g>
<g stroke="#000" stroke-width="2.1">
<line x1="491.9" y1="310.4" x2="491.9" y2="319.9"/>
<line x1="491.9" y1="2630.3" x2="491.9" y2="2639.8"/>
<line x1="997.2" y1="310.4" x2="997.2" y2="319.9"/>
<line x1="997.2" y1="2630.3" x2="997.2" y2="2639.8"/>
<line x1="1502.6" y1="310.4" x2="1502.6" y2="319.9"/>
<line x1="1502.6" y1="2630.3" x2="1502.6" y2="2639.8"/>
<line x1="2006.1" y1="310.4" x2="2006.1" y2="319.9"/>
<line x1="2006.1" y1="2630.3" x2="2006.1" y2="2639.8"/>
<line x1="317.4" y1="421.8" x2="326.9" y2="421.8"/>
<line x1="2245.8" y1="421.8" x2="2255.3" y2="421.8"/>
<line x1="317.4" y1="1040.6" x2="326.9" y2="1040.6"/>
<line x1="2245.8" y1="1040.6" x2="2255.3" y2="1040.6"/>
<line x1="317.4" y1="1659.4" x2="326.9" y2="1659.4"/>
<line x1="2245.8" y1="1659.4" x2="2255.3" y2="1659.4"/>
<line x1="317.4" y1="2278.3" x2="326.9" y2="2278.3"/>
<line x1="2245.8" y1="2278.3" x2="2255.3" y2="2278.3"/>
</g>
<g font-size="41.67" fill="#000">
<text x="491.9" y="290" text-anchor="middle">02.6<tspan font-size="29.17" dy="-15.2">s</tspan></text>
<text x="997.2" y="290" text-anchor="middle">02.4<tspan font-size="29.17" dy="-15.2">s</tspan></text>
<text x="1502.6" y="290" text-anchor="middle">02.2<tspan font-size="29.17" dy="-15.2">s</tspan></text>
<text x="2006.1" y="290" text-anchor="middle">20<tspan font-size="29.17" dy="-15.2">h</tspan><tspan dy="15.2">52</tspan><tspan font-size="29.17" dy="-15.2">m</tspan><tspan dy="15.2">02.0</tspan><tspan font-size="29.17" dy="-15.2">s</tspan></text>
<text x="308.3" y="431.8" text-anchor="end">-57°04'04"</text>
<text x="308.3" y="1050.6" text-anchor="end">06"</text>
<text x="308.3" y="1669.4" text-anchor="end">08"</text>
<text x="308.3" y="2288.3" text-anchor="end">10"</text>
<text x="1286.5" y="227.5" text-anchor="middle">Right Ascension (J2000)</text>
<text transform="translate(51.4 1476) rotate(-90)" text-anchor="middle">Declination (J2000)</text>
</g>
<text x="987.3" y="59.4" font-size="50" fill="#000">IC5063 with <tspan class="i">SNR</tspan><tspan class="i" font-size="35" dy="8.5">p</tspan><tspan dy="-8.5" dx="-3.7"> ≥ </tspan><tspan dx="10.6"> 1 and </tspan><tspan class="i">SNR</tspan><tspan class="i" font-size="35" dy="8.5">I</tspan><tspan dy="-8.5" dx="-3.7"> ≥ </tspan><tspan dx="7"> 10</tspan></text>
<defs><linearGradient id="cb" x1="0" y1="0" x2="0" y2="1">
<stop offset="0.0000" stop-color="#fcffa4"/>
<stop offset="0.0156" stop-color="#f8fb9a"/>
<stop offset="0.0312" stop-color="#f3f68a"/>
<stop offset="0.0469" stop-color="#f1f179"/>
<stop offset="0.0625" stop-color="#f2ea69"/>
<stop offset="0.0781" stop-color="#f3e35a"/>
<stop offset="0.0938" stop-color="#f5db4c"/>
<stop offset="0.1094" stop-color="#f7d340"/>
<stop offset="0.1250" stop-color="#f9cb35"/>
<stop offset="0.1406" stop-color="#fac42a"/>
<stop offset="0.1562" stop-color="#fbbc21"/>
<stop offset="0.1719" stop-color="#fcb418"/>
<stop offset="0.1875" stop-color="#fcac11"/>
<stop offset="0.2031" stop-color="#fca50a"/>
<stop offset="0.2188" stop-color="#fb9d07"/>
<stop offset="0.2344" stop-color="#fb9606"/>
<stop offset="0.2500" stop-color="#f98e09"/>
<stop offset="0.2656" stop-color="#f8870e"/>
<stop offset="0.2812" stop-color="#f68013"/>
<stop offset="0.2969" stop-color="#f47918"/>
<stop offset="0.3125" stop-color="#f1731d"/>
<stop offset="0.3281" stop-color="#ef6c23"/>
<stop offset="0.3438" stop-color="#eb6628"/>
<stop offset="0.3594" stop-color="#e8602d"/>
<stop offset="0.3750" stop-color="#e45a31"/>
<stop offset="0.3906" stop-color="#e05536"/>
<stop offset="0.4062" stop-color="#db503b"/>
<stop offset="0.4219" stop-color="#d74b3f"/>
<stop offset="0.4375" stop-color="#d24644"/>
<stop offset="0.4531" stop-color="#cc4248"/>
<stop offset="0.4688" stop-color="#c73e4c"/>
<stop offset="0.4844" stop-color="#c13a50"/>
<stop offset="0.5000" stop-color="#bc3754"/>
<stop offset="0.5156" stop-color="#b63458"/>
<stop offset="0.5312" stop-color="#b0315b"/>
<stop offset="0.5469" stop-color="#a92e5e"/>
<stop offset="0.5625" stop-color="#a32c61"/>
<stop offset="0.5781" stop-color="#9d2964"/>
<stop offset="0.5938" stop-color="#972766"/>
<stop offset="0.6094" stop-color="#902568"/>
<stop offset="0.6250" stop-color="#8a226a"/>
<stop offset="0.6406" stop-color="#84206b"/>
<stop offset="0.6562" stop-color="#7d1e6d"/>
<stop offset="0.6719" stop-color="#771c6d"/>
<stop offset="0.6875" stop-color="#71196e"/>
<stop offset="0.7031" stop-color="#6a176e"/>
<stop offset="0.7188" stop-color="#64156e"/>
<stop offset="0.7344" stop-color="#5d126e"/>
<stop offset="0.7500" stop-color="#57106e"/>
<stop offset="0.7656" stop-color="#510e6c"/>
<stop offset="0.7812" stop-color="#4a0c6b"/>
<stop offset="0.7969" stop-color="#440a68"/>
<stop offset="0.8125" stop-color="#3d0965"/>
<stop offset="0.8281" stop-color="#360961"/>
<stop offset="0.8438" stop-color="#2f0a5b"/>
<stop offset="0.8594" stop-color="#280b53"/>
<stop offset="0.8750" stop-color="#210c4a"/>
<stop offset="0.8906" stop-color="#1b0c41"/>
<stop offset="0.9062" stop-color="#150b37"/>
<stop offset="0.9219" stop-color="#10092d"/>
<stop offset="0.9375" stop-color="#0b0724"/>
<stop offset="0.9531" stop-color="#07051b"/>
<stop offset="0.9688" stop-color="#040312"/>
<stop offset="0.9844" stop-color="#02010a"/>
<stop offset="1.0000" stop-color="#000004"/>
</linearGradient></defs>
<rect x="2304.1" y="319.9" width="29.2" height="2310.4" fill="url(#cb)"/>
<path d="M2304.1 2630.3 V319.9 H2333.3 V2630.3" stroke="#000" stroke-width="2.1" fill="none"/>
<g stroke="#000" stroke-width="2.1">
<line x1="2333.3" y1="494.0" x2="2342.8" y2="494.0"/>
<line x1="2333.3" y1="1227.3" x2="2342.8" y2="1227.3"/>
<line x1="2333.3" y1="1960.6" x2="2342.8" y2="1960.6"/>
</g><g stroke="#000" stroke-width="1.6">
<line x1="2333.3" y1="1006.6" x2="2338.5" y2="1006.6"/>
<line x1="2333.3" y1="877.4" x2="2338.5" y2="877.4"/>
<line x1="2333.3" y1="785.8" x2="2338.5" y2="785.8"/>
<line x1="2333.3" y1="714.7" x2="2338.5" y2="714.7"/>
<line x1="2333.3" y1="656.7" x2="2338.5" y2="656.7"/>
<line x1="2333.3" y1="607.6" x2="2338.5" y2="607.6"/>
<line x1="2333.3" y1="565.1" x2="2338.5" y2="565.1"/>
<line x1="2333.3" y1="527.6" x2="2338.5" y2="527.6"/>
<line x1="2333.3" y1="1739.9" x2="2338.5" y2="1739.9"/>
<line x1="2333.3" y1="1610.7" x2="2338.5" y2="1610.7"/>
<line x1="2333.3" y1="1519.1" x2="2338.5" y2="1519.1"/>
<line x1="2333.3" y1="1448.0" x2="2338.5" y2="1448.0"/>
<line x1="2333.3" y1="1390.0" x2="2338.5" y2="1390.0"/>
<line x1="2333.3" y1="1340.9" x2="2338.5" y2="1340.9"/>
<line x1="2333.3" y1="1298.4" x2="2338.5" y2="1298.4"/>
<line x1="2333.3" y1="1260.9" x2="2338.5" y2="1260.9"/>
<line x1="2333.3" y1="2473.2" x2="2338.5" y2="2473.2"/>
<line x1="2333.3" y1="2344.0" x2="2338.5" y2="2344.0"/>
<line x1="2333.3" y1="2252.4" x2="2338.5" y2="2252.4"/>
<line x1="2333.3" y1="2181.3" x2="2338.5" y2="2181.3"/>
<line x1="2333.3" y1="2123.3" x2="2338.5" y2="2123.3"/>
<line x1="2333.3" y1="2074.2" x2="2338.5" y2="2074.2"/>
<line x1="2333.3" y1="2031.7" x2="2338.5" y2="2031.7"/>
<line x1="2333.3" y1="1994.2" x2="2338.5" y2="1994.2"/>
</g>
<g font-size="41.67" fill="#000">
<text x="2352.9" y="509.9">10<tspan font-size="29.17" dy="-15.8">−17</tspan></text>
<text x="2352.9" y="1243.2">10<tspan font-size="29.17" dy="-15.8">−18</tspan></text>
<text x="2352.9" y="1976.5">10<tspan font-size="29.17" dy="-15.8">−19</tspan></text>
<text transform="translate(2518.8 1475) rotate(-90)" text-anchor="middle"><tspan class="i">F</tspan><tspan class="i" font-size="29.17" dy="6.5">λ</tspan><tspan dy="-6.5"> [</tspan><tspan class="i">ergs</tspan><tspan dx="12.5">·</tspan><tspan class="i" dx="5.2">cm</tspan><tspan font-size="29.17" dy="-15.8" dx="0.3">−2</tspan><tspan dy="15.8" dx="7">·</tspan><tspan class="i" dx="10">s</tspan><tspan font-size="29.17" dy="-15.8" dx="-1.4">−1</tspan><tspan dy="15.8" dx="12">·</tspan><tspan class="i" dx="7">Å</tspan><tspan font-size="29.17" dy="-15.8" dx="2">−1</tspan><tspan dy="15.8" dx="10.6">]</tspan></text>
</g>
<g font-size="33.33" fill="#fff">
<text x="348.5" y="364.3"><tspan class="i">F</tspan></text>
<text x="368.6" y="351.6" font-size="23.33" class="i">int</text>
<text x="365.6" y="373.8" font-size="23.33" class="i">λ</text>
<text x="400.6" y="364.3">(4985 <tspan class="i">Å</tspan>) = (46.65 ± 0.06)e-16 <tspan class="i">ergs</tspan></text>
<text x="1005.3" y="364.3">·</text>
<text x="1021" y="364.3" class="i">cm</text>
<text x="1074.2" y="351.3" font-size="23.33">−2</text>
<text x="1117" y="364.3">·</text>
<text x="1132.8" y="364.3" class="i">s</text>
<text x="1152" y="351.3" font-size="23.33">−1</text>
<text x="1195.3" y="364.3">·</text>
<text x="1210.2" y="364.3" class="i">Å</text>
<text x="1236.8" y="351.3" font-size="23.33">−1</text>
<text x="348.5" y="409.6" class="i">P</text>
<text x="369.2" y="397" font-size="23.33" class="i">int</text>
<text x="412" y="409.6">= 1.4 ± 0.3 %</text>
<text x="348.5" y="457.3" class="i">θ</text>
<text x="370.2" y="444.6" font-size="23.33" class="i">int</text>
<text x="369.2" y="466.5" font-size="23.33" class="i">P</text>
<text x="412" y="457.3">= 179.0 ± 4.1 °</text>
</g>
<line x1="366.6" y1="2539.3" x2="676" y2="2539.3" stroke="#fff" stroke-width="3.2"/>
<text x="521.4" y="2584.1" font-size="39.2" fill="#fff" text-anchor="middle">1 arcsec</text>
<line x1="2090.5" y1="2539.6" x2="2144.6" y2="2539.6" stroke="#fff" stroke-width="3.2"/>
<text y="2584.1" font-size="39.2" fill="#fff"><tspan x="2028.3" class="i">P</tspan><tspan x="2050.8">=</tspan><tspan x="2096.2">100%</tspan></text>
<g stroke="#fff" stroke-width="3.1" fill="#fff">
<line x1="2161.6" y1="603" x2="2161.6" y2="444"/>
<line x1="2163" y1="603.6" x2="2034" y2="603.6"/>
<path d="M2161.6 422.4 L2173.2 444.8 L2150 444.8 Z" stroke="none"/>
<path d="M2012.1 603.6 L2034.8 592 L2034.8 615.2 Z" stroke="none"/>
</g>
<g fill="#fff" font-size="56" stroke="#fff" stroke-width="0.7">
<text transform="translate(2182.0 395) scale(0.785 1)">N</text>
<text transform="translate(2029.0 580.2) scale(0.785 1)">E</text>
</g>
</svg></body></html>
